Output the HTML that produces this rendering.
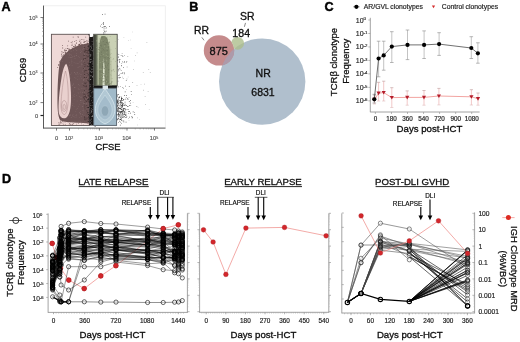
<!DOCTYPE html>
<html><head><meta charset="utf-8"><style>
html,body{margin:0;padding:0;background:#fff;}
body{width:520px;height:342px;overflow:hidden;}
svg{display:block;font-family:"Liberation Sans",sans-serif;filter:blur(0.25px);}
</style></head><body>
<svg width="520" height="342" viewBox="0 0 520 342">
<text x="1.60" y="10.60" font-size="12.6" font-weight="bold" fill="#000" stroke="#000" stroke-width="0.45" >A</text>
<rect x="43.5" y="5.8" width="121.8" height="122.3" fill="none" stroke="#ececec" stroke-width="0.8"/>
<path d="M43.50 5.60L43.50 128.40" stroke="#4a4a4a" stroke-width="0.9" />
<path d="M43.20 128.10L165.50 128.10" stroke="#4a4a4a" stroke-width="0.9" />
<path d="M40.50 17.50L43.50 17.50" stroke="#444" stroke-width="0.7" />
<text x="29.00" y="19.60" font-size="5.8" fill="#555" stroke="#555" stroke-width="0.15">10<tspan font-size="3.60" dy="-1.74">5</tspan></text>
<path d="M40.50 44.00L43.50 44.00" stroke="#444" stroke-width="0.7" />
<text x="29.00" y="46.10" font-size="5.8" fill="#555" stroke="#555" stroke-width="0.15">10<tspan font-size="3.60" dy="-1.74">4</tspan></text>
<path d="M40.50 73.00L43.50 73.00" stroke="#444" stroke-width="0.7" />
<text x="29.00" y="75.10" font-size="5.8" fill="#555" stroke="#555" stroke-width="0.15">10<tspan font-size="3.60" dy="-1.74">3</tspan></text>
<path d="M40.50 102.60L43.50 102.60" stroke="#444" stroke-width="0.7" />
<text x="29.00" y="104.70" font-size="5.8" fill="#555" stroke="#555" stroke-width="0.15">10<tspan font-size="3.60" dy="-1.74">2</tspan></text>
<path d="M40.50 115.50L43.50 115.50" stroke="#222" stroke-width="1.2" />
<text x="35.00" y="118.00" font-size="5.8" fill="#555" stroke="#555" stroke-width="0.18" >0</text>
<path d="M42.00 36.02L43.50 36.02" stroke="#777" stroke-width="0.5" />
<path d="M42.00 31.36L43.50 31.36" stroke="#777" stroke-width="0.5" />
<path d="M42.00 28.05L43.50 28.05" stroke="#777" stroke-width="0.5" />
<path d="M42.00 25.48L43.50 25.48" stroke="#777" stroke-width="0.5" />
<path d="M42.00 23.38L43.50 23.38" stroke="#777" stroke-width="0.5" />
<path d="M42.00 21.60L43.50 21.60" stroke="#777" stroke-width="0.5" />
<path d="M42.00 20.07L43.50 20.07" stroke="#777" stroke-width="0.5" />
<path d="M42.00 18.71L43.50 18.71" stroke="#777" stroke-width="0.5" />
<path d="M42.00 64.27L43.50 64.27" stroke="#777" stroke-width="0.5" />
<path d="M42.00 59.16L43.50 59.16" stroke="#777" stroke-width="0.5" />
<path d="M42.00 55.54L43.50 55.54" stroke="#777" stroke-width="0.5" />
<path d="M42.00 52.73L43.50 52.73" stroke="#777" stroke-width="0.5" />
<path d="M42.00 50.43L43.50 50.43" stroke="#777" stroke-width="0.5" />
<path d="M42.00 48.49L43.50 48.49" stroke="#777" stroke-width="0.5" />
<path d="M42.00 46.81L43.50 46.81" stroke="#777" stroke-width="0.5" />
<path d="M42.00 45.33L43.50 45.33" stroke="#777" stroke-width="0.5" />
<path d="M42.00 93.69L43.50 93.69" stroke="#777" stroke-width="0.5" />
<path d="M42.00 88.48L43.50 88.48" stroke="#777" stroke-width="0.5" />
<path d="M42.00 84.78L43.50 84.78" stroke="#777" stroke-width="0.5" />
<path d="M42.00 81.91L43.50 81.91" stroke="#777" stroke-width="0.5" />
<path d="M42.00 79.57L43.50 79.57" stroke="#777" stroke-width="0.5" />
<path d="M42.00 77.59L43.50 77.59" stroke="#777" stroke-width="0.5" />
<path d="M42.00 75.87L43.50 75.87" stroke="#777" stroke-width="0.5" />
<path d="M42.00 74.35L43.50 74.35" stroke="#777" stroke-width="0.5" />
<path d="M56.50 128.10L56.50 130.60" stroke="#444" stroke-width="0.7" />
<path d="M69.50 128.10L69.50 130.60" stroke="#444" stroke-width="0.7" />
<path d="M99.40 128.10L99.40 130.60" stroke="#444" stroke-width="0.7" />
<path d="M127.00 128.10L127.00 130.60" stroke="#444" stroke-width="0.7" />
<path d="M154.50 128.10L154.50 130.60" stroke="#444" stroke-width="0.7" />
<text x="56.50" y="140.30" font-size="5.8" text-anchor="middle" fill="#555" stroke="#555" stroke-width="0.18" >0</text>
<text x="64.70" y="140.30" font-size="5.8" fill="#555" stroke="#555" stroke-width="0.15">10<tspan font-size="3.60" dy="-1.74">2</tspan></text>
<text x="94.60" y="140.30" font-size="5.8" fill="#555" stroke="#555" stroke-width="0.15">10<tspan font-size="3.60" dy="-1.74">3</tspan></text>
<text x="122.20" y="140.30" font-size="5.8" fill="#555" stroke="#555" stroke-width="0.15">10<tspan font-size="3.60" dy="-1.74">4</tspan></text>
<text x="149.70" y="140.30" font-size="5.8" fill="#555" stroke="#555" stroke-width="0.15">10<tspan font-size="3.60" dy="-1.74">5</tspan></text>
<path d="M78.50 128.10L78.50 129.40" stroke="#777" stroke-width="0.5" />
<path d="M83.77 128.10L83.77 129.40" stroke="#777" stroke-width="0.5" />
<path d="M87.50 128.10L87.50 129.40" stroke="#777" stroke-width="0.5" />
<path d="M90.40 128.10L90.40 129.40" stroke="#777" stroke-width="0.5" />
<path d="M92.77 128.10L92.77 129.40" stroke="#777" stroke-width="0.5" />
<path d="M94.77 128.10L94.77 129.40" stroke="#777" stroke-width="0.5" />
<path d="M96.50 128.10L96.50 129.40" stroke="#777" stroke-width="0.5" />
<path d="M98.03 128.10L98.03 129.40" stroke="#777" stroke-width="0.5" />
<path d="M107.71 128.10L107.71 129.40" stroke="#777" stroke-width="0.5" />
<path d="M112.57 128.10L112.57 129.40" stroke="#777" stroke-width="0.5" />
<path d="M116.02 128.10L116.02 129.40" stroke="#777" stroke-width="0.5" />
<path d="M118.69 128.10L118.69 129.40" stroke="#777" stroke-width="0.5" />
<path d="M120.88 128.10L120.88 129.40" stroke="#777" stroke-width="0.5" />
<path d="M122.72 128.10L122.72 129.40" stroke="#777" stroke-width="0.5" />
<path d="M124.33 128.10L124.33 129.40" stroke="#777" stroke-width="0.5" />
<path d="M125.74 128.10L125.74 129.40" stroke="#777" stroke-width="0.5" />
<path d="M135.28 128.10L135.28 129.40" stroke="#777" stroke-width="0.5" />
<path d="M140.12 128.10L140.12 129.40" stroke="#777" stroke-width="0.5" />
<path d="M143.56 128.10L143.56 129.40" stroke="#777" stroke-width="0.5" />
<path d="M146.22 128.10L146.22 129.40" stroke="#777" stroke-width="0.5" />
<path d="M148.40 128.10L148.40 129.40" stroke="#777" stroke-width="0.5" />
<path d="M150.24 128.10L150.24 129.40" stroke="#777" stroke-width="0.5" />
<path d="M151.83 128.10L151.83 129.40" stroke="#777" stroke-width="0.5" />
<path d="M153.24 128.10L153.24 129.40" stroke="#777" stroke-width="0.5" />
<text x="107.90" y="150.40" font-size="9.4" text-anchor="middle" fill="#111" stroke="#111" stroke-width="0.32" >CFSE</text>
<text x="0" y="0" font-size="9.6" text-anchor="middle" fill="#111" stroke="#111" stroke-width="0.28" transform="translate(25.6,70) rotate(-90)">CD69</text>
<rect x="51.4" y="34.3" width="38.0" height="91.2" fill="#efd9d7" stroke="#5e5353" stroke-width="0.9"/>
<clipPath id="cpA"><rect x="51.8" y="34.7" width="37.4" height="90.4"/></clipPath>
<g clip-path="url(#cpA)">
<path d="M89.4,43 C84,43.8 78,45.5 73,48 C67.5,51 62.5,55.5 60.3,61 C58.6,67 57.8,80 57.5,95 C57.2,108 57.9,116 60,120 C63,122.3 72,122.5 80,122.8 L89.4,123.5 Z" fill="#6d5556"/>
<path d="M58.5 65.2h0.8v0.8h-0.8zM79.6 44.3h0.8v0.8h-0.8zM66.0 50.1h0.8v0.8h-0.8zM64.6 52.5h0.8v0.8h-0.8zM62.3 47.6h0.8v0.8h-0.8zM68.3 48.4h0.8v0.8h-0.8zM65.5 48.5h0.8v0.8h-0.8zM81.0 43.7h0.8v0.8h-0.8zM80.5 41.8h0.8v0.8h-0.8zM65.4 50.2h0.8v0.8h-0.8zM75.0 47.1h0.8v0.8h-0.8zM73.7 47.5h0.8v0.8h-0.8zM71.7 47.5h0.8v0.8h-0.8zM61.2 53.9h0.8v0.8h-0.8zM59.3 61.2h0.8v0.8h-0.8zM67.0 48.1h0.8v0.8h-0.8zM79.5 43.8h0.8v0.8h-0.8zM71.6 45.1h0.8v0.8h-0.8zM87.6 43.2h0.8v0.8h-0.8zM72.8 36.8h0.8v0.8h-0.8zM68.7 50.6h0.8v0.8h-0.8zM77.9 45.7h0.8v0.8h-0.8zM78.3 46.2h0.8v0.8h-0.8zM85.3 36.7h0.8v0.8h-0.8zM77.9 46.3h0.8v0.8h-0.8zM79.6 39.8h0.8v0.8h-0.8zM87.0 43.7h0.8v0.8h-0.8zM87.7 41.0h0.8v0.8h-0.8zM69.3 48.7h0.8v0.8h-0.8zM86.8 42.6h0.8v0.8h-0.8zM67.3 45.4h0.8v0.8h-0.8zM81.4 44.4h0.8v0.8h-0.8zM75.7 47.1h0.8v0.8h-0.8zM71.9 41.5h0.8v0.8h-0.8zM83.9 42.2h0.8v0.8h-0.8zM58.2 64.5h0.8v0.8h-0.8zM77.3 46.4h0.8v0.8h-0.8zM62.8 52.1h0.8v0.8h-0.8zM58.6 63.9h0.8v0.8h-0.8zM86.0 40.5h0.8v0.8h-0.8zM78.2 36.8h0.8v0.8h-0.8zM83.4 41.9h0.8v0.8h-0.8zM71.7 43.7h0.8v0.8h-0.8zM75.5 46.5h0.8v0.8h-0.8zM77.5 45.8h0.8v0.8h-0.8zM59.6 62.8h0.8v0.8h-0.8zM68.5 49.6h0.8v0.8h-0.8zM85.7 44.1h0.8v0.8h-0.8zM84.3 41.3h0.8v0.8h-0.8zM61.6 56.5h0.8v0.8h-0.8zM70.8 42.3h0.8v0.8h-0.8zM80.4 45.6h0.8v0.8h-0.8zM66.8 52.3h0.8v0.8h-0.8zM77.5 36.5h0.8v0.8h-0.8zM75.0 45.0h0.8v0.8h-0.8zM61.5 52.8h0.8v0.8h-0.8zM65.8 53.2h0.8v0.8h-0.8zM75.2 44.8h0.8v0.8h-0.8zM75.4 45.9h0.8v0.8h-0.8zM82.0 43.9h0.8v0.8h-0.8zM76.1 42.4h0.8v0.8h-0.8zM88.9 37.9h0.8v0.8h-0.8zM78.9 46.2h0.8v0.8h-0.8zM61.5 51.2h0.8v0.8h-0.8zM65.6 50.0h0.8v0.8h-0.8zM68.0 40.8h0.8v0.8h-0.8zM80.1 42.7h0.8v0.8h-0.8zM75.9 42.9h0.8v0.8h-0.8zM79.0 45.3h0.8v0.8h-0.8zM65.1 53.7h0.8v0.8h-0.8zM74.3 41.0h0.8v0.8h-0.8zM84.9 44.1h0.8v0.8h-0.8zM61.7 55.6h0.8v0.8h-0.8zM83.4 41.8h0.8v0.8h-0.8zM75.4 46.6h0.8v0.8h-0.8zM73.2 46.1h0.8v0.8h-0.8zM80.2 45.6h0.8v0.8h-0.8zM68.4 50.0h0.8v0.8h-0.8zM74.6 44.5h0.8v0.8h-0.8zM68.6 50.0h0.8v0.8h-0.8zM78.7 44.1h0.8v0.8h-0.8zM61.6 55.2h0.8v0.8h-0.8zM72.2 48.3h0.8v0.8h-0.8zM63.1 54.5h0.8v0.8h-0.8zM78.1 44.5h0.8v0.8h-0.8zM68.0 50.9h0.8v0.8h-0.8zM78.0 46.2h0.8v0.8h-0.8zM65.1 52.6h0.8v0.8h-0.8zM78.9 44.7h0.8v0.8h-0.8zM75.8 39.9h0.8v0.8h-0.8zM63.0 54.8h0.8v0.8h-0.8zM89.0 37.5h0.8v0.8h-0.8zM78.7 45.3h0.8v0.8h-0.8zM75.4 46.3h0.8v0.8h-0.8zM64.1 49.6h0.8v0.8h-0.8zM86.9 43.2h0.8v0.8h-0.8zM65.3 51.8h0.8v0.8h-0.8zM87.5 40.5h0.8v0.8h-0.8zM81.5 39.1h0.8v0.8h-0.8zM57.3 67.0h0.8v0.8h-0.8zM64.5 50.6h0.8v0.8h-0.8zM69.5 49.1h0.8v0.8h-0.8zM80.3 45.3h0.8v0.8h-0.8zM59.3 61.7h0.8v0.8h-0.8zM83.5 39.5h0.8v0.8h-0.8zM85.3 40.9h0.8v0.8h-0.8zM75.3 47.0h0.8v0.8h-0.8zM79.2 41.3h0.8v0.8h-0.8zM74.1 45.9h0.8v0.8h-0.8zM62.0 45.0h0.8v0.8h-0.8zM70.3 49.8h0.8v0.8h-0.8zM60.0 60.4h0.8v0.8h-0.8z" fill="#6c5353" />
<path d="M66.4 115.8h0.6v0.6h-0.6zM80.2 99.9h0.6v0.6h-0.6zM65.6 107.1h0.6v0.6h-0.6zM87.3 111.0h0.6v0.6h-0.6zM82.1 106.0h0.6v0.6h-0.6zM83.7 88.4h0.6v0.6h-0.6zM73.8 105.9h0.6v0.6h-0.6zM83.2 108.7h0.6v0.6h-0.6zM70.1 115.4h0.6v0.6h-0.6zM76.4 114.2h0.6v0.6h-0.6zM65.1 116.0h0.6v0.6h-0.6zM83.3 64.0h0.6v0.6h-0.6zM84.6 62.3h0.6v0.6h-0.6zM67.3 82.8h0.6v0.6h-0.6zM68.4 84.7h0.6v0.6h-0.6zM86.5 95.0h0.6v0.6h-0.6zM81.2 74.5h0.6v0.6h-0.6zM83.2 103.1h0.6v0.6h-0.6zM80.4 113.8h0.6v0.6h-0.6zM84.3 75.0h0.6v0.6h-0.6zM64.4 96.2h0.6v0.6h-0.6zM84.6 70.1h0.6v0.6h-0.6zM78.1 106.5h0.6v0.6h-0.6zM83.4 46.2h0.6v0.6h-0.6zM75.2 49.5h0.6v0.6h-0.6zM65.0 106.1h0.6v0.6h-0.6zM73.3 90.7h0.6v0.6h-0.6zM74.4 71.9h0.6v0.6h-0.6zM67.8 75.9h0.6v0.6h-0.6zM84.8 90.4h0.6v0.6h-0.6zM69.9 57.1h0.6v0.6h-0.6zM69.3 98.2h0.6v0.6h-0.6zM73.9 94.5h0.6v0.6h-0.6zM83.8 54.4h0.6v0.6h-0.6zM80.4 49.7h0.6v0.6h-0.6zM84.2 58.9h0.6v0.6h-0.6zM69.3 115.2h0.6v0.6h-0.6zM71.8 65.2h0.6v0.6h-0.6zM86.0 89.6h0.6v0.6h-0.6zM86.1 73.8h0.6v0.6h-0.6zM75.5 114.9h0.6v0.6h-0.6zM75.7 117.2h0.6v0.6h-0.6zM67.1 107.0h0.6v0.6h-0.6zM66.4 87.7h0.6v0.6h-0.6zM62.0 67.7h0.6v0.6h-0.6zM87.5 78.0h0.6v0.6h-0.6zM83.9 63.8h0.6v0.6h-0.6zM71.5 56.9h0.6v0.6h-0.6zM76.9 108.3h0.6v0.6h-0.6zM75.9 74.4h0.6v0.6h-0.6zM87.1 110.2h0.6v0.6h-0.6zM80.0 52.3h0.6v0.6h-0.6zM78.8 78.7h0.6v0.6h-0.6zM87.9 71.1h0.6v0.6h-0.6zM79.9 91.8h0.6v0.6h-0.6zM72.1 85.3h0.6v0.6h-0.6zM80.3 111.4h0.6v0.6h-0.6zM75.4 73.6h0.6v0.6h-0.6zM88.4 48.5h0.6v0.6h-0.6zM84.5 95.1h0.6v0.6h-0.6zM77.1 79.2h0.6v0.6h-0.6zM82.3 110.2h0.6v0.6h-0.6zM81.7 100.1h0.6v0.6h-0.6zM62.9 76.4h0.6v0.6h-0.6zM65.7 115.0h0.6v0.6h-0.6zM86.1 55.6h0.6v0.6h-0.6zM77.9 88.2h0.6v0.6h-0.6zM63.3 80.4h0.6v0.6h-0.6zM82.2 92.3h0.6v0.6h-0.6zM69.6 102.2h0.6v0.6h-0.6zM69.9 87.6h0.6v0.6h-0.6zM73.4 116.5h0.6v0.6h-0.6zM79.5 104.2h0.6v0.6h-0.6zM80.3 73.9h0.6v0.6h-0.6zM88.0 96.6h0.6v0.6h-0.6zM80.7 66.5h0.6v0.6h-0.6zM66.4 90.7h0.6v0.6h-0.6zM84.3 103.1h0.6v0.6h-0.6zM71.4 59.7h0.6v0.6h-0.6zM75.9 109.4h0.6v0.6h-0.6zM66.4 101.2h0.6v0.6h-0.6zM66.6 73.7h0.6v0.6h-0.6zM63.4 74.4h0.6v0.6h-0.6zM72.3 115.7h0.6v0.6h-0.6zM88.0 58.2h0.6v0.6h-0.6zM70.4 114.2h0.6v0.6h-0.6zM67.3 73.9h0.6v0.6h-0.6zM73.8 56.3h0.6v0.6h-0.6zM69.0 77.9h0.6v0.6h-0.6zM72.4 115.5h0.6v0.6h-0.6zM69.2 65.3h0.6v0.6h-0.6zM86.5 77.8h0.6v0.6h-0.6zM84.6 91.7h0.6v0.6h-0.6zM83.0 68.6h0.6v0.6h-0.6zM66.1 102.5h0.6v0.6h-0.6zM74.7 87.3h0.6v0.6h-0.6zM80.1 100.4h0.6v0.6h-0.6zM69.4 75.7h0.6v0.6h-0.6zM86.8 83.5h0.6v0.6h-0.6zM69.8 93.3h0.6v0.6h-0.6zM69.0 102.9h0.6v0.6h-0.6zM63.1 107.3h0.6v0.6h-0.6zM77.3 72.6h0.6v0.6h-0.6zM87.4 64.1h0.6v0.6h-0.6zM68.6 56.8h0.6v0.6h-0.6zM76.8 100.7h0.6v0.6h-0.6zM80.3 76.2h0.6v0.6h-0.6zM83.8 53.7h0.6v0.6h-0.6zM70.3 94.2h0.6v0.6h-0.6zM88.1 91.1h0.6v0.6h-0.6zM80.7 101.9h0.6v0.6h-0.6zM72.7 113.9h0.6v0.6h-0.6zM82.0 70.8h0.6v0.6h-0.6zM72.6 104.7h0.6v0.6h-0.6zM71.4 62.7h0.6v0.6h-0.6zM85.5 83.9h0.6v0.6h-0.6zM76.1 94.9h0.6v0.6h-0.6zM86.3 54.7h0.6v0.6h-0.6zM71.1 54.8h0.6v0.6h-0.6zM73.2 83.6h0.6v0.6h-0.6zM85.0 93.9h0.6v0.6h-0.6zM77.6 76.0h0.6v0.6h-0.6zM77.5 66.9h0.6v0.6h-0.6zM84.8 102.6h0.6v0.6h-0.6zM84.6 56.4h0.6v0.6h-0.6zM80.1 100.5h0.6v0.6h-0.6zM75.5 110.9h0.6v0.6h-0.6zM86.3 99.2h0.6v0.6h-0.6zM84.2 92.6h0.6v0.6h-0.6zM85.7 54.7h0.6v0.6h-0.6zM81.0 96.8h0.6v0.6h-0.6zM78.5 66.8h0.6v0.6h-0.6zM63.8 93.3h0.6v0.6h-0.6zM84.3 65.3h0.6v0.6h-0.6zM67.8 67.4h0.6v0.6h-0.6zM64.5 97.6h0.6v0.6h-0.6zM88.3 103.4h0.6v0.6h-0.6zM71.7 97.5h0.6v0.6h-0.6zM63.9 107.9h0.6v0.6h-0.6zM70.8 50.8h0.6v0.6h-0.6zM79.0 57.0h0.6v0.6h-0.6zM69.4 55.5h0.6v0.6h-0.6zM74.0 87.1h0.6v0.6h-0.6zM83.8 48.6h0.6v0.6h-0.6zM84.3 53.6h0.6v0.6h-0.6zM68.1 93.8h0.6v0.6h-0.6zM71.2 72.7h0.6v0.6h-0.6zM77.3 63.0h0.6v0.6h-0.6zM83.4 60.9h0.6v0.6h-0.6zM84.7 104.1h0.6v0.6h-0.6zM76.5 50.1h0.6v0.6h-0.6zM83.0 48.0h0.6v0.6h-0.6zM75.6 77.8h0.6v0.6h-0.6zM63.7 95.0h0.6v0.6h-0.6zM81.6 88.3h0.6v0.6h-0.6zM72.8 84.4h0.6v0.6h-0.6zM77.9 63.5h0.6v0.6h-0.6zM85.4 117.7h0.6v0.6h-0.6zM83.7 115.2h0.6v0.6h-0.6zM70.9 117.1h0.6v0.6h-0.6zM63.9 85.4h0.6v0.6h-0.6zM65.6 83.3h0.6v0.6h-0.6zM80.4 97.2h0.6v0.6h-0.6zM74.3 72.3h0.6v0.6h-0.6zM67.1 79.3h0.6v0.6h-0.6zM69.6 64.4h0.6v0.6h-0.6zM81.9 83.3h0.6v0.6h-0.6zM73.8 62.4h0.6v0.6h-0.6zM81.0 60.6h0.6v0.6h-0.6zM69.2 88.9h0.6v0.6h-0.6zM80.9 116.1h0.6v0.6h-0.6zM82.2 114.3h0.6v0.6h-0.6zM86.8 97.7h0.6v0.6h-0.6zM81.4 50.9h0.6v0.6h-0.6zM67.6 53.8h0.6v0.6h-0.6zM85.3 97.8h0.6v0.6h-0.6zM79.0 65.9h0.6v0.6h-0.6zM71.6 61.1h0.6v0.6h-0.6zM79.1 117.4h0.6v0.6h-0.6zM70.3 54.0h0.6v0.6h-0.6zM66.7 76.5h0.6v0.6h-0.6zM86.3 103.7h0.6v0.6h-0.6zM74.3 55.7h0.6v0.6h-0.6zM64.9 64.6h0.6v0.6h-0.6zM83.0 79.9h0.6v0.6h-0.6zM88.7 111.5h0.6v0.6h-0.6zM83.5 80.2h0.6v0.6h-0.6zM84.2 54.9h0.6v0.6h-0.6zM64.9 90.4h0.6v0.6h-0.6zM75.7 62.8h0.6v0.6h-0.6zM68.8 53.5h0.6v0.6h-0.6zM86.5 96.8h0.6v0.6h-0.6zM87.5 116.6h0.6v0.6h-0.6zM73.8 99.5h0.6v0.6h-0.6zM72.4 105.1h0.6v0.6h-0.6zM84.7 55.1h0.6v0.6h-0.6zM62.3 69.9h0.6v0.6h-0.6zM77.8 74.2h0.6v0.6h-0.6zM62.2 107.6h0.6v0.6h-0.6zM83.2 79.3h0.6v0.6h-0.6zM63.2 111.1h0.6v0.6h-0.6zM76.4 52.9h0.6v0.6h-0.6zM70.7 92.7h0.6v0.6h-0.6zM85.9 80.4h0.6v0.6h-0.6zM79.3 61.7h0.6v0.6h-0.6zM68.6 111.8h0.6v0.6h-0.6zM72.3 56.6h0.6v0.6h-0.6zM78.0 56.4h0.6v0.6h-0.6zM67.4 82.7h0.6v0.6h-0.6zM77.8 92.4h0.6v0.6h-0.6zM81.1 78.0h0.6v0.6h-0.6zM63.8 100.8h0.6v0.6h-0.6zM63.5 85.2h0.6v0.6h-0.6zM72.8 95.5h0.6v0.6h-0.6zM81.3 63.6h0.6v0.6h-0.6zM79.5 96.1h0.6v0.6h-0.6zM74.7 58.3h0.6v0.6h-0.6zM86.5 88.7h0.6v0.6h-0.6zM63.7 70.6h0.6v0.6h-0.6zM88.6 61.1h0.6v0.6h-0.6zM72.6 103.4h0.6v0.6h-0.6zM84.2 91.5h0.6v0.6h-0.6zM82.0 49.0h0.6v0.6h-0.6zM64.5 116.5h0.6v0.6h-0.6zM83.7 48.5h0.6v0.6h-0.6zM63.3 70.9h0.6v0.6h-0.6zM87.1 60.8h0.6v0.6h-0.6zM80.1 113.0h0.6v0.6h-0.6zM79.2 112.3h0.6v0.6h-0.6zM69.1 62.0h0.6v0.6h-0.6zM62.5 103.1h0.6v0.6h-0.6zM64.8 116.3h0.6v0.6h-0.6zM81.2 59.9h0.6v0.6h-0.6zM83.8 57.5h0.6v0.6h-0.6zM75.8 55.5h0.6v0.6h-0.6zM83.2 110.0h0.6v0.6h-0.6zM86.7 45.0h0.6v0.6h-0.6zM85.0 85.7h0.6v0.6h-0.6zM84.2 82.0h0.6v0.6h-0.6zM78.7 89.3h0.6v0.6h-0.6zM83.6 51.4h0.6v0.6h-0.6zM63.5 89.8h0.6v0.6h-0.6zM69.9 77.8h0.6v0.6h-0.6zM62.2 102.4h0.6v0.6h-0.6zM62.6 107.5h0.6v0.6h-0.6zM83.9 78.8h0.6v0.6h-0.6zM65.3 95.8h0.6v0.6h-0.6zM67.6 80.8h0.6v0.6h-0.6zM65.0 116.5h0.6v0.6h-0.6zM76.7 72.6h0.6v0.6h-0.6zM64.5 101.0h0.6v0.6h-0.6zM84.9 107.0h0.6v0.6h-0.6zM64.7 78.2h0.6v0.6h-0.6zM70.2 102.1h0.6v0.6h-0.6zM66.0 92.8h0.6v0.6h-0.6zM88.4 101.0h0.6v0.6h-0.6zM62.2 61.4h0.6v0.6h-0.6zM65.1 98.6h0.6v0.6h-0.6zM78.2 84.1h0.6v0.6h-0.6zM74.3 76.9h0.6v0.6h-0.6zM78.5 93.2h0.6v0.6h-0.6zM86.7 98.4h0.6v0.6h-0.6zM83.5 111.7h0.6v0.6h-0.6zM84.6 97.4h0.6v0.6h-0.6zM62.8 98.3h0.6v0.6h-0.6zM84.9 76.6h0.6v0.6h-0.6zM85.7 58.2h0.6v0.6h-0.6zM87.5 77.0h0.6v0.6h-0.6zM81.1 64.6h0.6v0.6h-0.6zM70.1 74.4h0.6v0.6h-0.6zM70.8 57.0h0.6v0.6h-0.6zM74.0 116.7h0.6v0.6h-0.6zM79.7 113.2h0.6v0.6h-0.6zM82.6 106.3h0.6v0.6h-0.6zM88.8 99.7h0.6v0.6h-0.6zM69.4 68.2h0.6v0.6h-0.6zM73.1 50.4h0.6v0.6h-0.6zM68.2 110.5h0.6v0.6h-0.6zM86.9 68.8h0.6v0.6h-0.6zM82.8 101.8h0.6v0.6h-0.6zM86.0 103.0h0.6v0.6h-0.6zM76.4 55.3h0.6v0.6h-0.6zM84.3 68.3h0.6v0.6h-0.6zM78.9 73.2h0.6v0.6h-0.6zM76.5 115.6h0.6v0.6h-0.6zM66.4 87.9h0.6v0.6h-0.6zM79.5 85.2h0.6v0.6h-0.6zM87.3 74.5h0.6v0.6h-0.6zM86.7 95.3h0.6v0.6h-0.6zM88.1 51.0h0.6v0.6h-0.6zM67.7 71.6h0.6v0.6h-0.6zM86.5 45.9h0.6v0.6h-0.6zM69.0 99.2h0.6v0.6h-0.6zM88.7 57.2h0.6v0.6h-0.6zM73.8 96.3h0.6v0.6h-0.6zM80.6 99.9h0.6v0.6h-0.6zM82.3 64.0h0.6v0.6h-0.6zM68.9 53.8h0.6v0.6h-0.6zM80.7 61.6h0.6v0.6h-0.6zM69.0 115.6h0.6v0.6h-0.6z" fill="#8a7272" />
<path d="M77.9 123.5h0.6v0.6h-0.6zM78.3 123.5h0.6v0.6h-0.6zM79.5 122.0h0.6v0.6h-0.6zM60.0 120.8h0.6v0.6h-0.6zM58.5 122.3h0.6v0.6h-0.6zM62.4 121.1h0.6v0.6h-0.6zM73.3 125.3h0.6v0.6h-0.6zM79.3 121.9h0.6v0.6h-0.6zM81.9 121.4h0.6v0.6h-0.6zM61.1 122.0h0.6v0.6h-0.6zM70.7 123.9h0.6v0.6h-0.6zM71.8 124.1h0.6v0.6h-0.6zM60.9 125.2h0.6v0.6h-0.6zM68.6 124.7h0.6v0.6h-0.6zM59.0 124.6h0.6v0.6h-0.6zM65.0 124.8h0.6v0.6h-0.6zM82.9 123.9h0.6v0.6h-0.6zM66.6 120.5h0.6v0.6h-0.6zM63.9 125.0h0.6v0.6h-0.6zM62.9 123.8h0.6v0.6h-0.6zM76.2 123.8h0.6v0.6h-0.6zM63.6 121.2h0.6v0.6h-0.6zM61.0 125.4h0.6v0.6h-0.6zM69.9 123.8h0.6v0.6h-0.6zM75.7 121.6h0.6v0.6h-0.6zM60.0 120.6h0.6v0.6h-0.6zM84.4 121.2h0.6v0.6h-0.6zM87.9 122.3h0.6v0.6h-0.6zM80.4 121.2h0.6v0.6h-0.6zM82.4 121.8h0.6v0.6h-0.6zM69.4 123.1h0.6v0.6h-0.6zM61.5 121.7h0.6v0.6h-0.6zM82.7 121.9h0.6v0.6h-0.6zM69.8 124.3h0.6v0.6h-0.6zM64.9 121.5h0.6v0.6h-0.6zM64.8 122.4h0.6v0.6h-0.6zM69.3 123.7h0.6v0.6h-0.6zM72.6 124.8h0.6v0.6h-0.6zM59.6 123.8h0.6v0.6h-0.6zM83.9 121.7h0.6v0.6h-0.6zM58.9 122.7h0.6v0.6h-0.6zM61.6 122.8h0.6v0.6h-0.6zM80.1 121.0h0.6v0.6h-0.6zM61.7 122.9h0.6v0.6h-0.6zM63.4 121.7h0.6v0.6h-0.6zM71.6 121.1h0.6v0.6h-0.6zM60.1 122.3h0.6v0.6h-0.6zM72.5 125.2h0.6v0.6h-0.6zM75.2 120.9h0.6v0.6h-0.6zM64.9 124.2h0.6v0.6h-0.6zM75.4 124.9h0.6v0.6h-0.6zM87.8 124.8h0.6v0.6h-0.6zM61.4 125.2h0.6v0.6h-0.6zM74.3 121.7h0.6v0.6h-0.6zM63.3 124.8h0.6v0.6h-0.6zM64.6 120.9h0.6v0.6h-0.6zM66.2 125.1h0.6v0.6h-0.6zM72.3 124.2h0.6v0.6h-0.6zM60.3 122.8h0.6v0.6h-0.6zM67.9 121.5h0.6v0.6h-0.6zM78.6 122.3h0.6v0.6h-0.6zM61.7 125.4h0.6v0.6h-0.6zM72.9 121.4h0.6v0.6h-0.6zM58.3 123.8h0.6v0.6h-0.6zM74.0 120.6h0.6v0.6h-0.6zM72.6 124.2h0.6v0.6h-0.6zM74.7 121.7h0.6v0.6h-0.6zM73.5 123.5h0.6v0.6h-0.6zM78.2 121.2h0.6v0.6h-0.6zM82.9 125.2h0.6v0.6h-0.6zM81.0 124.8h0.6v0.6h-0.6zM69.4 125.0h0.6v0.6h-0.6zM63.6 121.6h0.6v0.6h-0.6zM76.5 125.0h0.6v0.6h-0.6zM60.5 121.6h0.6v0.6h-0.6zM59.1 122.7h0.6v0.6h-0.6zM62.4 121.5h0.6v0.6h-0.6zM81.2 123.4h0.6v0.6h-0.6zM87.1 122.5h0.6v0.6h-0.6zM79.1 120.6h0.6v0.6h-0.6zM87.4 121.7h0.6v0.6h-0.6zM72.8 123.1h0.6v0.6h-0.6zM87.4 123.0h0.6v0.6h-0.6zM88.7 123.6h0.6v0.6h-0.6zM64.7 124.7h0.6v0.6h-0.6zM64.3 125.5h0.6v0.6h-0.6zM72.2 121.6h0.6v0.6h-0.6zM87.8 122.1h0.6v0.6h-0.6zM70.6 122.2h0.6v0.6h-0.6zM78.7 120.6h0.6v0.6h-0.6z" fill="#7a6060" />
<path d="M85.4 58.3h0.8v0.8h-0.8zM88.3 46.0h0.8v0.8h-0.8zM86.9 65.6h0.8v0.8h-0.8zM85.9 88.7h0.8v0.8h-0.8zM87.6 56.5h0.8v0.8h-0.8zM84.5 55.2h0.8v0.8h-0.8zM89.1 57.3h0.8v0.8h-0.8zM83.9 85.7h0.8v0.8h-0.8zM86.7 113.4h0.8v0.8h-0.8zM83.4 63.8h0.8v0.8h-0.8zM84.1 90.5h0.8v0.8h-0.8zM85.9 77.1h0.8v0.8h-0.8zM88.7 96.3h0.8v0.8h-0.8zM88.5 118.7h0.8v0.8h-0.8zM84.7 117.6h0.8v0.8h-0.8zM85.6 49.9h0.8v0.8h-0.8zM88.9 53.9h0.8v0.8h-0.8zM83.1 68.0h0.8v0.8h-0.8zM84.8 119.5h0.8v0.8h-0.8zM88.6 77.9h0.8v0.8h-0.8zM86.4 110.5h0.8v0.8h-0.8zM88.2 95.7h0.8v0.8h-0.8zM86.3 54.9h0.8v0.8h-0.8zM84.6 96.0h0.8v0.8h-0.8zM86.8 106.9h0.8v0.8h-0.8zM88.8 119.1h0.8v0.8h-0.8zM84.2 51.8h0.8v0.8h-0.8zM88.7 89.3h0.8v0.8h-0.8zM84.2 98.6h0.8v0.8h-0.8zM84.6 64.0h0.8v0.8h-0.8zM85.3 85.8h0.8v0.8h-0.8zM87.3 51.6h0.8v0.8h-0.8zM87.7 93.4h0.8v0.8h-0.8zM86.0 97.1h0.8v0.8h-0.8zM88.1 46.7h0.8v0.8h-0.8zM86.0 97.5h0.8v0.8h-0.8zM87.5 95.2h0.8v0.8h-0.8zM84.2 118.8h0.8v0.8h-0.8zM88.0 63.7h0.8v0.8h-0.8zM85.8 118.8h0.8v0.8h-0.8zM84.3 77.1h0.8v0.8h-0.8zM89.2 114.4h0.8v0.8h-0.8zM84.5 101.9h0.8v0.8h-0.8zM85.3 96.4h0.8v0.8h-0.8zM87.9 55.7h0.8v0.8h-0.8zM84.4 62.3h0.8v0.8h-0.8zM84.7 48.7h0.8v0.8h-0.8zM83.9 76.9h0.8v0.8h-0.8zM85.7 51.9h0.8v0.8h-0.8zM86.7 117.6h0.8v0.8h-0.8zM86.7 73.0h0.8v0.8h-0.8zM87.5 79.2h0.8v0.8h-0.8zM84.1 82.6h0.8v0.8h-0.8zM83.1 97.4h0.8v0.8h-0.8zM84.0 74.1h0.8v0.8h-0.8zM89.2 104.3h0.8v0.8h-0.8zM88.3 94.8h0.8v0.8h-0.8zM87.1 99.6h0.8v0.8h-0.8zM89.2 60.9h0.8v0.8h-0.8zM87.9 68.9h0.8v0.8h-0.8zM84.6 108.4h0.8v0.8h-0.8zM86.8 110.6h0.8v0.8h-0.8zM88.6 90.7h0.8v0.8h-0.8zM84.3 47.1h0.8v0.8h-0.8zM86.4 101.1h0.8v0.8h-0.8zM84.7 51.3h0.8v0.8h-0.8zM83.0 59.2h0.8v0.8h-0.8zM87.5 46.3h0.8v0.8h-0.8zM84.5 66.2h0.8v0.8h-0.8zM87.6 121.0h0.8v0.8h-0.8zM83.1 54.7h0.8v0.8h-0.8zM89.0 119.7h0.8v0.8h-0.8zM84.0 71.5h0.8v0.8h-0.8zM86.3 70.3h0.8v0.8h-0.8zM85.7 82.4h0.8v0.8h-0.8zM84.7 50.2h0.8v0.8h-0.8zM83.5 58.3h0.8v0.8h-0.8zM83.6 93.4h0.8v0.8h-0.8zM87.5 66.0h0.8v0.8h-0.8zM88.1 101.4h0.8v0.8h-0.8zM85.2 83.4h0.8v0.8h-0.8zM84.2 116.6h0.8v0.8h-0.8zM86.6 49.9h0.8v0.8h-0.8zM84.0 98.6h0.8v0.8h-0.8zM85.5 100.5h0.8v0.8h-0.8zM84.5 106.6h0.8v0.8h-0.8zM88.1 53.2h0.8v0.8h-0.8zM86.8 60.5h0.8v0.8h-0.8zM87.5 107.1h0.8v0.8h-0.8zM88.1 63.6h0.8v0.8h-0.8zM83.6 96.4h0.8v0.8h-0.8zM86.6 56.5h0.8v0.8h-0.8zM84.2 90.3h0.8v0.8h-0.8zM83.7 94.2h0.8v0.8h-0.8zM84.5 65.6h0.8v0.8h-0.8zM85.7 86.5h0.8v0.8h-0.8zM87.6 48.3h0.8v0.8h-0.8zM87.6 62.8h0.8v0.8h-0.8zM84.9 94.6h0.8v0.8h-0.8zM87.4 92.7h0.8v0.8h-0.8zM88.8 61.6h0.8v0.8h-0.8zM85.0 96.4h0.8v0.8h-0.8zM84.7 58.0h0.8v0.8h-0.8zM84.4 104.6h0.8v0.8h-0.8zM88.3 100.4h0.8v0.8h-0.8zM89.1 106.4h0.8v0.8h-0.8zM85.0 70.0h0.8v0.8h-0.8zM87.6 50.2h0.8v0.8h-0.8zM86.9 52.8h0.8v0.8h-0.8zM83.3 85.0h0.8v0.8h-0.8zM84.0 116.8h0.8v0.8h-0.8zM88.6 81.1h0.8v0.8h-0.8zM84.3 55.1h0.8v0.8h-0.8zM86.2 85.6h0.8v0.8h-0.8zM85.3 100.4h0.8v0.8h-0.8zM86.4 104.9h0.8v0.8h-0.8zM83.7 51.3h0.8v0.8h-0.8zM85.5 82.7h0.8v0.8h-0.8zM84.6 96.8h0.8v0.8h-0.8zM84.4 70.2h0.8v0.8h-0.8z" fill="#433232" />
<path d="M66.2,63.8 C68.5,67 70.3,78 70.9,92 C71.4,105 70.5,114 66.5,117.5 C63.5,119.5 60,118 58.8,113 C58,105 59.5,90 61.5,78 C62.8,70 64.5,65 66.2,63.8 Z" fill="#e9d0ce"/>
<path d="M65.5,71 C67.5,77 68.5,90 68.2,100 C68,109 66.5,114 64.5,114.5 C62,114.5 60.8,110 61,104 C61.3,95 63,80 65.5,71 Z" fill="none" stroke="#b09090" stroke-width="0.55"/>
<ellipse cx="64.2" cy="106" rx="2.6" ry="5.5" fill="none" stroke="#a88888" stroke-width="0.5"/>
<ellipse cx="64.2" cy="107" rx="1.2" ry="2.8" fill="none" stroke="#a08080" stroke-width="0.45"/>
</g>
<rect x="89.4" y="37" width="4.4" height="88.5" fill="#1c1818"/>
<path d="M91.4 100.5h0.6v0.6h-0.6zM92.6 71.6h0.6v0.6h-0.6zM91.3 118.8h0.6v0.6h-0.6zM93.3 92.6h0.6v0.6h-0.6zM89.8 78.7h0.6v0.6h-0.6zM92.1 63.7h0.6v0.6h-0.6zM89.6 123.4h0.6v0.6h-0.6zM93.2 51.0h0.6v0.6h-0.6zM91.4 92.6h0.6v0.6h-0.6zM90.7 45.8h0.6v0.6h-0.6zM92.6 105.5h0.6v0.6h-0.6zM91.2 47.3h0.6v0.6h-0.6zM91.1 48.0h0.6v0.6h-0.6zM93.4 44.4h0.6v0.6h-0.6zM90.6 105.3h0.6v0.6h-0.6zM90.0 49.1h0.6v0.6h-0.6zM89.7 53.9h0.6v0.6h-0.6zM91.6 110.8h0.6v0.6h-0.6zM90.1 54.8h0.6v0.6h-0.6zM92.6 76.2h0.6v0.6h-0.6zM90.8 50.5h0.6v0.6h-0.6zM90.4 122.6h0.6v0.6h-0.6zM89.9 62.1h0.6v0.6h-0.6zM92.5 115.8h0.6v0.6h-0.6zM93.2 80.2h0.6v0.6h-0.6zM93.4 91.3h0.6v0.6h-0.6zM90.6 79.5h0.6v0.6h-0.6zM92.4 102.4h0.6v0.6h-0.6zM89.9 56.5h0.6v0.6h-0.6zM93.4 49.1h0.6v0.6h-0.6zM92.8 68.8h0.6v0.6h-0.6zM90.4 61.7h0.6v0.6h-0.6zM91.4 124.2h0.6v0.6h-0.6zM90.0 112.6h0.6v0.6h-0.6zM90.7 54.7h0.6v0.6h-0.6zM92.5 69.0h0.6v0.6h-0.6zM90.2 75.6h0.6v0.6h-0.6zM92.9 113.4h0.6v0.6h-0.6zM91.8 40.9h0.6v0.6h-0.6zM92.6 91.6h0.6v0.6h-0.6zM93.2 120.9h0.6v0.6h-0.6zM90.8 112.1h0.6v0.6h-0.6zM92.8 62.6h0.6v0.6h-0.6zM90.9 71.8h0.6v0.6h-0.6zM90.9 72.2h0.6v0.6h-0.6zM89.9 59.3h0.6v0.6h-0.6zM93.2 74.9h0.6v0.6h-0.6zM92.1 115.4h0.6v0.6h-0.6zM92.6 60.8h0.6v0.6h-0.6zM93.3 108.4h0.6v0.6h-0.6zM93.6 101.9h0.6v0.6h-0.6zM92.6 109.1h0.6v0.6h-0.6zM90.5 95.8h0.6v0.6h-0.6zM91.0 111.4h0.6v0.6h-0.6zM90.0 85.8h0.6v0.6h-0.6zM90.8 109.8h0.6v0.6h-0.6zM90.9 111.7h0.6v0.6h-0.6zM93.0 114.7h0.6v0.6h-0.6zM90.0 119.8h0.6v0.6h-0.6zM92.5 97.5h0.6v0.6h-0.6zM92.1 44.1h0.6v0.6h-0.6zM93.1 86.6h0.6v0.6h-0.6zM91.3 68.8h0.6v0.6h-0.6zM92.7 106.5h0.6v0.6h-0.6zM93.1 58.2h0.6v0.6h-0.6zM90.8 61.2h0.6v0.6h-0.6zM89.8 67.8h0.6v0.6h-0.6zM89.5 107.7h0.6v0.6h-0.6zM90.4 46.0h0.6v0.6h-0.6zM89.7 103.0h0.6v0.6h-0.6zM90.2 79.3h0.6v0.6h-0.6zM91.1 108.2h0.6v0.6h-0.6zM93.4 66.3h0.6v0.6h-0.6zM92.1 116.1h0.6v0.6h-0.6zM91.4 116.5h0.6v0.6h-0.6zM92.5 66.5h0.6v0.6h-0.6zM93.1 88.7h0.6v0.6h-0.6zM89.8 89.9h0.6v0.6h-0.6zM92.9 84.1h0.6v0.6h-0.6zM91.4 75.4h0.6v0.6h-0.6zM93.1 96.6h0.6v0.6h-0.6zM90.3 70.8h0.6v0.6h-0.6zM90.9 121.5h0.6v0.6h-0.6zM92.3 50.6h0.6v0.6h-0.6zM93.2 43.0h0.6v0.6h-0.6zM91.9 76.8h0.6v0.6h-0.6zM92.4 76.5h0.6v0.6h-0.6zM89.8 84.5h0.6v0.6h-0.6zM92.8 107.1h0.6v0.6h-0.6zM90.9 58.9h0.6v0.6h-0.6z" fill="#bbb" />
<path d="M93.1 107.8h0.8v0.8h-0.8zM89.1 115.2h0.8v0.8h-0.8zM94.9 73.9h0.8v0.8h-0.8zM90.4 99.3h0.8v0.8h-0.8zM94.5 52.6h0.8v0.8h-0.8zM89.8 64.3h0.8v0.8h-0.8zM93.0 51.2h0.8v0.8h-0.8zM91.6 80.0h0.8v0.8h-0.8zM92.5 47.2h0.8v0.8h-0.8zM94.7 126.0h0.8v0.8h-0.8zM91.7 107.2h0.8v0.8h-0.8zM88.9 117.7h0.8v0.8h-0.8zM91.6 103.9h0.8v0.8h-0.8zM94.0 67.3h0.8v0.8h-0.8zM94.4 53.1h0.8v0.8h-0.8zM87.7 80.2h0.8v0.8h-0.8zM94.2 116.8h0.8v0.8h-0.8zM94.7 81.0h0.8v0.8h-0.8zM94.5 85.5h0.8v0.8h-0.8zM88.6 92.1h0.8v0.8h-0.8zM93.5 73.0h0.8v0.8h-0.8zM92.0 57.8h0.8v0.8h-0.8zM89.6 72.7h0.8v0.8h-0.8zM91.3 77.1h0.8v0.8h-0.8zM88.2 34.5h0.8v0.8h-0.8zM90.1 100.0h0.8v0.8h-0.8zM93.1 55.8h0.8v0.8h-0.8zM89.4 81.5h0.8v0.8h-0.8zM88.8 89.5h0.8v0.8h-0.8zM94.3 52.6h0.8v0.8h-0.8zM91.9 100.3h0.8v0.8h-0.8zM93.1 99.5h0.8v0.8h-0.8zM92.8 59.1h0.8v0.8h-0.8zM93.8 119.1h0.8v0.8h-0.8zM87.9 120.9h0.8v0.8h-0.8zM90.8 41.9h0.8v0.8h-0.8zM88.0 107.3h0.8v0.8h-0.8zM92.6 47.1h0.8v0.8h-0.8zM90.9 92.8h0.8v0.8h-0.8zM95.0 64.9h0.8v0.8h-0.8zM93.2 56.6h0.8v0.8h-0.8zM89.0 48.8h0.8v0.8h-0.8zM90.6 90.9h0.8v0.8h-0.8zM89.8 48.9h0.8v0.8h-0.8zM89.1 41.8h0.8v0.8h-0.8zM88.9 63.1h0.8v0.8h-0.8zM91.3 50.9h0.8v0.8h-0.8zM91.1 74.5h0.8v0.8h-0.8zM94.8 78.7h0.8v0.8h-0.8zM94.6 77.4h0.8v0.8h-0.8zM89.0 88.5h0.8v0.8h-0.8zM88.6 49.6h0.8v0.8h-0.8zM88.0 98.5h0.8v0.8h-0.8zM94.8 71.1h0.8v0.8h-0.8zM90.2 73.1h0.8v0.8h-0.8zM90.1 97.5h0.8v0.8h-0.8zM90.4 48.0h0.8v0.8h-0.8zM94.0 86.7h0.8v0.8h-0.8zM87.5 112.2h0.8v0.8h-0.8zM93.0 66.6h0.8v0.8h-0.8zM92.2 118.7h0.8v0.8h-0.8zM90.5 73.8h0.8v0.8h-0.8zM89.7 85.0h0.8v0.8h-0.8zM92.5 101.6h0.8v0.8h-0.8zM94.6 47.4h0.8v0.8h-0.8zM90.2 112.3h0.8v0.8h-0.8zM93.4 88.3h0.8v0.8h-0.8zM92.6 65.3h0.8v0.8h-0.8zM94.6 84.5h0.8v0.8h-0.8zM90.5 50.8h0.8v0.8h-0.8zM88.4 116.6h0.8v0.8h-0.8zM93.5 36.5h0.8v0.8h-0.8zM89.9 78.1h0.8v0.8h-0.8zM91.2 67.4h0.8v0.8h-0.8zM94.2 66.2h0.8v0.8h-0.8zM91.5 119.5h0.8v0.8h-0.8zM92.3 77.9h0.8v0.8h-0.8zM90.0 69.6h0.8v0.8h-0.8zM92.1 106.3h0.8v0.8h-0.8zM89.5 68.1h0.8v0.8h-0.8zM90.4 67.4h0.8v0.8h-0.8zM94.3 83.6h0.8v0.8h-0.8zM89.6 64.6h0.8v0.8h-0.8zM93.7 48.7h0.8v0.8h-0.8zM92.7 36.0h0.8v0.8h-0.8zM88.9 39.5h0.8v0.8h-0.8zM93.5 47.5h0.8v0.8h-0.8zM89.2 39.3h0.8v0.8h-0.8zM89.5 101.5h0.8v0.8h-0.8zM92.9 117.8h0.8v0.8h-0.8zM94.6 84.7h0.8v0.8h-0.8zM94.4 42.2h0.8v0.8h-0.8zM94.4 73.9h0.8v0.8h-0.8zM88.9 102.8h0.8v0.8h-0.8zM93.9 69.5h0.8v0.8h-0.8zM88.2 114.3h0.8v0.8h-0.8zM93.2 88.9h0.8v0.8h-0.8zM94.8 37.5h0.8v0.8h-0.8zM87.9 45.4h0.8v0.8h-0.8zM87.7 99.2h0.8v0.8h-0.8zM92.2 44.3h0.8v0.8h-0.8zM88.7 50.6h0.8v0.8h-0.8zM92.1 95.9h0.8v0.8h-0.8zM94.8 67.2h0.8v0.8h-0.8zM94.8 74.0h0.8v0.8h-0.8zM90.4 57.3h0.8v0.8h-0.8zM89.2 123.7h0.8v0.8h-0.8zM95.0 98.9h0.8v0.8h-0.8zM88.8 50.6h0.8v0.8h-0.8zM88.6 66.3h0.8v0.8h-0.8zM93.0 39.4h0.8v0.8h-0.8zM91.5 96.6h0.8v0.8h-0.8zM87.8 74.4h0.8v0.8h-0.8zM93.4 87.0h0.8v0.8h-0.8zM90.9 115.1h0.8v0.8h-0.8zM92.0 65.0h0.8v0.8h-0.8zM90.5 120.8h0.8v0.8h-0.8zM93.9 118.2h0.8v0.8h-0.8zM91.7 47.1h0.8v0.8h-0.8zM88.8 69.3h0.8v0.8h-0.8z" fill="#111" />
<rect x="93.7" y="34.3" width="23.5" height="51.6" fill="#cad1b5" stroke="#4a4a45" stroke-width="0.9"/>
<clipPath id="cpG"><rect x="94.1" y="34.7" width="22.7" height="50.8"/></clipPath>
<g clip-path="url(#cpG)">
<path d="M97,50 C97.5,44 99,40 101,38 L110,45 C111.5,55 112,70 112,86 L96.5,86 Z" fill="#b9c0a3"/>
<path d="M101,36.5 C103,35.8 105.5,36 106.8,37.5 C108.8,42 110,48 109.8,56 C109.6,65 109.7,75 109.6,85.5 L105,85.5 C104.8,75 104.5,66 103.9,58 C103.2,66 102.7,75 102.5,85.5 L98.8,85.5 C98.8,75 98.8,62 99,55 C99.2,47 99.6,41 101,36.5 Z" fill="#7f876b"/>
<path d="M103.9,58 C104.4,66 104.6,76 104.7,86 L102.8,86 C102.9,76 103.2,66 103.9,58 Z" fill="#dfe4cf"/>
<linearGradient id="gG" x1="0" x2="1" y1="0" y2="0"><stop offset="0" stop-color="#2e3029"/><stop offset="0.5" stop-color="#5d6452"/><stop offset="1" stop-color="#5d6452" stop-opacity="0"/></linearGradient>
<rect x="94" y="34.7" width="4.6" height="51" fill="url(#gG)"/>
<path d="M103.9 75.5h0.7v0.7h-0.7zM103.7 74.7h0.7v0.7h-0.7zM103.7 75.3h0.7v0.7h-0.7zM104.0 56.9h0.7v0.7h-0.7zM102.0 72.0h0.7v0.7h-0.7zM100.4 56.6h0.7v0.7h-0.7zM111.7 81.6h0.7v0.7h-0.7zM102.0 66.5h0.7v0.7h-0.7zM102.7 49.9h0.7v0.7h-0.7zM106.8 80.4h0.7v0.7h-0.7zM105.5 76.4h0.7v0.7h-0.7zM98.6 84.6h0.7v0.7h-0.7zM102.9 73.4h0.7v0.7h-0.7zM101.4 49.6h0.7v0.7h-0.7zM102.6 78.2h0.7v0.7h-0.7zM102.8 60.5h0.7v0.7h-0.7zM102.9 41.0h0.7v0.7h-0.7zM111.2 81.7h0.7v0.7h-0.7zM104.1 73.5h0.7v0.7h-0.7zM102.2 64.5h0.7v0.7h-0.7zM107.6 57.5h0.7v0.7h-0.7zM101.7 81.8h0.7v0.7h-0.7zM108.7 41.9h0.7v0.7h-0.7zM106.9 50.3h0.7v0.7h-0.7zM108.9 58.2h0.7v0.7h-0.7zM108.2 71.9h0.7v0.7h-0.7zM103.8 68.1h0.7v0.7h-0.7zM109.2 41.7h0.7v0.7h-0.7zM98.9 47.3h0.7v0.7h-0.7zM104.2 68.4h0.7v0.7h-0.7zM103.5 81.2h0.7v0.7h-0.7zM107.0 82.3h0.7v0.7h-0.7zM107.4 64.4h0.7v0.7h-0.7zM104.0 75.8h0.7v0.7h-0.7zM104.2 78.5h0.7v0.7h-0.7zM100.5 56.3h0.7v0.7h-0.7zM107.4 42.7h0.7v0.7h-0.7zM102.9 73.0h0.7v0.7h-0.7zM107.0 39.6h0.7v0.7h-0.7zM107.8 84.4h0.7v0.7h-0.7zM98.9 43.3h0.7v0.7h-0.7zM102.7 67.6h0.7v0.7h-0.7zM102.3 76.1h0.7v0.7h-0.7zM105.7 38.6h0.7v0.7h-0.7zM102.6 77.9h0.7v0.7h-0.7zM104.2 79.9h0.7v0.7h-0.7zM107.5 59.5h0.7v0.7h-0.7zM104.8 71.5h0.7v0.7h-0.7zM103.6 81.8h0.7v0.7h-0.7zM101.1 45.9h0.7v0.7h-0.7zM107.8 42.8h0.7v0.7h-0.7zM108.4 45.9h0.7v0.7h-0.7zM101.1 44.9h0.7v0.7h-0.7zM104.0 81.6h0.7v0.7h-0.7zM98.5 49.0h0.7v0.7h-0.7zM104.9 80.8h0.7v0.7h-0.7zM105.3 66.4h0.7v0.7h-0.7zM110.9 83.6h0.7v0.7h-0.7zM104.6 62.6h0.7v0.7h-0.7zM99.5 78.0h0.7v0.7h-0.7zM102.6 80.9h0.7v0.7h-0.7zM104.5 75.7h0.7v0.7h-0.7zM101.8 48.1h0.7v0.7h-0.7zM99.2 59.2h0.7v0.7h-0.7zM107.6 81.3h0.7v0.7h-0.7zM96.7 44.7h0.7v0.7h-0.7zM102.4 56.4h0.7v0.7h-0.7zM100.3 45.1h0.7v0.7h-0.7zM106.3 60.7h0.7v0.7h-0.7zM106.7 49.9h0.7v0.7h-0.7zM101.3 73.6h0.7v0.7h-0.7zM107.0 65.3h0.7v0.7h-0.7zM107.5 54.6h0.7v0.7h-0.7zM109.7 83.1h0.7v0.7h-0.7zM105.7 64.9h0.7v0.7h-0.7zM103.8 83.4h0.7v0.7h-0.7zM101.0 52.1h0.7v0.7h-0.7zM106.7 38.4h0.7v0.7h-0.7zM104.5 50.6h0.7v0.7h-0.7zM105.6 67.2h0.7v0.7h-0.7zM96.8 69.9h0.7v0.7h-0.7zM101.0 54.4h0.7v0.7h-0.7zM108.3 63.1h0.7v0.7h-0.7zM102.6 78.4h0.7v0.7h-0.7zM102.5 66.0h0.7v0.7h-0.7zM101.4 51.4h0.7v0.7h-0.7zM106.4 83.7h0.7v0.7h-0.7zM103.5 40.1h0.7v0.7h-0.7zM108.1 46.9h0.7v0.7h-0.7zM104.3 61.4h0.7v0.7h-0.7zM108.5 69.1h0.7v0.7h-0.7zM108.1 69.8h0.7v0.7h-0.7zM112.9 69.6h0.7v0.7h-0.7zM99.6 71.2h0.7v0.7h-0.7zM105.0 57.5h0.7v0.7h-0.7zM104.0 83.5h0.7v0.7h-0.7zM102.4 37.4h0.7v0.7h-0.7zM107.8 57.0h0.7v0.7h-0.7zM107.5 76.6h0.7v0.7h-0.7zM101.5 37.6h0.7v0.7h-0.7zM104.6 76.9h0.7v0.7h-0.7zM105.9 41.9h0.7v0.7h-0.7zM106.3 79.3h0.7v0.7h-0.7zM103.0 61.7h0.7v0.7h-0.7zM100.3 56.4h0.7v0.7h-0.7zM111.5 70.5h0.7v0.7h-0.7zM109.5 84.1h0.7v0.7h-0.7zM106.5 42.3h0.7v0.7h-0.7zM103.9 44.1h0.7v0.7h-0.7zM101.5 54.5h0.7v0.7h-0.7zM99.8 84.7h0.7v0.7h-0.7zM97.3 84.7h0.7v0.7h-0.7zM100.7 44.7h0.7v0.7h-0.7zM100.7 71.9h0.7v0.7h-0.7zM101.1 80.2h0.7v0.7h-0.7zM103.0 49.2h0.7v0.7h-0.7zM105.2 44.2h0.7v0.7h-0.7zM105.5 65.2h0.7v0.7h-0.7zM104.6 61.1h0.7v0.7h-0.7zM102.2 64.6h0.7v0.7h-0.7z" fill="#6a715a" />
<path d="M107.5 56.2h0.7v0.7h-0.7zM107.1 36.7h0.7v0.7h-0.7zM97.2 56.7h0.7v0.7h-0.7zM100.9 73.1h0.7v0.7h-0.7zM101.0 76.4h0.7v0.7h-0.7zM101.0 40.5h0.7v0.7h-0.7zM105.8 55.0h0.7v0.7h-0.7zM102.9 73.5h0.7v0.7h-0.7zM100.6 68.8h0.7v0.7h-0.7zM113.1 58.2h0.7v0.7h-0.7zM106.3 81.3h0.7v0.7h-0.7zM108.4 44.9h0.7v0.7h-0.7zM97.4 40.0h0.7v0.7h-0.7zM102.8 40.4h0.7v0.7h-0.7zM109.3 56.8h0.7v0.7h-0.7zM102.3 61.1h0.7v0.7h-0.7zM115.2 48.0h0.7v0.7h-0.7zM99.2 51.0h0.7v0.7h-0.7zM102.6 80.6h0.7v0.7h-0.7zM110.5 57.0h0.7v0.7h-0.7zM99.4 38.2h0.7v0.7h-0.7zM98.5 77.5h0.7v0.7h-0.7zM109.3 43.7h0.7v0.7h-0.7zM108.8 38.9h0.7v0.7h-0.7zM106.4 52.4h0.7v0.7h-0.7zM98.1 72.4h0.7v0.7h-0.7zM110.7 61.0h0.7v0.7h-0.7zM99.4 68.8h0.7v0.7h-0.7zM104.9 68.4h0.7v0.7h-0.7zM97.9 80.2h0.7v0.7h-0.7zM96.1 46.9h0.7v0.7h-0.7zM104.2 45.7h0.7v0.7h-0.7zM97.8 69.7h0.7v0.7h-0.7zM116.4 52.4h0.7v0.7h-0.7zM101.5 68.9h0.7v0.7h-0.7zM100.6 55.6h0.7v0.7h-0.7zM110.1 57.1h0.7v0.7h-0.7zM99.2 39.5h0.7v0.7h-0.7zM107.1 84.5h0.7v0.7h-0.7zM114.9 40.9h0.7v0.7h-0.7zM106.3 59.9h0.7v0.7h-0.7zM100.0 68.8h0.7v0.7h-0.7zM106.2 75.6h0.7v0.7h-0.7zM102.0 81.8h0.7v0.7h-0.7zM112.7 59.2h0.7v0.7h-0.7zM98.9 59.7h0.7v0.7h-0.7zM98.6 69.6h0.7v0.7h-0.7zM110.3 64.3h0.7v0.7h-0.7zM116.0 38.2h0.7v0.7h-0.7zM110.7 75.2h0.7v0.7h-0.7zM98.3 51.8h0.7v0.7h-0.7zM97.1 64.6h0.7v0.7h-0.7zM110.8 53.1h0.7v0.7h-0.7zM110.3 54.0h0.7v0.7h-0.7zM110.6 49.6h0.7v0.7h-0.7zM116.1 57.5h0.7v0.7h-0.7zM96.1 40.5h0.7v0.7h-0.7zM110.9 78.4h0.7v0.7h-0.7zM109.1 43.6h0.7v0.7h-0.7zM113.9 71.1h0.7v0.7h-0.7zM98.4 54.6h0.7v0.7h-0.7zM109.8 36.2h0.7v0.7h-0.7zM96.9 53.3h0.7v0.7h-0.7zM113.9 84.8h0.7v0.7h-0.7zM102.5 80.5h0.7v0.7h-0.7zM112.1 78.4h0.7v0.7h-0.7zM108.1 83.5h0.7v0.7h-0.7zM109.2 82.4h0.7v0.7h-0.7zM107.6 45.6h0.7v0.7h-0.7zM106.6 59.7h0.7v0.7h-0.7zM102.9 54.3h0.7v0.7h-0.7zM106.5 64.8h0.7v0.7h-0.7zM100.6 49.6h0.7v0.7h-0.7zM106.3 60.7h0.7v0.7h-0.7zM104.6 68.5h0.7v0.7h-0.7zM99.8 62.1h0.7v0.7h-0.7zM101.7 73.7h0.7v0.7h-0.7zM110.4 74.3h0.7v0.7h-0.7zM106.6 48.2h0.7v0.7h-0.7zM115.0 61.0h0.7v0.7h-0.7z" fill="#a2aa8c" />
</g>
<rect x="93.7" y="85.6" width="23.2" height="2.6" fill="#151515"/>
<rect x="93.7" y="88.2" width="22.9" height="37.2" fill="#a1bac9" stroke="#55606a" stroke-width="0.9"/>
<path d="M105,88.6 C107.5,93 114.5,101 115,108.5 C115.3,116 110.5,122 105,123.8 C99.5,122 95,116 95.4,108.5 C95.8,101 102.5,93 105,88.6 Z" fill="#b2c8d4" stroke="#d3e2e9" stroke-width="0.9"/>
<path d="M105,95 C108,100 112.2,104 112.2,110 C112.2,115.5 108.5,119 105,120 C101.5,119 97.8,115.5 97.8,110 C97.8,104 102,100 105,95 Z" fill="#a4bccb" stroke="#cadbe3" stroke-width="0.6"/>
<ellipse cx="105" cy="111" rx="3.8" ry="5.2" fill="#8ea7b6" stroke="#c0d2dc" stroke-width="0.4"/>
<rect x="102.6" y="85.6" width="5.4" height="3.6" fill="#dce6ea"/>
<path d="M120.9 112.4h0.7v0.7h-0.7zM125.8 114.8h0.7v0.7h-0.7zM120.2 100.2h0.7v0.7h-0.7zM117.4 102.8h0.7v0.7h-0.7zM123.1 110.1h0.7v0.7h-0.7zM119.1 114.6h0.7v0.7h-0.7zM117.1 95.8h0.7v0.7h-0.7zM118.2 113.3h0.7v0.7h-0.7zM119.0 97.3h0.7v0.7h-0.7zM121.2 98.5h0.7v0.7h-0.7zM118.7 102.4h0.7v0.7h-0.7zM122.9 110.6h0.7v0.7h-0.7zM134.3 111.9h0.7v0.7h-0.7zM127.1 106.3h0.7v0.7h-0.7zM129.2 105.2h0.7v0.7h-0.7zM117.6 114.7h0.7v0.7h-0.7zM126.5 116.4h0.7v0.7h-0.7zM117.5 99.4h0.7v0.7h-0.7zM120.6 112.4h0.7v0.7h-0.7zM127.8 109.0h0.7v0.7h-0.7zM127.6 99.1h0.7v0.7h-0.7zM121.9 102.0h0.7v0.7h-0.7zM122.1 111.1h0.7v0.7h-0.7zM121.2 107.2h0.7v0.7h-0.7zM119.9 113.1h0.7v0.7h-0.7zM128.9 101.1h0.7v0.7h-0.7zM123.5 120.8h0.7v0.7h-0.7zM122.5 103.0h0.7v0.7h-0.7zM121.1 120.1h0.7v0.7h-0.7zM119.3 110.7h0.7v0.7h-0.7zM123.0 103.4h0.7v0.7h-0.7zM124.3 114.1h0.7v0.7h-0.7zM116.8 109.5h0.7v0.7h-0.7zM122.1 112.7h0.7v0.7h-0.7zM123.5 108.5h0.7v0.7h-0.7zM117.2 101.3h0.7v0.7h-0.7zM121.0 98.5h0.7v0.7h-0.7zM117.3 109.4h0.7v0.7h-0.7zM121.2 98.8h0.7v0.7h-0.7zM118.1 112.8h0.7v0.7h-0.7zM126.2 95.0h0.7v0.7h-0.7zM117.8 117.9h0.7v0.7h-0.7zM122.3 105.0h0.7v0.7h-0.7zM122.8 109.5h0.7v0.7h-0.7zM122.7 100.0h0.7v0.7h-0.7zM120.4 107.8h0.7v0.7h-0.7zM118.2 114.3h0.7v0.7h-0.7zM122.6 111.6h0.7v0.7h-0.7zM119.6 105.9h0.7v0.7h-0.7zM122.0 107.5h0.7v0.7h-0.7zM120.0 103.6h0.7v0.7h-0.7zM122.6 104.2h0.7v0.7h-0.7zM128.9 111.2h0.7v0.7h-0.7zM118.9 102.5h0.7v0.7h-0.7zM118.1 99.5h0.7v0.7h-0.7zM119.1 107.8h0.7v0.7h-0.7zM120.5 111.7h0.7v0.7h-0.7zM125.4 98.8h0.7v0.7h-0.7zM121.6 100.1h0.7v0.7h-0.7zM126.3 116.8h0.7v0.7h-0.7zM121.1 111.6h0.7v0.7h-0.7zM116.9 99.9h0.7v0.7h-0.7zM119.9 107.9h0.7v0.7h-0.7zM121.5 109.2h0.7v0.7h-0.7zM119.9 108.0h0.7v0.7h-0.7zM122.4 111.9h0.7v0.7h-0.7zM124.4 111.7h0.7v0.7h-0.7zM119.5 119.3h0.7v0.7h-0.7zM136.5 105.9h0.7v0.7h-0.7zM120.9 115.8h0.7v0.7h-0.7zM123.5 108.3h0.7v0.7h-0.7zM119.9 104.1h0.7v0.7h-0.7zM121.5 103.1h0.7v0.7h-0.7zM121.7 116.9h0.7v0.7h-0.7zM122.1 105.6h0.7v0.7h-0.7zM131.8 117.5h0.7v0.7h-0.7zM119.2 110.7h0.7v0.7h-0.7zM121.6 100.3h0.7v0.7h-0.7zM119.7 113.9h0.7v0.7h-0.7zM120.4 102.4h0.7v0.7h-0.7zM132.0 117.3h0.7v0.7h-0.7zM121.4 113.8h0.7v0.7h-0.7zM122.2 117.4h0.7v0.7h-0.7zM120.7 101.0h0.7v0.7h-0.7zM121.0 111.0h0.7v0.7h-0.7zM118.7 100.0h0.7v0.7h-0.7zM120.1 101.7h0.7v0.7h-0.7zM117.0 106.2h0.7v0.7h-0.7zM121.1 97.7h0.7v0.7h-0.7zM124.7 108.2h0.7v0.7h-0.7zM118.2 112.4h0.7v0.7h-0.7zM123.4 98.9h0.7v0.7h-0.7zM117.4 118.8h0.7v0.7h-0.7zM123.1 115.8h0.7v0.7h-0.7zM120.7 115.9h0.7v0.7h-0.7zM120.3 116.7h0.7v0.7h-0.7zM122.2 114.4h0.7v0.7h-0.7zM119.6 105.3h0.7v0.7h-0.7zM120.6 118.5h0.7v0.7h-0.7zM126.1 105.0h0.7v0.7h-0.7zM118.5 98.4h0.7v0.7h-0.7zM118.1 116.0h0.7v0.7h-0.7zM121.2 99.5h0.7v0.7h-0.7zM116.9 100.9h0.7v0.7h-0.7zM134.4 114.3h0.7v0.7h-0.7zM121.3 98.2h0.7v0.7h-0.7zM124.4 114.4h0.7v0.7h-0.7zM132.8 111.6h0.7v0.7h-0.7zM127.9 105.9h0.7v0.7h-0.7zM118.3 122.4h0.7v0.7h-0.7zM122.6 120.6h0.7v0.7h-0.7zM118.0 107.8h0.7v0.7h-0.7zM122.6 102.9h0.7v0.7h-0.7zM122.0 98.0h0.7v0.7h-0.7zM130.4 104.9h0.7v0.7h-0.7zM121.2 123.4h0.7v0.7h-0.7zM117.7 109.5h0.7v0.7h-0.7zM118.1 110.4h0.7v0.7h-0.7zM125.6 112.6h0.7v0.7h-0.7zM119.8 111.0h0.7v0.7h-0.7zM118.3 113.8h0.7v0.7h-0.7zM130.1 100.2h0.7v0.7h-0.7zM131.3 91.4h0.7v0.7h-0.7zM128.4 112.9h0.7v0.7h-0.7zM119.9 124.8h0.7v0.7h-0.7zM121.0 96.7h0.7v0.7h-0.7zM117.2 111.3h0.7v0.7h-0.7zM124.7 103.7h0.7v0.7h-0.7zM127.4 98.3h0.7v0.7h-0.7zM123.5 117.1h0.7v0.7h-0.7zM128.8 111.0h0.7v0.7h-0.7zM121.3 109.4h0.7v0.7h-0.7zM122.3 106.3h0.7v0.7h-0.7zM117.2 93.9h0.7v0.7h-0.7zM117.0 119.6h0.7v0.7h-0.7zM120.8 111.2h0.7v0.7h-0.7zM122.5 114.6h0.7v0.7h-0.7zM118.4 108.0h0.7v0.7h-0.7zM117.1 95.6h0.7v0.7h-0.7zM121.5 103.0h0.7v0.7h-0.7zM118.4 114.7h0.7v0.7h-0.7zM117.9 97.1h0.7v0.7h-0.7zM123.9 113.1h0.7v0.7h-0.7zM125.7 121.8h0.7v0.7h-0.7zM125.0 109.6h0.7v0.7h-0.7zM117.9 103.2h0.7v0.7h-0.7zM117.9 101.1h0.7v0.7h-0.7zM118.0 104.9h0.7v0.7h-0.7zM118.4 118.5h0.7v0.7h-0.7zM123.6 108.8h0.7v0.7h-0.7zM121.1 105.5h0.7v0.7h-0.7zM117.2 108.2h0.7v0.7h-0.7zM118.4 102.5h0.7v0.7h-0.7zM121.1 99.7h0.7v0.7h-0.7zM124.7 101.7h0.7v0.7h-0.7zM125.4 117.2h0.7v0.7h-0.7zM120.4 122.4h0.7v0.7h-0.7zM119.2 97.0h0.7v0.7h-0.7zM119.8 100.6h0.7v0.7h-0.7zM124.8 91.6h0.7v0.7h-0.7zM118.0 111.2h0.7v0.7h-0.7zM123.9 112.7h0.7v0.7h-0.7zM119.7 112.3h0.7v0.7h-0.7zM121.4 102.5h0.7v0.7h-0.7zM119.4 111.8h0.7v0.7h-0.7zM120.8 105.7h0.7v0.7h-0.7zM125.4 109.5h0.7v0.7h-0.7zM124.5 111.3h0.7v0.7h-0.7zM117.5 106.8h0.7v0.7h-0.7zM121.0 105.9h0.7v0.7h-0.7zM128.4 111.1h0.7v0.7h-0.7zM124.7 104.0h0.7v0.7h-0.7zM119.3 120.8h0.7v0.7h-0.7zM120.7 119.3h0.7v0.7h-0.7zM118.0 117.7h0.7v0.7h-0.7zM120.8 102.2h0.7v0.7h-0.7zM119.4 108.3h0.7v0.7h-0.7zM123.5 99.0h0.7v0.7h-0.7zM121.9 115.8h0.7v0.7h-0.7zM117.1 104.6h0.7v0.7h-0.7zM124.3 95.1h0.7v0.7h-0.7zM121.8 109.8h0.7v0.7h-0.7zM121.4 110.9h0.7v0.7h-0.7zM123.8 112.5h0.7v0.7h-0.7zM116.8 114.3h0.7v0.7h-0.7zM123.4 109.7h0.7v0.7h-0.7zM119.5 96.3h0.7v0.7h-0.7zM120.6 111.5h0.7v0.7h-0.7zM123.0 108.3h0.7v0.7h-0.7zM125.2 115.3h0.7v0.7h-0.7zM117.3 110.0h0.7v0.7h-0.7zM117.1 100.3h0.7v0.7h-0.7zM123.1 104.9h0.7v0.7h-0.7zM117.8 110.7h0.7v0.7h-0.7zM124.7 105.1h0.7v0.7h-0.7zM123.8 110.9h0.7v0.7h-0.7zM118.3 94.0h0.7v0.7h-0.7zM121.1 108.7h0.7v0.7h-0.7zM129.1 116.8h0.7v0.7h-0.7zM125.4 114.0h0.7v0.7h-0.7zM124.0 104.9h0.7v0.7h-0.7zM121.5 105.5h0.7v0.7h-0.7zM129.9 102.7h0.7v0.7h-0.7zM122.7 111.5h0.7v0.7h-0.7zM131.0 93.9h0.7v0.7h-0.7zM126.6 108.9h0.7v0.7h-0.7zM125.9 97.4h0.7v0.7h-0.7zM120.4 108.7h0.7v0.7h-0.7zM120.2 119.3h0.7v0.7h-0.7zM117.4 103.0h0.7v0.7h-0.7zM123.2 99.4h0.7v0.7h-0.7zM117.6 106.7h0.7v0.7h-0.7zM122.6 110.4h0.7v0.7h-0.7zM122.0 104.1h0.7v0.7h-0.7zM124.0 116.1h0.7v0.7h-0.7zM119.6 120.9h0.7v0.7h-0.7zM119.8 116.9h0.7v0.7h-0.7zM118.0 104.5h0.7v0.7h-0.7zM117.1 105.2h0.7v0.7h-0.7zM118.3 107.3h0.7v0.7h-0.7zM117.9 100.9h0.7v0.7h-0.7zM119.8 114.8h0.7v0.7h-0.7zM124.0 107.9h0.7v0.7h-0.7zM122.9 114.3h0.7v0.7h-0.7zM122.4 113.4h0.7v0.7h-0.7zM121.2 117.7h0.7v0.7h-0.7zM120.3 101.5h0.7v0.7h-0.7zM117.0 101.9h0.7v0.7h-0.7zM118.4 109.4h0.7v0.7h-0.7zM130.3 112.8h0.7v0.7h-0.7zM119.0 115.7h0.7v0.7h-0.7zM117.3 102.0h0.7v0.7h-0.7zM121.7 115.4h0.7v0.7h-0.7zM131.5 116.0h0.7v0.7h-0.7zM120.9 104.7h0.7v0.7h-0.7z" fill="#2a2a2a" />
<path d="M121.8 53.2h0.65v0.65h-0.65zM118.9 68.0h0.65v0.65h-0.65zM120.7 73.1h0.65v0.65h-0.65zM119.1 77.6h0.65v0.65h-0.65zM127.5 55.9h0.65v0.65h-0.65zM121.4 62.9h0.65v0.65h-0.65zM117.2 65.5h0.65v0.65h-0.65zM118.0 56.6h0.65v0.65h-0.65zM117.9 57.4h0.65v0.65h-0.65zM117.1 60.0h0.65v0.65h-0.65zM118.9 59.0h0.65v0.65h-0.65zM118.1 70.6h0.65v0.65h-0.65zM123.0 67.0h0.65v0.65h-0.65zM124.0 61.1h0.65v0.65h-0.65zM117.5 53.7h0.65v0.65h-0.65zM126.6 78.7h0.65v0.65h-0.65zM126.8 66.7h0.65v0.65h-0.65zM123.9 73.5h0.65v0.65h-0.65zM118.5 54.3h0.65v0.65h-0.65zM118.7 77.0h0.65v0.65h-0.65zM123.8 62.0h0.65v0.65h-0.65zM121.2 69.9h0.65v0.65h-0.65zM119.1 62.1h0.65v0.65h-0.65zM121.9 73.1h0.65v0.65h-0.65zM118.2 75.1h0.65v0.65h-0.65zM120.8 55.1h0.65v0.65h-0.65zM118.8 60.2h0.65v0.65h-0.65zM122.6 56.1h0.65v0.65h-0.65zM122.9 77.9h0.65v0.65h-0.65zM117.3 65.5h0.65v0.65h-0.65zM126.0 61.9h0.65v0.65h-0.65zM122.5 87.3h0.65v0.65h-0.65zM128.9 86.0h0.65v0.65h-0.65zM126.5 61.3h0.65v0.65h-0.65zM119.7 59.3h0.65v0.65h-0.65zM123.3 87.9h0.65v0.65h-0.65zM122.5 72.1h0.65v0.65h-0.65zM124.3 54.9h0.65v0.65h-0.65zM119.0 61.3h0.65v0.65h-0.65zM119.4 74.2h0.65v0.65h-0.65zM118.9 77.7h0.65v0.65h-0.65zM122.2 55.5h0.65v0.65h-0.65zM118.3 69.1h0.65v0.65h-0.65zM119.0 75.4h0.65v0.65h-0.65zM117.6 58.9h0.65v0.65h-0.65zM118.4 86.6h0.65v0.65h-0.65zM121.1 65.5h0.65v0.65h-0.65zM120.3 77.1h0.65v0.65h-0.65zM117.4 66.5h0.65v0.65h-0.65zM124.2 72.5h0.65v0.65h-0.65zM120.2 86.2h0.65v0.65h-0.65zM117.3 86.7h0.65v0.65h-0.65zM119.7 68.8h0.65v0.65h-0.65zM132.4 82.2h0.65v0.65h-0.65zM117.5 77.7h0.65v0.65h-0.65zM125.2 85.8h0.65v0.65h-0.65zM122.1 61.6h0.65v0.65h-0.65zM125.9 80.3h0.65v0.65h-0.65zM121.3 65.3h0.65v0.65h-0.65zM117.7 80.8h0.65v0.65h-0.65z" fill="#444" />
<path d="M105.8 30.7h0.7v0.7h-0.7zM100.0 25.7h0.7v0.7h-0.7zM105.1 26.1h0.7v0.7h-0.7zM105.9 27.4h0.7v0.7h-0.7zM104.5 31.2h0.7v0.7h-0.7zM104.3 26.2h0.7v0.7h-0.7zM104.6 32.5h0.7v0.7h-0.7zM101.9 27.0h0.7v0.7h-0.7zM103.3 24.1h0.7v0.7h-0.7zM105.7 28.4h0.7v0.7h-0.7zM103.2 32.6h0.7v0.7h-0.7zM103.7 27.8h0.7v0.7h-0.7zM109.1 26.3h0.7v0.7h-0.7zM103.5 26.5h0.7v0.7h-0.7zM104.5 31.1h0.7v0.7h-0.7zM103.7 29.8h0.7v0.7h-0.7zM101.8 26.9h0.7v0.7h-0.7zM103.5 33.7h0.7v0.7h-0.7zM101.3 24.4h0.7v0.7h-0.7zM104.7 13.7h0.7v0.7h-0.7zM103.1 22.0h0.7v0.7h-0.7zM102.9 23.3h0.7v0.7h-0.7zM102.7 23.4h0.7v0.7h-0.7zM102.0 14.2h0.7v0.7h-0.7z" fill="#333" />
<path d="M135.3 55.3h0.6v0.6h-0.6zM130.8 48.2h0.6v0.6h-0.6zM140.7 84.4h0.6v0.6h-0.6zM142.9 89.7h0.6v0.6h-0.6zM137.2 117.6h0.6v0.6h-0.6zM144.0 83.8h0.6v0.6h-0.6zM128.4 118.1h0.6v0.6h-0.6zM129.9 39.7h0.6v0.6h-0.6zM128.7 97.1h0.6v0.6h-0.6zM147.8 91.3h0.6v0.6h-0.6zM139.2 119.0h0.6v0.6h-0.6zM142.9 72.3h0.6v0.6h-0.6zM132.8 102.2h0.6v0.6h-0.6zM128.2 40.4h0.6v0.6h-0.6zM137.8 106.9h0.6v0.6h-0.6zM125.9 95.0h0.6v0.6h-0.6zM146.6 42.1h0.6v0.6h-0.6zM122.3 76.8h0.6v0.6h-0.6zM128.7 120.2h0.6v0.6h-0.6zM149.9 72.3h0.6v0.6h-0.6zM143.4 90.0h0.6v0.6h-0.6zM123.6 122.3h0.6v0.6h-0.6zM123.6 37.2h0.6v0.6h-0.6zM132.5 31.7h0.6v0.6h-0.6zM133.4 69.1h0.6v0.6h-0.6zM148.5 69.3h0.6v0.6h-0.6zM145.2 104.1h0.6v0.6h-0.6zM136.8 52.6h0.6v0.6h-0.6zM127.8 76.7h0.6v0.6h-0.6zM130.6 91.3h0.6v0.6h-0.6zM134.2 60.7h0.6v0.6h-0.6zM137.4 124.7h0.6v0.6h-0.6zM124.5 61.9h0.6v0.6h-0.6zM118.4 38.9h0.6v0.6h-0.6zM119.8 70.2h0.6v0.6h-0.6zM144.8 96.3h0.6v0.6h-0.6zM148.9 109.5h0.6v0.6h-0.6zM136.7 85.1h0.6v0.6h-0.6zM118.4 66.4h0.6v0.6h-0.6zM126.4 89.0h0.6v0.6h-0.6z" fill="#999" />
<text x="189.30" y="10.60" font-size="12.6" font-weight="bold" fill="#000" stroke="#000" stroke-width="0.45" >B</text>
<circle cx="262.2" cy="81.6" r="43.2" fill="#b0bfcd"/>
<circle cx="219.0" cy="50.4" r="15.2" fill="#c58b8c"/>
<clipPath id="cpNR"><circle cx="262.2" cy="81.6" r="43.2"/></clipPath>
<circle cx="219.0" cy="50.4" r="15.2" fill="#ad9aaa" clip-path="url(#cpNR)"/>
<mask id="mSR" maskUnits="userSpaceOnUse" x="220" y="30" width="30" height="30"><rect x="220" y="30" width="30" height="30" fill="#fff"/><circle cx="219.0" cy="50.4" r="15.2" fill="#333"/></mask>
<circle cx="237.6" cy="43.3" r="6.4" fill="#adbe8c" fill-opacity="0.8" mask="url(#mSR)"/>
<text x="201.40" y="33.60" font-size="10.4" text-anchor="middle" fill="#111" stroke="#111" stroke-width="0.32" >RR</text>
<path d="M201.90 37.40L204.00 40.30" stroke="#333" stroke-width="0.6" />
<text x="218.80" y="54.70" font-size="11.0" text-anchor="middle" fill="#111" stroke="#111" stroke-width="0.32" >875</text>
<text x="247.30" y="20.10" font-size="10.4" text-anchor="middle" fill="#111" stroke="#111" stroke-width="0.32" >SR</text>
<path d="M245.50 22.90L244.40 26.80" stroke="#333" stroke-width="0.6" />
<text x="241.20" y="37.30" font-size="10.6" text-anchor="middle" fill="#111" stroke="#111" stroke-width="0.32" >184</text>
<text x="263.20" y="76.60" font-size="10.5" text-anchor="middle" fill="#111" stroke="#111" stroke-width="0.32" >NR</text>
<text x="263.00" y="96.20" font-size="10.5" text-anchor="middle" fill="#111" stroke="#111" stroke-width="0.32" >6831</text>
<text x="324.40" y="10.70" font-size="12.6" font-weight="bold" fill="#000" stroke="#000" stroke-width="0.45" >C</text>
<path d="M353.20 6.80L359.60 6.80" stroke="#444" stroke-width="0.6" />
<circle cx="356.40" cy="6.80" r="2.1" fill="#000" stroke="none" stroke-width="1" />
<text x="363.80" y="9.20" font-size="6.8" fill="#222" stroke="#222" stroke-width="0.18" >AR/GVL clonotypes</text>
<path d="M431.9,5.4 L435.1,5.4 L433.5,8.2 Z" fill="#d42a2a"/>
<text x="441.80" y="9.20" font-size="6.8" fill="#222" stroke="#222" stroke-width="0.18" >Control clonotypes</text>
<path d="M370.30 17.80L370.30 112.20" stroke="#8a8a8a" stroke-width="0.8" />
<path d="M370.30 112.00L479.60 112.00" stroke="#8a8a8a" stroke-width="0.8" />
<path d="M368.30 20.00L370.30 20.00" stroke="#8a8a8a" stroke-width="0.6" />
<text x="355.80" y="22.50" font-size="7.0" fill="#222" stroke="#222" stroke-width="0.15">10<tspan font-size="4.34" dy="-2.10">0</tspan></text>
<path d="M368.30 33.47L370.30 33.47" stroke="#8a8a8a" stroke-width="0.6" />
<text x="355.80" y="35.97" font-size="7.0" fill="#222" stroke="#222" stroke-width="0.15">10<tspan font-size="4.34" dy="-2.10">-1</tspan></text>
<path d="M368.30 46.94L370.30 46.94" stroke="#8a8a8a" stroke-width="0.6" />
<text x="355.80" y="49.44" font-size="7.0" fill="#222" stroke="#222" stroke-width="0.15">10<tspan font-size="4.34" dy="-2.10">-2</tspan></text>
<path d="M368.30 60.41L370.30 60.41" stroke="#8a8a8a" stroke-width="0.6" />
<text x="355.80" y="62.91" font-size="7.0" fill="#222" stroke="#222" stroke-width="0.15">10<tspan font-size="4.34" dy="-2.10">-3</tspan></text>
<path d="M368.30 73.88L370.30 73.88" stroke="#8a8a8a" stroke-width="0.6" />
<text x="355.80" y="76.38" font-size="7.0" fill="#222" stroke="#222" stroke-width="0.15">10<tspan font-size="4.34" dy="-2.10">-4</tspan></text>
<path d="M368.30 87.35L370.30 87.35" stroke="#8a8a8a" stroke-width="0.6" />
<text x="355.80" y="89.85" font-size="7.0" fill="#222" stroke="#222" stroke-width="0.15">10<tspan font-size="4.34" dy="-2.10">-5</tspan></text>
<path d="M368.30 100.82L370.30 100.82" stroke="#8a8a8a" stroke-width="0.6" />
<text x="355.80" y="103.32" font-size="7.0" fill="#222" stroke="#222" stroke-width="0.15">10<tspan font-size="4.34" dy="-2.10">-6</tspan></text>
<path d="M375.40 112.00L375.40 114.00" stroke="#8a8a8a" stroke-width="0.6" />
<text x="375.40" y="121.30" font-size="6.3" text-anchor="middle" fill="#222" stroke="#222" stroke-width="0.18" >0</text>
<path d="M391.45 112.00L391.45 114.00" stroke="#8a8a8a" stroke-width="0.6" />
<text x="391.45" y="121.30" font-size="6.3" text-anchor="middle" fill="#222" stroke="#222" stroke-width="0.18" >180</text>
<path d="M407.50 112.00L407.50 114.00" stroke="#8a8a8a" stroke-width="0.6" />
<text x="407.50" y="121.30" font-size="6.3" text-anchor="middle" fill="#222" stroke="#222" stroke-width="0.18" >360</text>
<path d="M423.55 112.00L423.55 114.00" stroke="#8a8a8a" stroke-width="0.6" />
<text x="423.55" y="121.30" font-size="6.3" text-anchor="middle" fill="#222" stroke="#222" stroke-width="0.18" >540</text>
<path d="M439.60 112.00L439.60 114.00" stroke="#8a8a8a" stroke-width="0.6" />
<text x="439.60" y="121.30" font-size="6.3" text-anchor="middle" fill="#222" stroke="#222" stroke-width="0.18" >720</text>
<path d="M455.65 112.00L455.65 114.00" stroke="#8a8a8a" stroke-width="0.6" />
<text x="455.65" y="121.30" font-size="6.3" text-anchor="middle" fill="#222" stroke="#222" stroke-width="0.18" >900</text>
<path d="M471.70 112.00L471.70 114.00" stroke="#8a8a8a" stroke-width="0.6" />
<text x="471.70" y="121.30" font-size="6.3" text-anchor="middle" fill="#222" stroke="#222" stroke-width="0.18" >1080</text>
<text x="429.50" y="131.90" font-size="9.65" text-anchor="middle" fill="#111" stroke="#111" stroke-width="0.32" >Days post-HCT</text>
<text font-size="9.5" text-anchor="middle" fill="#111" stroke="#111" stroke-width="0.28" transform="translate(337.1,62.0) rotate(-90)"><tspan x="0" y="0">TCRβ clonotype</tspan><tspan x="0.7" y="11.9">Frequency</tspan></text>
<polyline points="374.4,99.4 378.6,93.2 383.7,92.6 391.8,97.6 407.2,97.4 424.0,97.4 438.9,96.0 471.4,96.8 478.0,98.7" fill="none" stroke="#f09a96" stroke-width="0.9"/>
<path d="M374.40 95.00L374.40 104.00" stroke="#e9a3a3" stroke-width="0.6" />
<path d="M372.80 95.00L376.00 95.00" stroke="#b99" stroke-width="0.6" />
<path d="M372.80 104.00L376.00 104.00" stroke="#dbb" stroke-width="0.6" />
<path d="M378.60 82.30L378.60 101.00" stroke="#e9a3a3" stroke-width="0.6" />
<path d="M377.00 82.30L380.20 82.30" stroke="#b99" stroke-width="0.6" />
<path d="M377.00 101.00L380.20 101.00" stroke="#dbb" stroke-width="0.6" />
<path d="M383.70 81.20L383.70 101.00" stroke="#e9a3a3" stroke-width="0.6" />
<path d="M382.10 81.20L385.30 81.20" stroke="#b99" stroke-width="0.6" />
<path d="M382.10 101.00L385.30 101.00" stroke="#dbb" stroke-width="0.6" />
<path d="M391.80 87.70L391.80 107.50" stroke="#e9a3a3" stroke-width="0.6" />
<path d="M390.20 87.70L393.40 87.70" stroke="#b99" stroke-width="0.6" />
<path d="M390.20 107.50L393.40 107.50" stroke="#dbb" stroke-width="0.6" />
<path d="M407.20 90.90L407.20 105.20" stroke="#e9a3a3" stroke-width="0.6" />
<path d="M405.60 90.90L408.80 90.90" stroke="#b99" stroke-width="0.6" />
<path d="M405.60 105.20L408.80 105.20" stroke="#dbb" stroke-width="0.6" />
<path d="M424.00 90.50L424.00 105.20" stroke="#e9a3a3" stroke-width="0.6" />
<path d="M422.40 90.50L425.60 90.50" stroke="#b99" stroke-width="0.6" />
<path d="M422.40 105.20L425.60 105.20" stroke="#dbb" stroke-width="0.6" />
<path d="M438.90 88.40L438.90 104.90" stroke="#e9a3a3" stroke-width="0.6" />
<path d="M437.30 88.40L440.50 88.40" stroke="#b99" stroke-width="0.6" />
<path d="M437.30 104.90L440.50 104.90" stroke="#dbb" stroke-width="0.6" />
<path d="M471.40 89.70L471.40 105.00" stroke="#e9a3a3" stroke-width="0.6" />
<path d="M469.80 89.70L473.00 89.70" stroke="#b99" stroke-width="0.6" />
<path d="M469.80 105.00L473.00 105.00" stroke="#dbb" stroke-width="0.6" />
<path d="M478.00 93.00L478.00 105.20" stroke="#e9a3a3" stroke-width="0.6" />
<path d="M476.40 93.00L479.60 93.00" stroke="#b99" stroke-width="0.6" />
<path d="M476.40 105.20L479.60 105.20" stroke="#dbb" stroke-width="0.6" />
<path d="M372.30,97.80 L376.50,97.80 L374.40,101.40 Z" fill="#b41c2a"/>
<path d="M376.50,91.60 L380.70,91.60 L378.60,95.20 Z" fill="#b41c2a"/>
<path d="M381.60,91.00 L385.80,91.00 L383.70,94.60 Z" fill="#b41c2a"/>
<path d="M389.70,96.00 L393.90,96.00 L391.80,99.60 Z" fill="#b41c2a"/>
<path d="M405.10,95.80 L409.30,95.80 L407.20,99.40 Z" fill="#b41c2a"/>
<path d="M421.90,95.80 L426.10,95.80 L424.00,99.40 Z" fill="#b41c2a"/>
<path d="M436.80,94.40 L441.00,94.40 L438.90,98.00 Z" fill="#b41c2a"/>
<path d="M469.30,95.20 L473.50,95.20 L471.40,98.80 Z" fill="#b41c2a"/>
<path d="M475.90,97.10 L480.10,97.10 L478.00,100.70 Z" fill="#b41c2a"/>
<path d="M374.30 94.30L374.30 103.00" stroke="#9a9a9a" stroke-width="0.6" />
<path d="M372.50 94.30L376.10 94.30" stroke="#888" stroke-width="0.6" />
<path d="M372.50 103.00L376.10 103.00" stroke="#888" stroke-width="0.6" />
<path d="M378.60 41.20L378.60 76.80" stroke="#9a9a9a" stroke-width="0.6" />
<path d="M376.80 41.20L380.40 41.20" stroke="#888" stroke-width="0.6" />
<path d="M376.80 76.80L380.40 76.80" stroke="#888" stroke-width="0.6" />
<path d="M383.70 41.20L383.70 70.20" stroke="#9a9a9a" stroke-width="0.6" />
<path d="M381.90 41.20L385.50 41.20" stroke="#888" stroke-width="0.6" />
<path d="M381.90 70.20L385.50 70.20" stroke="#888" stroke-width="0.6" />
<path d="M391.80 31.70L391.80 62.50" stroke="#9a9a9a" stroke-width="0.6" />
<path d="M390.00 31.70L393.60 31.70" stroke="#888" stroke-width="0.6" />
<path d="M390.00 62.50L393.60 62.50" stroke="#888" stroke-width="0.6" />
<path d="M407.50 30.00L407.50 59.60" stroke="#9a9a9a" stroke-width="0.6" />
<path d="M405.70 30.00L409.30 30.00" stroke="#888" stroke-width="0.6" />
<path d="M405.70 59.60L409.30 59.60" stroke="#888" stroke-width="0.6" />
<path d="M424.10 30.90L424.10 58.50" stroke="#9a9a9a" stroke-width="0.6" />
<path d="M422.30 30.90L425.90 30.90" stroke="#888" stroke-width="0.6" />
<path d="M422.30 58.50L425.90 58.50" stroke="#888" stroke-width="0.6" />
<path d="M439.10 32.70L439.10 55.40" stroke="#9a9a9a" stroke-width="0.6" />
<path d="M437.30 32.70L440.90 32.70" stroke="#888" stroke-width="0.6" />
<path d="M437.30 55.40L440.90 55.40" stroke="#888" stroke-width="0.6" />
<path d="M471.30 36.70L471.30 58.50" stroke="#9a9a9a" stroke-width="0.6" />
<path d="M469.50 36.70L473.10 36.70" stroke="#888" stroke-width="0.6" />
<path d="M469.50 58.50L473.10 58.50" stroke="#888" stroke-width="0.6" />
<path d="M477.90 42.80L477.90 63.20" stroke="#9a9a9a" stroke-width="0.6" />
<path d="M476.10 42.80L479.70 42.80" stroke="#888" stroke-width="0.6" />
<path d="M476.10 63.20L479.70 63.20" stroke="#888" stroke-width="0.6" />
<polyline points="374.3,99.3 378.6,58.5 383.7,55.4 391.8,46.6 407.5,44.9 424.1,44.9 439.1,44.1 471.3,48.0 477.9,53.3" fill="none" stroke="#333" stroke-width="0.7"/>
<circle cx="374.30" cy="99.30" r="2.1" fill="#000" stroke="none" stroke-width="1" />
<circle cx="378.60" cy="58.50" r="2.1" fill="#000" stroke="none" stroke-width="1" />
<circle cx="383.70" cy="55.40" r="2.1" fill="#000" stroke="none" stroke-width="1" />
<circle cx="391.80" cy="46.60" r="2.1" fill="#000" stroke="none" stroke-width="1" />
<circle cx="407.50" cy="44.90" r="2.1" fill="#000" stroke="none" stroke-width="1" />
<circle cx="424.10" cy="44.90" r="2.1" fill="#000" stroke="none" stroke-width="1" />
<circle cx="439.10" cy="44.10" r="2.1" fill="#000" stroke="none" stroke-width="1" />
<circle cx="471.30" cy="48.00" r="2.1" fill="#000" stroke="none" stroke-width="1" />
<circle cx="477.90" cy="53.30" r="2.1" fill="#000" stroke="none" stroke-width="1" />
<text x="2.00" y="182.90" font-size="12.6" font-weight="bold" fill="#000" stroke="#000" stroke-width="0.45" >D</text>
<text x="78.20" y="185.30" font-size="9.6" fill="#111" stroke="#111" stroke-width="0.32" >LATE RELAPSE</text>
<path d="M78.70 186.60L148.80 186.60" stroke="#111" stroke-width="0.9" />
<text x="224.20" y="185.30" font-size="9.6" fill="#111" stroke="#111" stroke-width="0.32" >EARLY RELAPSE</text>
<path d="M224.70 186.60L302.00 186.60" stroke="#111" stroke-width="0.9" />
<text x="375.10" y="185.30" font-size="9.6" fill="#111" stroke="#111" stroke-width="0.32" >POST-DLI GVHD</text>
<path d="M375.60 186.60L449.50 186.60" stroke="#111" stroke-width="0.9" />
<path d="M48.10 213.40L48.10 312.80" stroke="#8c8c8c" stroke-width="0.8" />
<path d="M48.10 312.40L187.40 312.40" stroke="#8c8c8c" stroke-width="0.8" />
<path d="M187.40 213.40L187.40 312.80" stroke="#8c8c8c" stroke-width="0.8" />
<path d="M46.20 214.30L48.10 214.30" stroke="#8c8c8c" stroke-width="0.6" />
<text x="32.60" y="217.60" font-size="6.6" fill="#222" stroke="#222" stroke-width="0.15">10<tspan font-size="4.09" dy="-1.98">0</tspan></text>
<path d="M46.20 228.15L48.10 228.15" stroke="#8c8c8c" stroke-width="0.6" />
<text x="32.60" y="231.45" font-size="6.6" fill="#222" stroke="#222" stroke-width="0.15">10<tspan font-size="4.09" dy="-1.98">-1</tspan></text>
<path d="M46.20 242.00L48.10 242.00" stroke="#8c8c8c" stroke-width="0.6" />
<text x="32.60" y="245.30" font-size="6.6" fill="#222" stroke="#222" stroke-width="0.15">10<tspan font-size="4.09" dy="-1.98">-2</tspan></text>
<path d="M46.20 255.85L48.10 255.85" stroke="#8c8c8c" stroke-width="0.6" />
<text x="32.60" y="259.15" font-size="6.6" fill="#222" stroke="#222" stroke-width="0.15">10<tspan font-size="4.09" dy="-1.98">-3</tspan></text>
<path d="M46.20 269.70L48.10 269.70" stroke="#8c8c8c" stroke-width="0.6" />
<text x="32.60" y="273.00" font-size="6.6" fill="#222" stroke="#222" stroke-width="0.15">10<tspan font-size="4.09" dy="-1.98">-4</tspan></text>
<path d="M46.20 283.55L48.10 283.55" stroke="#8c8c8c" stroke-width="0.6" />
<text x="32.60" y="286.85" font-size="6.6" fill="#222" stroke="#222" stroke-width="0.15">10<tspan font-size="4.09" dy="-1.98">-5</tspan></text>
<path d="M46.20 297.40L48.10 297.40" stroke="#8c8c8c" stroke-width="0.6" />
<text x="32.60" y="300.70" font-size="6.6" fill="#222" stroke="#222" stroke-width="0.15">10<tspan font-size="4.09" dy="-1.98">-6</tspan></text>
<path d="M187.40 213.30L189.60 213.30" stroke="#888" stroke-width="0.6" />
<path d="M187.40 229.70L189.60 229.70" stroke="#888" stroke-width="0.6" />
<path d="M187.40 246.10L189.60 246.10" stroke="#888" stroke-width="0.6" />
<path d="M187.40 262.50L189.60 262.50" stroke="#888" stroke-width="0.6" />
<path d="M187.40 278.90L189.60 278.90" stroke="#888" stroke-width="0.6" />
<path d="M187.40 295.30L189.60 295.30" stroke="#888" stroke-width="0.6" />
<path d="M187.40 311.70L189.60 311.70" stroke="#888" stroke-width="0.6" />
<path d="M187.40 224.76L188.50 224.76" stroke="#aaa" stroke-width="0.4" />
<path d="M187.40 221.88L188.50 221.88" stroke="#aaa" stroke-width="0.4" />
<path d="M187.40 219.83L188.50 219.83" stroke="#aaa" stroke-width="0.4" />
<path d="M187.40 218.24L188.50 218.24" stroke="#aaa" stroke-width="0.4" />
<path d="M187.40 216.94L188.50 216.94" stroke="#aaa" stroke-width="0.4" />
<path d="M187.40 215.84L188.50 215.84" stroke="#aaa" stroke-width="0.4" />
<path d="M187.40 214.89L188.50 214.89" stroke="#aaa" stroke-width="0.4" />
<path d="M187.40 214.05L188.50 214.05" stroke="#aaa" stroke-width="0.4" />
<path d="M187.40 241.16L188.50 241.16" stroke="#aaa" stroke-width="0.4" />
<path d="M187.40 238.28L188.50 238.28" stroke="#aaa" stroke-width="0.4" />
<path d="M187.40 236.23L188.50 236.23" stroke="#aaa" stroke-width="0.4" />
<path d="M187.40 234.64L188.50 234.64" stroke="#aaa" stroke-width="0.4" />
<path d="M187.40 233.34L188.50 233.34" stroke="#aaa" stroke-width="0.4" />
<path d="M187.40 232.24L188.50 232.24" stroke="#aaa" stroke-width="0.4" />
<path d="M187.40 231.29L188.50 231.29" stroke="#aaa" stroke-width="0.4" />
<path d="M187.40 230.45L188.50 230.45" stroke="#aaa" stroke-width="0.4" />
<path d="M187.40 257.56L188.50 257.56" stroke="#aaa" stroke-width="0.4" />
<path d="M187.40 254.68L188.50 254.68" stroke="#aaa" stroke-width="0.4" />
<path d="M187.40 252.63L188.50 252.63" stroke="#aaa" stroke-width="0.4" />
<path d="M187.40 251.04L188.50 251.04" stroke="#aaa" stroke-width="0.4" />
<path d="M187.40 249.74L188.50 249.74" stroke="#aaa" stroke-width="0.4" />
<path d="M187.40 248.64L188.50 248.64" stroke="#aaa" stroke-width="0.4" />
<path d="M187.40 247.69L188.50 247.69" stroke="#aaa" stroke-width="0.4" />
<path d="M187.40 246.85L188.50 246.85" stroke="#aaa" stroke-width="0.4" />
<path d="M187.40 273.96L188.50 273.96" stroke="#aaa" stroke-width="0.4" />
<path d="M187.40 271.08L188.50 271.08" stroke="#aaa" stroke-width="0.4" />
<path d="M187.40 269.03L188.50 269.03" stroke="#aaa" stroke-width="0.4" />
<path d="M187.40 267.44L188.50 267.44" stroke="#aaa" stroke-width="0.4" />
<path d="M187.40 266.14L188.50 266.14" stroke="#aaa" stroke-width="0.4" />
<path d="M187.40 265.04L188.50 265.04" stroke="#aaa" stroke-width="0.4" />
<path d="M187.40 264.09L188.50 264.09" stroke="#aaa" stroke-width="0.4" />
<path d="M187.40 263.25L188.50 263.25" stroke="#aaa" stroke-width="0.4" />
<path d="M187.40 290.36L188.50 290.36" stroke="#aaa" stroke-width="0.4" />
<path d="M187.40 287.48L188.50 287.48" stroke="#aaa" stroke-width="0.4" />
<path d="M187.40 285.43L188.50 285.43" stroke="#aaa" stroke-width="0.4" />
<path d="M187.40 283.84L188.50 283.84" stroke="#aaa" stroke-width="0.4" />
<path d="M187.40 282.54L188.50 282.54" stroke="#aaa" stroke-width="0.4" />
<path d="M187.40 281.44L188.50 281.44" stroke="#aaa" stroke-width="0.4" />
<path d="M187.40 280.49L188.50 280.49" stroke="#aaa" stroke-width="0.4" />
<path d="M187.40 279.65L188.50 279.65" stroke="#aaa" stroke-width="0.4" />
<path d="M187.40 306.76L188.50 306.76" stroke="#aaa" stroke-width="0.4" />
<path d="M187.40 303.88L188.50 303.88" stroke="#aaa" stroke-width="0.4" />
<path d="M187.40 301.83L188.50 301.83" stroke="#aaa" stroke-width="0.4" />
<path d="M187.40 300.24L188.50 300.24" stroke="#aaa" stroke-width="0.4" />
<path d="M187.40 298.94L188.50 298.94" stroke="#aaa" stroke-width="0.4" />
<path d="M187.40 297.84L188.50 297.84" stroke="#aaa" stroke-width="0.4" />
<path d="M187.40 296.89L188.50 296.89" stroke="#aaa" stroke-width="0.4" />
<path d="M187.40 296.05L188.50 296.05" stroke="#aaa" stroke-width="0.4" />
<path d="M53.50 312.40L53.50 314.20" stroke="#8c8c8c" stroke-width="0.6" />
<path d="M84.70 312.40L84.70 314.20" stroke="#8c8c8c" stroke-width="0.6" />
<path d="M115.90 312.40L115.90 314.20" stroke="#8c8c8c" stroke-width="0.6" />
<path d="M147.10 312.40L147.10 314.20" stroke="#8c8c8c" stroke-width="0.6" />
<path d="M178.30 312.40L178.30 314.20" stroke="#8c8c8c" stroke-width="0.6" />
<path d="M53.50 312.40v1.3M56.10 312.40v1.3M58.70 312.40v1.3M61.30 312.40v1.3M63.90 312.40v1.3M66.50 312.40v1.3M69.10 312.40v1.3M71.70 312.40v1.3M74.30 312.40v1.3M76.90 312.40v1.3M79.50 312.40v1.3M82.10 312.40v1.3M84.70 312.40v1.3M87.30 312.40v1.3M89.90 312.40v1.3M92.50 312.40v1.3M95.10 312.40v1.3M97.70 312.40v1.3M100.30 312.40v1.3M102.90 312.40v1.3M105.50 312.40v1.3M108.10 312.40v1.3M110.70 312.40v1.3M113.30 312.40v1.3M115.90 312.40v1.3M118.50 312.40v1.3M121.10 312.40v1.3M123.70 312.40v1.3M126.30 312.40v1.3M128.90 312.40v1.3M131.50 312.40v1.3M134.10 312.40v1.3M136.70 312.40v1.3M139.30 312.40v1.3M141.90 312.40v1.3M144.50 312.40v1.3M147.10 312.40v1.3M149.70 312.40v1.3M152.30 312.40v1.3M154.90 312.40v1.3M157.50 312.40v1.3M160.10 312.40v1.3M162.70 312.40v1.3M165.30 312.40v1.3M167.90 312.40v1.3M170.50 312.40v1.3M173.10 312.40v1.3M175.70 312.40v1.3M178.30 312.40v1.3M180.90 312.40v1.3M183.50 312.40v1.3" stroke="#9a9a9a" stroke-width="0.45" fill="none"/>
<text x="53.50" y="322.90" font-size="6.4" text-anchor="middle" fill="#222" stroke="#222" stroke-width="0.18" >0</text>
<text x="84.70" y="322.90" font-size="6.4" text-anchor="middle" fill="#222" stroke="#222" stroke-width="0.18" >360</text>
<text x="115.90" y="322.90" font-size="6.4" text-anchor="middle" fill="#222" stroke="#222" stroke-width="0.18" >720</text>
<text x="147.10" y="322.90" font-size="6.4" text-anchor="middle" fill="#222" stroke="#222" stroke-width="0.18" >1080</text>
<text x="178.30" y="322.90" font-size="6.4" text-anchor="middle" fill="#222" stroke="#222" stroke-width="0.18" >1440</text>
<text x="112.50" y="338.20" font-size="9.65" text-anchor="middle" fill="#111" stroke="#111" stroke-width="0.32" >Days post-HCT</text>
<text font-size="9.5" text-anchor="middle" fill="#111" stroke="#111" stroke-width="0.28" transform="translate(12.6,262.6) rotate(-90)"><tspan x="0" y="0">TCRβ clonotype</tspan><tspan x="0" y="11.2">Frequency</tspan></text>
<path d="M9.20 220.50L22.20 220.50" stroke="#111" stroke-width="0.7" />
<circle cx="15.80" cy="220.50" r="3.0" fill="none" stroke="#111" stroke-width="0.85" />
<text x="136.40" y="205.10" font-size="6.4" text-anchor="middle" fill="#111" stroke="#111" stroke-width="0.18" >RELAPSE</text>
<text x="164.60" y="195.20" font-size="6.4" text-anchor="middle" fill="#111" stroke="#111" stroke-width="0.18" >DLI</text>
<path d="M157.20 197.30L173.90 197.30" stroke="#111" stroke-width="0.7" />
<path d="M150.30 207.00L150.30 215.80" stroke="#000" stroke-width="1.1" />
<path d="M148.00,215.10L152.60,215.10L150.30,219.80Z" fill="#000"/>
<path d="M157.80 197.30L157.80 215.80" stroke="#000" stroke-width="1.1" />
<path d="M155.50,215.10L160.10,215.10L157.80,219.80Z" fill="#000"/>
<path d="M167.60 197.30L167.60 215.80" stroke="#000" stroke-width="1.1" />
<path d="M165.30,215.10L169.90,215.10L167.60,219.80Z" fill="#000"/>
<path d="M172.90 197.30L172.90 215.80" stroke="#000" stroke-width="1.1" />
<path d="M170.60,215.10L175.20,215.10L172.90,219.80Z" fill="#000"/>
<polyline points="52.2,243.4 56.4,257.7 60.6,268.2 68.8,280.1 84.2,288.6 100.8,275.9 115.9,265.7 163.2,228.6 178.3,224.8" fill="none" stroke="#ec7d78" stroke-width="0.65"/>
<circle cx="52.20" cy="243.40" r="2.35" fill="#d3262b" stroke="#a81c22" stroke-width="0.4" />
<circle cx="56.40" cy="257.70" r="2.35" fill="#d3262b" stroke="#a81c22" stroke-width="0.4" />
<circle cx="60.60" cy="268.20" r="2.35" fill="#d3262b" stroke="#a81c22" stroke-width="0.4" />
<circle cx="68.80" cy="280.10" r="2.35" fill="#d3262b" stroke="#a81c22" stroke-width="0.4" />
<circle cx="84.20" cy="288.60" r="2.35" fill="#d3262b" stroke="#a81c22" stroke-width="0.4" />
<circle cx="100.80" cy="275.90" r="2.35" fill="#d3262b" stroke="#a81c22" stroke-width="0.4" />
<circle cx="115.90" cy="265.70" r="2.35" fill="#d3262b" stroke="#a81c22" stroke-width="0.4" />
<circle cx="163.20" cy="228.60" r="2.35" fill="#d3262b" stroke="#a81c22" stroke-width="0.4" />
<circle cx="178.30" cy="224.80" r="2.35" fill="#d3262b" stroke="#a81c22" stroke-width="0.4" />
<path d="M52.6 268.1L59.8 264.4L61.1 244.5L68.6 253.6L84.3 254.3L100.8 252.6L116.0 255.9L147.6 250.1L163.2 251.1L174.6 248.9L178.5 255.4L182.3 250.2M52.6 268.3L59.8 256.2L61.1 264.2L68.6 250.6L84.3 246.2L100.8 241.7L116.0 235.4L147.6 241.3L163.2 237.2L174.6 242.3L178.5 240.2L182.3 236.4M52.6 266.2L59.8 254.7L61.1 245.9L68.6 243.8L84.3 241.6L100.8 240.4L116.0 242.6L147.6 244.9L163.2 245.5L174.6 253.2L178.5 250.8L182.3 247.8M52.6 267.1L59.8 256.5L61.1 238.2L68.6 238.1L84.3 239.3L100.8 240.8L116.0 239.8L147.6 241.5L163.2 237.4L174.6 242.6L178.5 243.3L182.3 243.8M52.6 283.1L59.8 259.1L61.1 235.8L68.6 240.8L84.3 237.0L100.8 241.3L116.0 242.6L147.6 241.4L163.2 240.5L174.6 236.9L178.5 237.4L182.3 237.6M52.6 266.0L59.8 242.2L61.1 238.2L68.6 229.5L84.3 231.9L100.8 229.5L116.0 230.0L147.6 236.4L163.2 232.9L174.6 233.7L178.5 236.5L182.3 237.7M52.6 260.6L59.8 248.5L61.1 234.6L68.6 231.3L84.3 232.1L100.8 233.2L116.0 233.9L147.6 233.6L163.2 233.8L174.6 236.2L178.5 235.4L182.3 238.2M52.6 273.6L59.8 250.4L61.1 232.6L68.6 229.8L84.3 230.7L100.8 230.0L116.0 230.8L147.6 231.2L163.2 235.8L174.6 235.2L178.5 237.7L182.3 236.3M52.6 281.9L59.8 272.4L61.1 254.2L68.6 253.5L84.3 249.6L100.8 255.4L116.0 254.6L147.6 256.3L163.2 251.3L174.6 251.3L178.5 250.8L182.3 255.9M52.6 287.4L59.8 237.9L61.1 236.9L68.6 239.9L84.3 232.4L100.8 231.9L116.0 233.8L147.6 234.4L163.2 235.4L174.6 236.7L178.5 237.8L182.3 235.9M52.6 262.7L59.8 274.1L61.1 253.9L68.6 257.7L84.3 260.5L100.8 257.1L116.0 259.9L147.6 259.4L163.2 261.2L174.6 260.5L178.5 264.8L182.3 265.7M52.6 269.9L59.8 253.9L61.1 244.0L68.6 235.8L84.3 238.1L100.8 239.0L116.0 240.6L147.6 238.7L163.2 244.7L174.6 242.5L178.5 241.1L182.3 244.8M52.6 287.2L59.8 255.5L61.1 242.8L68.6 240.5L84.3 239.2L100.8 240.3L116.0 241.6L147.6 240.6L163.2 239.2L174.6 243.1L178.5 244.6L182.3 241.6M52.6 283.2L59.8 248.9L61.1 230.5L68.6 235.4L84.3 240.0L100.8 233.4L116.0 233.9L147.6 236.1L163.2 235.2L174.6 234.6L178.5 232.9L182.3 234.8M52.6 280.3L59.8 253.5L61.1 234.3L68.6 241.5L84.3 243.8L100.8 242.4L116.0 242.4L147.6 241.8L163.2 242.9L174.6 243.7L178.5 244.0L182.3 244.9M52.6 282.0L59.8 264.6L61.1 250.9L68.6 244.7L84.3 240.8L100.8 240.3L116.0 239.0L147.6 245.2L163.2 239.4L174.6 244.5L178.5 243.4L182.3 242.9M52.6 280.6L59.8 257.2L61.1 247.6L68.6 241.6L84.3 241.9L100.8 243.9L116.0 249.5L147.6 249.3L163.2 245.1L174.6 251.2L178.5 247.4L182.3 245.8M52.6 270.1L59.8 260.4L61.1 246.6L68.6 247.3L84.3 252.9L100.8 253.5L116.0 254.8L147.6 256.9L163.2 258.3L174.6 257.1L178.5 252.9L182.3 251.6M52.6 274.7L59.8 256.8L61.1 248.4L68.6 256.9L84.3 257.4L100.8 260.2L116.0 257.8L147.6 257.8L163.2 260.8L174.6 258.3L178.5 261.3L182.3 259.3M52.6 261.6L59.8 256.5L61.1 250.7L68.6 253.3L84.3 255.4L100.8 258.0L116.0 259.1L147.6 259.5L163.2 263.2L174.6 258.8L178.5 258.4L182.3 258.5M52.6 262.0L59.8 256.2L61.1 242.5L68.6 259.2L84.3 260.1L100.8 255.9L116.0 256.5L147.6 257.6L163.2 253.1L174.6 256.6L178.5 263.9L182.3 259.8M52.6 271.5L59.8 264.7L61.1 246.5L68.6 251.4L84.3 250.8L100.8 250.9L116.0 249.7L147.6 252.8L163.2 257.9L174.6 256.4L178.5 263.2L182.3 261.2M52.6 256.0L59.8 244.1L61.1 250.3L68.6 245.4L84.3 247.4L100.8 245.0L116.0 247.7L147.6 244.9L163.2 242.0L174.6 251.2L178.5 254.6L182.3 255.1M52.6 284.4L59.8 269.1L61.1 252.3L68.6 251.9L84.3 252.5L100.8 248.6L116.0 253.9L147.6 252.3L163.2 253.6L174.6 250.8L178.5 253.0L182.3 247.8M52.6 266.5L59.8 256.5L61.1 241.9L68.6 243.9L84.3 246.0L100.8 245.1L116.0 241.0L147.6 238.7L163.2 243.0L174.6 244.8L178.5 245.7L182.3 247.8M52.6 289.2L59.8 264.6L61.1 234.2L68.6 234.9L84.3 231.2L100.8 232.0L116.0 230.2L147.6 230.6L163.2 236.1L174.6 235.5L178.5 232.7L182.3 234.1M52.6 268.7L59.8 249.4L61.1 230.4L68.6 237.9L84.3 239.5L100.8 236.2L116.0 237.6L147.6 239.3L163.2 242.1L174.6 237.8L178.5 240.2L182.3 243.3M52.6 263.4L59.8 248.3L61.1 244.9L68.6 233.1L84.3 234.3L100.8 232.0L116.0 234.9L147.6 229.7L163.2 234.0L174.6 234.5L178.5 233.4L182.3 233.0M52.6 287.6L59.8 261.7L61.1 232.3L68.6 230.7L84.3 230.5L100.8 232.3L116.0 231.5L147.6 233.5L163.2 233.2L174.6 238.3L178.5 238.4L182.3 245.6M52.6 276.2L59.8 265.7L61.1 245.6L68.6 237.5L84.3 239.0L100.8 241.9L116.0 242.4L147.6 237.5L163.2 238.0L174.6 238.1L178.5 238.1L182.3 240.4M52.6 261.7L59.8 251.3L61.1 250.1L68.6 247.1L84.3 249.6L100.8 246.0L116.0 248.3L147.6 242.0L163.2 247.1L174.6 252.4L178.5 253.3L182.3 257.3M52.6 267.6L59.8 258.0L61.1 247.3L68.6 253.2L84.3 255.4L100.8 251.4L116.0 256.3L147.6 257.3L163.2 258.0L174.6 258.4L178.5 260.4L182.3 260.2M52.6 282.6L59.8 272.1L61.1 230.8L68.6 231.1L84.3 231.6L100.8 230.9L116.0 234.4L147.6 231.6L163.2 235.7L174.6 234.6L178.5 236.5L182.3 235.6M52.6 277.9L59.8 247.2L61.1 251.5L68.6 240.3L84.3 243.4L100.8 243.4L116.0 241.9L147.6 245.0L163.2 244.9L174.6 244.6L178.5 247.8L182.3 247.3M52.6 278.0L59.8 274.1L61.1 244.0L68.6 248.8L84.3 248.1L100.8 247.3L116.0 246.5L147.6 250.5L163.2 250.5L174.6 252.1L178.5 252.3L182.3 253.3M52.6 265.3L59.8 260.4L61.1 230.5L68.6 242.9L84.3 240.6L100.8 245.5L116.0 244.0L147.6 247.1L163.2 248.2L174.6 246.2L178.5 245.3L182.3 246.0M52.6 287.2L59.8 264.6L61.1 257.5L68.6 254.7L84.3 252.5L100.8 255.2L116.0 254.4L147.6 257.7L163.2 257.5L174.6 257.6L178.5 252.5L182.3 254.0M52.6 268.0L59.8 246.9L61.1 234.9L68.6 231.1L84.3 232.0L100.8 233.9L116.0 229.8L147.6 233.6L163.2 233.9L174.6 234.7L178.5 233.7L182.3 233.7M52.6 261.8L59.8 255.4L61.1 243.9L68.6 242.5L84.3 237.8L100.8 237.1L116.0 242.9L147.6 244.6L163.2 243.6L174.6 244.9L178.5 241.7L182.3 242.0M52.6 282.3L59.8 269.2L61.1 250.4L68.6 242.7L84.3 238.7L100.8 237.7L116.0 237.8L147.6 241.9L163.2 240.7L174.6 241.8L178.5 242.8L182.3 244.8M52.6 283.2L59.8 262.0L61.1 240.9L68.6 236.1L84.3 232.7L100.8 231.3L116.0 230.0L147.6 234.7L163.2 234.5L174.6 235.0L178.5 236.3L182.3 235.2M52.6 270.7L59.8 276.8L61.1 255.5L68.6 248.0L84.3 248.4L100.8 245.7L116.0 250.9L147.6 249.6L163.2 253.7L174.6 255.4L178.5 251.6L182.3 248.9M52.6 255.8L59.8 256.2L61.1 243.6L68.6 243.4L84.3 243.4L100.8 241.0L116.0 240.9L147.6 239.2L163.2 236.1L174.6 241.3L178.5 239.5L182.3 241.4M52.6 284.9L59.8 262.2L61.1 235.0L68.6 232.9L84.3 231.0L100.8 231.7L116.0 231.5L147.6 230.7L163.2 233.4L174.6 234.9L178.5 236.1L182.3 237.4M52.6 274.0L59.8 256.2L61.1 242.1L68.6 239.2L84.3 234.3L100.8 239.7L116.0 242.3L147.6 245.4L163.2 242.4L174.6 241.9L178.5 245.8L182.3 241.4M52.6 255.6L59.8 237.6L61.1 265.3L68.6 258.3L84.3 255.0L100.8 252.7L116.0 260.4L147.6 263.8L163.2 262.8L174.6 272.8L178.5 269.4L182.3 268.7M52.6 264.6L59.8 253.0L61.1 231.7L68.6 250.3L84.3 248.5L100.8 243.2L116.0 245.5L147.6 251.6L163.2 249.4L174.6 253.1L178.5 251.3L182.3 251.2M52.6 255.1L59.8 258.8L61.1 244.8L68.6 240.6L84.3 238.3L100.8 241.4L116.0 245.5L147.6 244.5L163.2 247.6L174.6 251.7L178.5 250.9L182.3 254.8M52.6 270.4L59.8 262.8L61.1 253.3L68.6 246.3L84.3 249.9L100.8 250.4L116.0 249.4L147.6 251.1L163.2 247.9L174.6 256.3L178.5 255.7L182.3 256.2M52.6 281.5L59.8 256.0L61.1 251.8L68.6 247.5L84.3 248.7L100.8 246.2L116.0 248.0L147.6 250.3L163.2 253.3L174.6 252.0L178.5 245.1L182.3 248.9M52.6 285.3L59.8 264.2L61.1 234.8L68.6 235.3L84.3 234.1L100.8 236.7L116.0 236.0L147.6 234.8L163.2 235.7L174.6 238.5L178.5 236.4L182.3 237.1M52.6 288.6L59.8 254.9L61.1 244.5L68.6 235.1L84.3 235.3L100.8 236.8L116.0 236.0L147.6 240.6L163.2 235.8L174.6 243.9L178.5 241.5L182.3 239.2M52.6 287.1L59.8 271.9L61.1 258.0L68.6 256.2L84.3 257.4L100.8 252.8L116.0 252.1L147.6 258.1L163.2 257.6L174.6 265.7L178.5 266.4L182.3 263.6M52.6 258.9L59.8 248.6L61.1 230.6L68.6 241.5L84.3 244.5L100.8 249.1L116.0 247.1L147.6 253.5L163.2 252.8L174.6 259.6L178.5 257.9L182.3 255.6M52.6 287.4L59.8 270.4L61.1 258.7L68.6 255.7L84.3 253.7L100.8 256.4L116.0 255.1L147.6 259.5L163.2 257.2L174.6 257.6L178.5 253.5L182.3 256.4M52.6 265.8L59.8 256.2L61.1 237.9L68.6 231.0L84.3 231.2L100.8 229.7L116.0 229.7L147.6 230.8L163.2 235.2L174.6 235.7L178.5 235.1L182.3 236.1M52.6 285.3L59.8 268.9L61.1 231.5L68.6 239.6L84.3 239.9L100.8 239.8L116.0 239.5L147.6 242.9L163.2 241.2L174.6 243.6L178.5 246.3L182.3 243.8M52.6 262.8L59.8 251.6L61.1 242.5L68.6 248.1L84.3 249.5L100.8 249.2L116.0 250.0L147.6 252.9L163.2 250.7L174.6 252.1L178.5 251.4L182.3 253.4M52.6 271.0L59.8 277.1L61.1 248.3L68.6 248.8L84.3 245.7L100.8 248.6L116.0 247.1L147.6 246.8L163.2 245.8L174.6 251.6L178.5 251.3L182.3 248.2M52.6 261.0L59.8 251.5L61.1 252.8L68.6 249.1L84.3 251.0L100.8 253.2L116.0 250.0L147.6 254.2L163.2 257.2L174.6 258.8L178.5 259.6L182.3 254.5M52.6 262.0L59.8 240.0L61.1 226.4L68.6 223.3L84.3 221.6L100.8 223.5L116.0 224.0L147.6 227.1L163.2 229.0L174.6 230.0L178.5 231.0L182.3 232.0M52.6 290.0L59.8 301.8L61.1 301.8L68.6 301.8L84.3 255.0L100.8 252.0L116.0 250.0L147.6 254.0L163.2 256.0L174.6 258.0L178.5 259.0L182.3 260.0M52.6 285.0L59.8 295.0L61.1 301.8L68.6 301.8L84.3 248.0L100.8 245.0L116.0 247.0L147.6 251.0L163.2 253.0L174.6 256.0L178.5 257.0L182.3 259.0M52.6 288.0L59.8 300.0L61.1 301.8L68.6 266.7L84.3 266.7L100.8 266.7L116.0 262.0L147.6 265.6L163.2 269.7L174.6 270.7L178.5 273.8L182.3 277.9M52.6 280.0L59.8 270.0L61.1 285.0L68.6 290.0L84.3 280.0L100.8 262.0L116.0 258.0L147.6 260.0L163.2 262.0L174.6 265.0L178.5 268.0L182.3 270.0" fill="none" stroke="#000" stroke-width="0.6" stroke-opacity="0.65"/>
<path d="M52.6 296.8L59.8 301.0L61.1 301.8L68.6 301.8L84.3 301.8L100.8 302.1L116.0 302.1L147.6 302.5L163.2 302.5L174.6 302.2L178.5 302.0L182.3 300.6" fill="none" stroke="#666" stroke-width="0.7"/>
<path d="M52.6 296.8L61.1 301.8L68.6 301.8" fill="none" stroke="#000" stroke-width="1.2"/>
<path d="M54.7 268.1a2.1 2.1 0 1 0 -4.2 0a2.1 2.1 0 1 0 4.2 0M61.9 264.4a2.1 2.1 0 1 0 -4.2 0a2.1 2.1 0 1 0 4.2 0M63.2 244.5a2.1 2.1 0 1 0 -4.2 0a2.1 2.1 0 1 0 4.2 0M70.7 253.6a2.1 2.1 0 1 0 -4.2 0a2.1 2.1 0 1 0 4.2 0M86.4 254.3a2.1 2.1 0 1 0 -4.2 0a2.1 2.1 0 1 0 4.2 0M102.9 252.6a2.1 2.1 0 1 0 -4.2 0a2.1 2.1 0 1 0 4.2 0M118.1 255.9a2.1 2.1 0 1 0 -4.2 0a2.1 2.1 0 1 0 4.2 0M149.7 250.1a2.1 2.1 0 1 0 -4.2 0a2.1 2.1 0 1 0 4.2 0M165.3 251.1a2.1 2.1 0 1 0 -4.2 0a2.1 2.1 0 1 0 4.2 0M176.7 248.9a2.1 2.1 0 1 0 -4.2 0a2.1 2.1 0 1 0 4.2 0M180.6 255.4a2.1 2.1 0 1 0 -4.2 0a2.1 2.1 0 1 0 4.2 0M184.4 250.2a2.1 2.1 0 1 0 -4.2 0a2.1 2.1 0 1 0 4.2 0M54.7 268.3a2.1 2.1 0 1 0 -4.2 0a2.1 2.1 0 1 0 4.2 0M61.9 256.2a2.1 2.1 0 1 0 -4.2 0a2.1 2.1 0 1 0 4.2 0M63.2 264.2a2.1 2.1 0 1 0 -4.2 0a2.1 2.1 0 1 0 4.2 0M70.7 250.6a2.1 2.1 0 1 0 -4.2 0a2.1 2.1 0 1 0 4.2 0M86.4 246.2a2.1 2.1 0 1 0 -4.2 0a2.1 2.1 0 1 0 4.2 0M102.9 241.7a2.1 2.1 0 1 0 -4.2 0a2.1 2.1 0 1 0 4.2 0M118.1 235.4a2.1 2.1 0 1 0 -4.2 0a2.1 2.1 0 1 0 4.2 0M149.7 241.3a2.1 2.1 0 1 0 -4.2 0a2.1 2.1 0 1 0 4.2 0M165.3 237.2a2.1 2.1 0 1 0 -4.2 0a2.1 2.1 0 1 0 4.2 0M176.7 242.3a2.1 2.1 0 1 0 -4.2 0a2.1 2.1 0 1 0 4.2 0M180.6 240.2a2.1 2.1 0 1 0 -4.2 0a2.1 2.1 0 1 0 4.2 0M184.4 236.4a2.1 2.1 0 1 0 -4.2 0a2.1 2.1 0 1 0 4.2 0M54.7 266.2a2.1 2.1 0 1 0 -4.2 0a2.1 2.1 0 1 0 4.2 0M61.9 254.7a2.1 2.1 0 1 0 -4.2 0a2.1 2.1 0 1 0 4.2 0M63.2 245.9a2.1 2.1 0 1 0 -4.2 0a2.1 2.1 0 1 0 4.2 0M70.7 243.8a2.1 2.1 0 1 0 -4.2 0a2.1 2.1 0 1 0 4.2 0M86.4 241.6a2.1 2.1 0 1 0 -4.2 0a2.1 2.1 0 1 0 4.2 0M102.9 240.4a2.1 2.1 0 1 0 -4.2 0a2.1 2.1 0 1 0 4.2 0M118.1 242.6a2.1 2.1 0 1 0 -4.2 0a2.1 2.1 0 1 0 4.2 0M149.7 244.9a2.1 2.1 0 1 0 -4.2 0a2.1 2.1 0 1 0 4.2 0M165.3 245.5a2.1 2.1 0 1 0 -4.2 0a2.1 2.1 0 1 0 4.2 0M176.7 253.2a2.1 2.1 0 1 0 -4.2 0a2.1 2.1 0 1 0 4.2 0M180.6 250.8a2.1 2.1 0 1 0 -4.2 0a2.1 2.1 0 1 0 4.2 0M184.4 247.8a2.1 2.1 0 1 0 -4.2 0a2.1 2.1 0 1 0 4.2 0M54.7 267.1a2.1 2.1 0 1 0 -4.2 0a2.1 2.1 0 1 0 4.2 0M61.9 256.5a2.1 2.1 0 1 0 -4.2 0a2.1 2.1 0 1 0 4.2 0M63.2 238.2a2.1 2.1 0 1 0 -4.2 0a2.1 2.1 0 1 0 4.2 0M70.7 238.1a2.1 2.1 0 1 0 -4.2 0a2.1 2.1 0 1 0 4.2 0M86.4 239.3a2.1 2.1 0 1 0 -4.2 0a2.1 2.1 0 1 0 4.2 0M102.9 240.8a2.1 2.1 0 1 0 -4.2 0a2.1 2.1 0 1 0 4.2 0M118.1 239.8a2.1 2.1 0 1 0 -4.2 0a2.1 2.1 0 1 0 4.2 0M149.7 241.5a2.1 2.1 0 1 0 -4.2 0a2.1 2.1 0 1 0 4.2 0M165.3 237.4a2.1 2.1 0 1 0 -4.2 0a2.1 2.1 0 1 0 4.2 0M176.7 242.6a2.1 2.1 0 1 0 -4.2 0a2.1 2.1 0 1 0 4.2 0M180.6 243.3a2.1 2.1 0 1 0 -4.2 0a2.1 2.1 0 1 0 4.2 0M184.4 243.8a2.1 2.1 0 1 0 -4.2 0a2.1 2.1 0 1 0 4.2 0M54.7 283.1a2.1 2.1 0 1 0 -4.2 0a2.1 2.1 0 1 0 4.2 0M61.9 259.1a2.1 2.1 0 1 0 -4.2 0a2.1 2.1 0 1 0 4.2 0M63.2 235.8a2.1 2.1 0 1 0 -4.2 0a2.1 2.1 0 1 0 4.2 0M70.7 240.8a2.1 2.1 0 1 0 -4.2 0a2.1 2.1 0 1 0 4.2 0M86.4 237.0a2.1 2.1 0 1 0 -4.2 0a2.1 2.1 0 1 0 4.2 0M102.9 241.3a2.1 2.1 0 1 0 -4.2 0a2.1 2.1 0 1 0 4.2 0M118.1 242.6a2.1 2.1 0 1 0 -4.2 0a2.1 2.1 0 1 0 4.2 0M149.7 241.4a2.1 2.1 0 1 0 -4.2 0a2.1 2.1 0 1 0 4.2 0M165.3 240.5a2.1 2.1 0 1 0 -4.2 0a2.1 2.1 0 1 0 4.2 0M176.7 236.9a2.1 2.1 0 1 0 -4.2 0a2.1 2.1 0 1 0 4.2 0M180.6 237.4a2.1 2.1 0 1 0 -4.2 0a2.1 2.1 0 1 0 4.2 0M184.4 237.6a2.1 2.1 0 1 0 -4.2 0a2.1 2.1 0 1 0 4.2 0M54.7 266.0a2.1 2.1 0 1 0 -4.2 0a2.1 2.1 0 1 0 4.2 0M61.9 242.2a2.1 2.1 0 1 0 -4.2 0a2.1 2.1 0 1 0 4.2 0M63.2 238.2a2.1 2.1 0 1 0 -4.2 0a2.1 2.1 0 1 0 4.2 0M70.7 229.5a2.1 2.1 0 1 0 -4.2 0a2.1 2.1 0 1 0 4.2 0M86.4 231.9a2.1 2.1 0 1 0 -4.2 0a2.1 2.1 0 1 0 4.2 0M102.9 229.5a2.1 2.1 0 1 0 -4.2 0a2.1 2.1 0 1 0 4.2 0M118.1 230.0a2.1 2.1 0 1 0 -4.2 0a2.1 2.1 0 1 0 4.2 0M149.7 236.4a2.1 2.1 0 1 0 -4.2 0a2.1 2.1 0 1 0 4.2 0M165.3 232.9a2.1 2.1 0 1 0 -4.2 0a2.1 2.1 0 1 0 4.2 0M176.7 233.7a2.1 2.1 0 1 0 -4.2 0a2.1 2.1 0 1 0 4.2 0M180.6 236.5a2.1 2.1 0 1 0 -4.2 0a2.1 2.1 0 1 0 4.2 0M184.4 237.7a2.1 2.1 0 1 0 -4.2 0a2.1 2.1 0 1 0 4.2 0M54.7 260.6a2.1 2.1 0 1 0 -4.2 0a2.1 2.1 0 1 0 4.2 0M61.9 248.5a2.1 2.1 0 1 0 -4.2 0a2.1 2.1 0 1 0 4.2 0M63.2 234.6a2.1 2.1 0 1 0 -4.2 0a2.1 2.1 0 1 0 4.2 0M70.7 231.3a2.1 2.1 0 1 0 -4.2 0a2.1 2.1 0 1 0 4.2 0M86.4 232.1a2.1 2.1 0 1 0 -4.2 0a2.1 2.1 0 1 0 4.2 0M102.9 233.2a2.1 2.1 0 1 0 -4.2 0a2.1 2.1 0 1 0 4.2 0M118.1 233.9a2.1 2.1 0 1 0 -4.2 0a2.1 2.1 0 1 0 4.2 0M149.7 233.6a2.1 2.1 0 1 0 -4.2 0a2.1 2.1 0 1 0 4.2 0M165.3 233.8a2.1 2.1 0 1 0 -4.2 0a2.1 2.1 0 1 0 4.2 0M176.7 236.2a2.1 2.1 0 1 0 -4.2 0a2.1 2.1 0 1 0 4.2 0M180.6 235.4a2.1 2.1 0 1 0 -4.2 0a2.1 2.1 0 1 0 4.2 0M184.4 238.2a2.1 2.1 0 1 0 -4.2 0a2.1 2.1 0 1 0 4.2 0M54.7 273.6a2.1 2.1 0 1 0 -4.2 0a2.1 2.1 0 1 0 4.2 0M61.9 250.4a2.1 2.1 0 1 0 -4.2 0a2.1 2.1 0 1 0 4.2 0M63.2 232.6a2.1 2.1 0 1 0 -4.2 0a2.1 2.1 0 1 0 4.2 0M70.7 229.8a2.1 2.1 0 1 0 -4.2 0a2.1 2.1 0 1 0 4.2 0M86.4 230.7a2.1 2.1 0 1 0 -4.2 0a2.1 2.1 0 1 0 4.2 0M102.9 230.0a2.1 2.1 0 1 0 -4.2 0a2.1 2.1 0 1 0 4.2 0M118.1 230.8a2.1 2.1 0 1 0 -4.2 0a2.1 2.1 0 1 0 4.2 0M149.7 231.2a2.1 2.1 0 1 0 -4.2 0a2.1 2.1 0 1 0 4.2 0M165.3 235.8a2.1 2.1 0 1 0 -4.2 0a2.1 2.1 0 1 0 4.2 0M176.7 235.2a2.1 2.1 0 1 0 -4.2 0a2.1 2.1 0 1 0 4.2 0M180.6 237.7a2.1 2.1 0 1 0 -4.2 0a2.1 2.1 0 1 0 4.2 0M184.4 236.3a2.1 2.1 0 1 0 -4.2 0a2.1 2.1 0 1 0 4.2 0M54.7 281.9a2.1 2.1 0 1 0 -4.2 0a2.1 2.1 0 1 0 4.2 0M61.9 272.4a2.1 2.1 0 1 0 -4.2 0a2.1 2.1 0 1 0 4.2 0M63.2 254.2a2.1 2.1 0 1 0 -4.2 0a2.1 2.1 0 1 0 4.2 0M70.7 253.5a2.1 2.1 0 1 0 -4.2 0a2.1 2.1 0 1 0 4.2 0M86.4 249.6a2.1 2.1 0 1 0 -4.2 0a2.1 2.1 0 1 0 4.2 0M102.9 255.4a2.1 2.1 0 1 0 -4.2 0a2.1 2.1 0 1 0 4.2 0M118.1 254.6a2.1 2.1 0 1 0 -4.2 0a2.1 2.1 0 1 0 4.2 0M149.7 256.3a2.1 2.1 0 1 0 -4.2 0a2.1 2.1 0 1 0 4.2 0M165.3 251.3a2.1 2.1 0 1 0 -4.2 0a2.1 2.1 0 1 0 4.2 0M176.7 251.3a2.1 2.1 0 1 0 -4.2 0a2.1 2.1 0 1 0 4.2 0M180.6 250.8a2.1 2.1 0 1 0 -4.2 0a2.1 2.1 0 1 0 4.2 0M184.4 255.9a2.1 2.1 0 1 0 -4.2 0a2.1 2.1 0 1 0 4.2 0M54.7 287.4a2.1 2.1 0 1 0 -4.2 0a2.1 2.1 0 1 0 4.2 0M61.9 237.9a2.1 2.1 0 1 0 -4.2 0a2.1 2.1 0 1 0 4.2 0M63.2 236.9a2.1 2.1 0 1 0 -4.2 0a2.1 2.1 0 1 0 4.2 0M70.7 239.9a2.1 2.1 0 1 0 -4.2 0a2.1 2.1 0 1 0 4.2 0M86.4 232.4a2.1 2.1 0 1 0 -4.2 0a2.1 2.1 0 1 0 4.2 0M102.9 231.9a2.1 2.1 0 1 0 -4.2 0a2.1 2.1 0 1 0 4.2 0M118.1 233.8a2.1 2.1 0 1 0 -4.2 0a2.1 2.1 0 1 0 4.2 0M149.7 234.4a2.1 2.1 0 1 0 -4.2 0a2.1 2.1 0 1 0 4.2 0M165.3 235.4a2.1 2.1 0 1 0 -4.2 0a2.1 2.1 0 1 0 4.2 0M176.7 236.7a2.1 2.1 0 1 0 -4.2 0a2.1 2.1 0 1 0 4.2 0M180.6 237.8a2.1 2.1 0 1 0 -4.2 0a2.1 2.1 0 1 0 4.2 0M184.4 235.9a2.1 2.1 0 1 0 -4.2 0a2.1 2.1 0 1 0 4.2 0M54.7 262.7a2.1 2.1 0 1 0 -4.2 0a2.1 2.1 0 1 0 4.2 0M61.9 274.1a2.1 2.1 0 1 0 -4.2 0a2.1 2.1 0 1 0 4.2 0M63.2 253.9a2.1 2.1 0 1 0 -4.2 0a2.1 2.1 0 1 0 4.2 0M70.7 257.7a2.1 2.1 0 1 0 -4.2 0a2.1 2.1 0 1 0 4.2 0M86.4 260.5a2.1 2.1 0 1 0 -4.2 0a2.1 2.1 0 1 0 4.2 0M102.9 257.1a2.1 2.1 0 1 0 -4.2 0a2.1 2.1 0 1 0 4.2 0M118.1 259.9a2.1 2.1 0 1 0 -4.2 0a2.1 2.1 0 1 0 4.2 0M149.7 259.4a2.1 2.1 0 1 0 -4.2 0a2.1 2.1 0 1 0 4.2 0M165.3 261.2a2.1 2.1 0 1 0 -4.2 0a2.1 2.1 0 1 0 4.2 0M176.7 260.5a2.1 2.1 0 1 0 -4.2 0a2.1 2.1 0 1 0 4.2 0M180.6 264.8a2.1 2.1 0 1 0 -4.2 0a2.1 2.1 0 1 0 4.2 0M184.4 265.7a2.1 2.1 0 1 0 -4.2 0a2.1 2.1 0 1 0 4.2 0M54.7 269.9a2.1 2.1 0 1 0 -4.2 0a2.1 2.1 0 1 0 4.2 0M61.9 253.9a2.1 2.1 0 1 0 -4.2 0a2.1 2.1 0 1 0 4.2 0M63.2 244.0a2.1 2.1 0 1 0 -4.2 0a2.1 2.1 0 1 0 4.2 0M70.7 235.8a2.1 2.1 0 1 0 -4.2 0a2.1 2.1 0 1 0 4.2 0M86.4 238.1a2.1 2.1 0 1 0 -4.2 0a2.1 2.1 0 1 0 4.2 0M102.9 239.0a2.1 2.1 0 1 0 -4.2 0a2.1 2.1 0 1 0 4.2 0M118.1 240.6a2.1 2.1 0 1 0 -4.2 0a2.1 2.1 0 1 0 4.2 0M149.7 238.7a2.1 2.1 0 1 0 -4.2 0a2.1 2.1 0 1 0 4.2 0M165.3 244.7a2.1 2.1 0 1 0 -4.2 0a2.1 2.1 0 1 0 4.2 0M176.7 242.5a2.1 2.1 0 1 0 -4.2 0a2.1 2.1 0 1 0 4.2 0M180.6 241.1a2.1 2.1 0 1 0 -4.2 0a2.1 2.1 0 1 0 4.2 0M184.4 244.8a2.1 2.1 0 1 0 -4.2 0a2.1 2.1 0 1 0 4.2 0M54.7 287.2a2.1 2.1 0 1 0 -4.2 0a2.1 2.1 0 1 0 4.2 0M61.9 255.5a2.1 2.1 0 1 0 -4.2 0a2.1 2.1 0 1 0 4.2 0M63.2 242.8a2.1 2.1 0 1 0 -4.2 0a2.1 2.1 0 1 0 4.2 0M70.7 240.5a2.1 2.1 0 1 0 -4.2 0a2.1 2.1 0 1 0 4.2 0M86.4 239.2a2.1 2.1 0 1 0 -4.2 0a2.1 2.1 0 1 0 4.2 0M102.9 240.3a2.1 2.1 0 1 0 -4.2 0a2.1 2.1 0 1 0 4.2 0M118.1 241.6a2.1 2.1 0 1 0 -4.2 0a2.1 2.1 0 1 0 4.2 0M149.7 240.6a2.1 2.1 0 1 0 -4.2 0a2.1 2.1 0 1 0 4.2 0M165.3 239.2a2.1 2.1 0 1 0 -4.2 0a2.1 2.1 0 1 0 4.2 0M176.7 243.1a2.1 2.1 0 1 0 -4.2 0a2.1 2.1 0 1 0 4.2 0M180.6 244.6a2.1 2.1 0 1 0 -4.2 0a2.1 2.1 0 1 0 4.2 0M184.4 241.6a2.1 2.1 0 1 0 -4.2 0a2.1 2.1 0 1 0 4.2 0M54.7 283.2a2.1 2.1 0 1 0 -4.2 0a2.1 2.1 0 1 0 4.2 0M61.9 248.9a2.1 2.1 0 1 0 -4.2 0a2.1 2.1 0 1 0 4.2 0M63.2 230.5a2.1 2.1 0 1 0 -4.2 0a2.1 2.1 0 1 0 4.2 0M70.7 235.4a2.1 2.1 0 1 0 -4.2 0a2.1 2.1 0 1 0 4.2 0M86.4 240.0a2.1 2.1 0 1 0 -4.2 0a2.1 2.1 0 1 0 4.2 0M102.9 233.4a2.1 2.1 0 1 0 -4.2 0a2.1 2.1 0 1 0 4.2 0M118.1 233.9a2.1 2.1 0 1 0 -4.2 0a2.1 2.1 0 1 0 4.2 0M149.7 236.1a2.1 2.1 0 1 0 -4.2 0a2.1 2.1 0 1 0 4.2 0M165.3 235.2a2.1 2.1 0 1 0 -4.2 0a2.1 2.1 0 1 0 4.2 0M176.7 234.6a2.1 2.1 0 1 0 -4.2 0a2.1 2.1 0 1 0 4.2 0M180.6 232.9a2.1 2.1 0 1 0 -4.2 0a2.1 2.1 0 1 0 4.2 0M184.4 234.8a2.1 2.1 0 1 0 -4.2 0a2.1 2.1 0 1 0 4.2 0M54.7 280.3a2.1 2.1 0 1 0 -4.2 0a2.1 2.1 0 1 0 4.2 0M61.9 253.5a2.1 2.1 0 1 0 -4.2 0a2.1 2.1 0 1 0 4.2 0M63.2 234.3a2.1 2.1 0 1 0 -4.2 0a2.1 2.1 0 1 0 4.2 0M70.7 241.5a2.1 2.1 0 1 0 -4.2 0a2.1 2.1 0 1 0 4.2 0M86.4 243.8a2.1 2.1 0 1 0 -4.2 0a2.1 2.1 0 1 0 4.2 0M102.9 242.4a2.1 2.1 0 1 0 -4.2 0a2.1 2.1 0 1 0 4.2 0M118.1 242.4a2.1 2.1 0 1 0 -4.2 0a2.1 2.1 0 1 0 4.2 0M149.7 241.8a2.1 2.1 0 1 0 -4.2 0a2.1 2.1 0 1 0 4.2 0M165.3 242.9a2.1 2.1 0 1 0 -4.2 0a2.1 2.1 0 1 0 4.2 0M176.7 243.7a2.1 2.1 0 1 0 -4.2 0a2.1 2.1 0 1 0 4.2 0M180.6 244.0a2.1 2.1 0 1 0 -4.2 0a2.1 2.1 0 1 0 4.2 0M184.4 244.9a2.1 2.1 0 1 0 -4.2 0a2.1 2.1 0 1 0 4.2 0M54.7 282.0a2.1 2.1 0 1 0 -4.2 0a2.1 2.1 0 1 0 4.2 0M61.9 264.6a2.1 2.1 0 1 0 -4.2 0a2.1 2.1 0 1 0 4.2 0M63.2 250.9a2.1 2.1 0 1 0 -4.2 0a2.1 2.1 0 1 0 4.2 0M70.7 244.7a2.1 2.1 0 1 0 -4.2 0a2.1 2.1 0 1 0 4.2 0M86.4 240.8a2.1 2.1 0 1 0 -4.2 0a2.1 2.1 0 1 0 4.2 0M102.9 240.3a2.1 2.1 0 1 0 -4.2 0a2.1 2.1 0 1 0 4.2 0M118.1 239.0a2.1 2.1 0 1 0 -4.2 0a2.1 2.1 0 1 0 4.2 0M149.7 245.2a2.1 2.1 0 1 0 -4.2 0a2.1 2.1 0 1 0 4.2 0M165.3 239.4a2.1 2.1 0 1 0 -4.2 0a2.1 2.1 0 1 0 4.2 0M176.7 244.5a2.1 2.1 0 1 0 -4.2 0a2.1 2.1 0 1 0 4.2 0M180.6 243.4a2.1 2.1 0 1 0 -4.2 0a2.1 2.1 0 1 0 4.2 0M184.4 242.9a2.1 2.1 0 1 0 -4.2 0a2.1 2.1 0 1 0 4.2 0M54.7 280.6a2.1 2.1 0 1 0 -4.2 0a2.1 2.1 0 1 0 4.2 0M61.9 257.2a2.1 2.1 0 1 0 -4.2 0a2.1 2.1 0 1 0 4.2 0M63.2 247.6a2.1 2.1 0 1 0 -4.2 0a2.1 2.1 0 1 0 4.2 0M70.7 241.6a2.1 2.1 0 1 0 -4.2 0a2.1 2.1 0 1 0 4.2 0M86.4 241.9a2.1 2.1 0 1 0 -4.2 0a2.1 2.1 0 1 0 4.2 0M102.9 243.9a2.1 2.1 0 1 0 -4.2 0a2.1 2.1 0 1 0 4.2 0M118.1 249.5a2.1 2.1 0 1 0 -4.2 0a2.1 2.1 0 1 0 4.2 0M149.7 249.3a2.1 2.1 0 1 0 -4.2 0a2.1 2.1 0 1 0 4.2 0M165.3 245.1a2.1 2.1 0 1 0 -4.2 0a2.1 2.1 0 1 0 4.2 0M176.7 251.2a2.1 2.1 0 1 0 -4.2 0a2.1 2.1 0 1 0 4.2 0M180.6 247.4a2.1 2.1 0 1 0 -4.2 0a2.1 2.1 0 1 0 4.2 0M184.4 245.8a2.1 2.1 0 1 0 -4.2 0a2.1 2.1 0 1 0 4.2 0M54.7 270.1a2.1 2.1 0 1 0 -4.2 0a2.1 2.1 0 1 0 4.2 0M61.9 260.4a2.1 2.1 0 1 0 -4.2 0a2.1 2.1 0 1 0 4.2 0M63.2 246.6a2.1 2.1 0 1 0 -4.2 0a2.1 2.1 0 1 0 4.2 0M70.7 247.3a2.1 2.1 0 1 0 -4.2 0a2.1 2.1 0 1 0 4.2 0M86.4 252.9a2.1 2.1 0 1 0 -4.2 0a2.1 2.1 0 1 0 4.2 0M102.9 253.5a2.1 2.1 0 1 0 -4.2 0a2.1 2.1 0 1 0 4.2 0M118.1 254.8a2.1 2.1 0 1 0 -4.2 0a2.1 2.1 0 1 0 4.2 0M149.7 256.9a2.1 2.1 0 1 0 -4.2 0a2.1 2.1 0 1 0 4.2 0M165.3 258.3a2.1 2.1 0 1 0 -4.2 0a2.1 2.1 0 1 0 4.2 0M176.7 257.1a2.1 2.1 0 1 0 -4.2 0a2.1 2.1 0 1 0 4.2 0M180.6 252.9a2.1 2.1 0 1 0 -4.2 0a2.1 2.1 0 1 0 4.2 0M184.4 251.6a2.1 2.1 0 1 0 -4.2 0a2.1 2.1 0 1 0 4.2 0M54.7 274.7a2.1 2.1 0 1 0 -4.2 0a2.1 2.1 0 1 0 4.2 0M61.9 256.8a2.1 2.1 0 1 0 -4.2 0a2.1 2.1 0 1 0 4.2 0M63.2 248.4a2.1 2.1 0 1 0 -4.2 0a2.1 2.1 0 1 0 4.2 0M70.7 256.9a2.1 2.1 0 1 0 -4.2 0a2.1 2.1 0 1 0 4.2 0M86.4 257.4a2.1 2.1 0 1 0 -4.2 0a2.1 2.1 0 1 0 4.2 0M102.9 260.2a2.1 2.1 0 1 0 -4.2 0a2.1 2.1 0 1 0 4.2 0M118.1 257.8a2.1 2.1 0 1 0 -4.2 0a2.1 2.1 0 1 0 4.2 0M149.7 257.8a2.1 2.1 0 1 0 -4.2 0a2.1 2.1 0 1 0 4.2 0M165.3 260.8a2.1 2.1 0 1 0 -4.2 0a2.1 2.1 0 1 0 4.2 0M176.7 258.3a2.1 2.1 0 1 0 -4.2 0a2.1 2.1 0 1 0 4.2 0M180.6 261.3a2.1 2.1 0 1 0 -4.2 0a2.1 2.1 0 1 0 4.2 0M184.4 259.3a2.1 2.1 0 1 0 -4.2 0a2.1 2.1 0 1 0 4.2 0M54.7 261.6a2.1 2.1 0 1 0 -4.2 0a2.1 2.1 0 1 0 4.2 0M61.9 256.5a2.1 2.1 0 1 0 -4.2 0a2.1 2.1 0 1 0 4.2 0M63.2 250.7a2.1 2.1 0 1 0 -4.2 0a2.1 2.1 0 1 0 4.2 0M70.7 253.3a2.1 2.1 0 1 0 -4.2 0a2.1 2.1 0 1 0 4.2 0M86.4 255.4a2.1 2.1 0 1 0 -4.2 0a2.1 2.1 0 1 0 4.2 0M102.9 258.0a2.1 2.1 0 1 0 -4.2 0a2.1 2.1 0 1 0 4.2 0M118.1 259.1a2.1 2.1 0 1 0 -4.2 0a2.1 2.1 0 1 0 4.2 0M149.7 259.5a2.1 2.1 0 1 0 -4.2 0a2.1 2.1 0 1 0 4.2 0M165.3 263.2a2.1 2.1 0 1 0 -4.2 0a2.1 2.1 0 1 0 4.2 0M176.7 258.8a2.1 2.1 0 1 0 -4.2 0a2.1 2.1 0 1 0 4.2 0M180.6 258.4a2.1 2.1 0 1 0 -4.2 0a2.1 2.1 0 1 0 4.2 0M184.4 258.5a2.1 2.1 0 1 0 -4.2 0a2.1 2.1 0 1 0 4.2 0M54.7 262.0a2.1 2.1 0 1 0 -4.2 0a2.1 2.1 0 1 0 4.2 0M61.9 256.2a2.1 2.1 0 1 0 -4.2 0a2.1 2.1 0 1 0 4.2 0M63.2 242.5a2.1 2.1 0 1 0 -4.2 0a2.1 2.1 0 1 0 4.2 0M70.7 259.2a2.1 2.1 0 1 0 -4.2 0a2.1 2.1 0 1 0 4.2 0M86.4 260.1a2.1 2.1 0 1 0 -4.2 0a2.1 2.1 0 1 0 4.2 0M102.9 255.9a2.1 2.1 0 1 0 -4.2 0a2.1 2.1 0 1 0 4.2 0M118.1 256.5a2.1 2.1 0 1 0 -4.2 0a2.1 2.1 0 1 0 4.2 0M149.7 257.6a2.1 2.1 0 1 0 -4.2 0a2.1 2.1 0 1 0 4.2 0M165.3 253.1a2.1 2.1 0 1 0 -4.2 0a2.1 2.1 0 1 0 4.2 0M176.7 256.6a2.1 2.1 0 1 0 -4.2 0a2.1 2.1 0 1 0 4.2 0M180.6 263.9a2.1 2.1 0 1 0 -4.2 0a2.1 2.1 0 1 0 4.2 0M184.4 259.8a2.1 2.1 0 1 0 -4.2 0a2.1 2.1 0 1 0 4.2 0M54.7 271.5a2.1 2.1 0 1 0 -4.2 0a2.1 2.1 0 1 0 4.2 0M61.9 264.7a2.1 2.1 0 1 0 -4.2 0a2.1 2.1 0 1 0 4.2 0M63.2 246.5a2.1 2.1 0 1 0 -4.2 0a2.1 2.1 0 1 0 4.2 0M70.7 251.4a2.1 2.1 0 1 0 -4.2 0a2.1 2.1 0 1 0 4.2 0M86.4 250.8a2.1 2.1 0 1 0 -4.2 0a2.1 2.1 0 1 0 4.2 0M102.9 250.9a2.1 2.1 0 1 0 -4.2 0a2.1 2.1 0 1 0 4.2 0M118.1 249.7a2.1 2.1 0 1 0 -4.2 0a2.1 2.1 0 1 0 4.2 0M149.7 252.8a2.1 2.1 0 1 0 -4.2 0a2.1 2.1 0 1 0 4.2 0M165.3 257.9a2.1 2.1 0 1 0 -4.2 0a2.1 2.1 0 1 0 4.2 0M176.7 256.4a2.1 2.1 0 1 0 -4.2 0a2.1 2.1 0 1 0 4.2 0M180.6 263.2a2.1 2.1 0 1 0 -4.2 0a2.1 2.1 0 1 0 4.2 0M184.4 261.2a2.1 2.1 0 1 0 -4.2 0a2.1 2.1 0 1 0 4.2 0M54.7 256.0a2.1 2.1 0 1 0 -4.2 0a2.1 2.1 0 1 0 4.2 0M61.9 244.1a2.1 2.1 0 1 0 -4.2 0a2.1 2.1 0 1 0 4.2 0M63.2 250.3a2.1 2.1 0 1 0 -4.2 0a2.1 2.1 0 1 0 4.2 0M70.7 245.4a2.1 2.1 0 1 0 -4.2 0a2.1 2.1 0 1 0 4.2 0M86.4 247.4a2.1 2.1 0 1 0 -4.2 0a2.1 2.1 0 1 0 4.2 0M102.9 245.0a2.1 2.1 0 1 0 -4.2 0a2.1 2.1 0 1 0 4.2 0M118.1 247.7a2.1 2.1 0 1 0 -4.2 0a2.1 2.1 0 1 0 4.2 0M149.7 244.9a2.1 2.1 0 1 0 -4.2 0a2.1 2.1 0 1 0 4.2 0M165.3 242.0a2.1 2.1 0 1 0 -4.2 0a2.1 2.1 0 1 0 4.2 0M176.7 251.2a2.1 2.1 0 1 0 -4.2 0a2.1 2.1 0 1 0 4.2 0M180.6 254.6a2.1 2.1 0 1 0 -4.2 0a2.1 2.1 0 1 0 4.2 0M184.4 255.1a2.1 2.1 0 1 0 -4.2 0a2.1 2.1 0 1 0 4.2 0M54.7 284.4a2.1 2.1 0 1 0 -4.2 0a2.1 2.1 0 1 0 4.2 0M61.9 269.1a2.1 2.1 0 1 0 -4.2 0a2.1 2.1 0 1 0 4.2 0M63.2 252.3a2.1 2.1 0 1 0 -4.2 0a2.1 2.1 0 1 0 4.2 0M70.7 251.9a2.1 2.1 0 1 0 -4.2 0a2.1 2.1 0 1 0 4.2 0M86.4 252.5a2.1 2.1 0 1 0 -4.2 0a2.1 2.1 0 1 0 4.2 0M102.9 248.6a2.1 2.1 0 1 0 -4.2 0a2.1 2.1 0 1 0 4.2 0M118.1 253.9a2.1 2.1 0 1 0 -4.2 0a2.1 2.1 0 1 0 4.2 0M149.7 252.3a2.1 2.1 0 1 0 -4.2 0a2.1 2.1 0 1 0 4.2 0M165.3 253.6a2.1 2.1 0 1 0 -4.2 0a2.1 2.1 0 1 0 4.2 0M176.7 250.8a2.1 2.1 0 1 0 -4.2 0a2.1 2.1 0 1 0 4.2 0M180.6 253.0a2.1 2.1 0 1 0 -4.2 0a2.1 2.1 0 1 0 4.2 0M184.4 247.8a2.1 2.1 0 1 0 -4.2 0a2.1 2.1 0 1 0 4.2 0M54.7 266.5a2.1 2.1 0 1 0 -4.2 0a2.1 2.1 0 1 0 4.2 0M61.9 256.5a2.1 2.1 0 1 0 -4.2 0a2.1 2.1 0 1 0 4.2 0M63.2 241.9a2.1 2.1 0 1 0 -4.2 0a2.1 2.1 0 1 0 4.2 0M70.7 243.9a2.1 2.1 0 1 0 -4.2 0a2.1 2.1 0 1 0 4.2 0M86.4 246.0a2.1 2.1 0 1 0 -4.2 0a2.1 2.1 0 1 0 4.2 0M102.9 245.1a2.1 2.1 0 1 0 -4.2 0a2.1 2.1 0 1 0 4.2 0M118.1 241.0a2.1 2.1 0 1 0 -4.2 0a2.1 2.1 0 1 0 4.2 0M149.7 238.7a2.1 2.1 0 1 0 -4.2 0a2.1 2.1 0 1 0 4.2 0M165.3 243.0a2.1 2.1 0 1 0 -4.2 0a2.1 2.1 0 1 0 4.2 0M176.7 244.8a2.1 2.1 0 1 0 -4.2 0a2.1 2.1 0 1 0 4.2 0M180.6 245.7a2.1 2.1 0 1 0 -4.2 0a2.1 2.1 0 1 0 4.2 0M184.4 247.8a2.1 2.1 0 1 0 -4.2 0a2.1 2.1 0 1 0 4.2 0M54.7 289.2a2.1 2.1 0 1 0 -4.2 0a2.1 2.1 0 1 0 4.2 0M61.9 264.6a2.1 2.1 0 1 0 -4.2 0a2.1 2.1 0 1 0 4.2 0M63.2 234.2a2.1 2.1 0 1 0 -4.2 0a2.1 2.1 0 1 0 4.2 0M70.7 234.9a2.1 2.1 0 1 0 -4.2 0a2.1 2.1 0 1 0 4.2 0M86.4 231.2a2.1 2.1 0 1 0 -4.2 0a2.1 2.1 0 1 0 4.2 0M102.9 232.0a2.1 2.1 0 1 0 -4.2 0a2.1 2.1 0 1 0 4.2 0M118.1 230.2a2.1 2.1 0 1 0 -4.2 0a2.1 2.1 0 1 0 4.2 0M149.7 230.6a2.1 2.1 0 1 0 -4.2 0a2.1 2.1 0 1 0 4.2 0M165.3 236.1a2.1 2.1 0 1 0 -4.2 0a2.1 2.1 0 1 0 4.2 0M176.7 235.5a2.1 2.1 0 1 0 -4.2 0a2.1 2.1 0 1 0 4.2 0M180.6 232.7a2.1 2.1 0 1 0 -4.2 0a2.1 2.1 0 1 0 4.2 0M184.4 234.1a2.1 2.1 0 1 0 -4.2 0a2.1 2.1 0 1 0 4.2 0M54.7 268.7a2.1 2.1 0 1 0 -4.2 0a2.1 2.1 0 1 0 4.2 0M61.9 249.4a2.1 2.1 0 1 0 -4.2 0a2.1 2.1 0 1 0 4.2 0M63.2 230.4a2.1 2.1 0 1 0 -4.2 0a2.1 2.1 0 1 0 4.2 0M70.7 237.9a2.1 2.1 0 1 0 -4.2 0a2.1 2.1 0 1 0 4.2 0M86.4 239.5a2.1 2.1 0 1 0 -4.2 0a2.1 2.1 0 1 0 4.2 0M102.9 236.2a2.1 2.1 0 1 0 -4.2 0a2.1 2.1 0 1 0 4.2 0M118.1 237.6a2.1 2.1 0 1 0 -4.2 0a2.1 2.1 0 1 0 4.2 0M149.7 239.3a2.1 2.1 0 1 0 -4.2 0a2.1 2.1 0 1 0 4.2 0M165.3 242.1a2.1 2.1 0 1 0 -4.2 0a2.1 2.1 0 1 0 4.2 0M176.7 237.8a2.1 2.1 0 1 0 -4.2 0a2.1 2.1 0 1 0 4.2 0M180.6 240.2a2.1 2.1 0 1 0 -4.2 0a2.1 2.1 0 1 0 4.2 0M184.4 243.3a2.1 2.1 0 1 0 -4.2 0a2.1 2.1 0 1 0 4.2 0M54.7 263.4a2.1 2.1 0 1 0 -4.2 0a2.1 2.1 0 1 0 4.2 0M61.9 248.3a2.1 2.1 0 1 0 -4.2 0a2.1 2.1 0 1 0 4.2 0M63.2 244.9a2.1 2.1 0 1 0 -4.2 0a2.1 2.1 0 1 0 4.2 0M70.7 233.1a2.1 2.1 0 1 0 -4.2 0a2.1 2.1 0 1 0 4.2 0M86.4 234.3a2.1 2.1 0 1 0 -4.2 0a2.1 2.1 0 1 0 4.2 0M102.9 232.0a2.1 2.1 0 1 0 -4.2 0a2.1 2.1 0 1 0 4.2 0M118.1 234.9a2.1 2.1 0 1 0 -4.2 0a2.1 2.1 0 1 0 4.2 0M149.7 229.7a2.1 2.1 0 1 0 -4.2 0a2.1 2.1 0 1 0 4.2 0M165.3 234.0a2.1 2.1 0 1 0 -4.2 0a2.1 2.1 0 1 0 4.2 0M176.7 234.5a2.1 2.1 0 1 0 -4.2 0a2.1 2.1 0 1 0 4.2 0M180.6 233.4a2.1 2.1 0 1 0 -4.2 0a2.1 2.1 0 1 0 4.2 0M184.4 233.0a2.1 2.1 0 1 0 -4.2 0a2.1 2.1 0 1 0 4.2 0M54.7 287.6a2.1 2.1 0 1 0 -4.2 0a2.1 2.1 0 1 0 4.2 0M61.9 261.7a2.1 2.1 0 1 0 -4.2 0a2.1 2.1 0 1 0 4.2 0M63.2 232.3a2.1 2.1 0 1 0 -4.2 0a2.1 2.1 0 1 0 4.2 0M70.7 230.7a2.1 2.1 0 1 0 -4.2 0a2.1 2.1 0 1 0 4.2 0M86.4 230.5a2.1 2.1 0 1 0 -4.2 0a2.1 2.1 0 1 0 4.2 0M102.9 232.3a2.1 2.1 0 1 0 -4.2 0a2.1 2.1 0 1 0 4.2 0M118.1 231.5a2.1 2.1 0 1 0 -4.2 0a2.1 2.1 0 1 0 4.2 0M149.7 233.5a2.1 2.1 0 1 0 -4.2 0a2.1 2.1 0 1 0 4.2 0M165.3 233.2a2.1 2.1 0 1 0 -4.2 0a2.1 2.1 0 1 0 4.2 0M176.7 238.3a2.1 2.1 0 1 0 -4.2 0a2.1 2.1 0 1 0 4.2 0M180.6 238.4a2.1 2.1 0 1 0 -4.2 0a2.1 2.1 0 1 0 4.2 0M184.4 245.6a2.1 2.1 0 1 0 -4.2 0a2.1 2.1 0 1 0 4.2 0M54.7 276.2a2.1 2.1 0 1 0 -4.2 0a2.1 2.1 0 1 0 4.2 0M61.9 265.7a2.1 2.1 0 1 0 -4.2 0a2.1 2.1 0 1 0 4.2 0M63.2 245.6a2.1 2.1 0 1 0 -4.2 0a2.1 2.1 0 1 0 4.2 0M70.7 237.5a2.1 2.1 0 1 0 -4.2 0a2.1 2.1 0 1 0 4.2 0M86.4 239.0a2.1 2.1 0 1 0 -4.2 0a2.1 2.1 0 1 0 4.2 0M102.9 241.9a2.1 2.1 0 1 0 -4.2 0a2.1 2.1 0 1 0 4.2 0M118.1 242.4a2.1 2.1 0 1 0 -4.2 0a2.1 2.1 0 1 0 4.2 0M149.7 237.5a2.1 2.1 0 1 0 -4.2 0a2.1 2.1 0 1 0 4.2 0M165.3 238.0a2.1 2.1 0 1 0 -4.2 0a2.1 2.1 0 1 0 4.2 0M176.7 238.1a2.1 2.1 0 1 0 -4.2 0a2.1 2.1 0 1 0 4.2 0M180.6 238.1a2.1 2.1 0 1 0 -4.2 0a2.1 2.1 0 1 0 4.2 0M184.4 240.4a2.1 2.1 0 1 0 -4.2 0a2.1 2.1 0 1 0 4.2 0M54.7 261.7a2.1 2.1 0 1 0 -4.2 0a2.1 2.1 0 1 0 4.2 0M61.9 251.3a2.1 2.1 0 1 0 -4.2 0a2.1 2.1 0 1 0 4.2 0M63.2 250.1a2.1 2.1 0 1 0 -4.2 0a2.1 2.1 0 1 0 4.2 0M70.7 247.1a2.1 2.1 0 1 0 -4.2 0a2.1 2.1 0 1 0 4.2 0M86.4 249.6a2.1 2.1 0 1 0 -4.2 0a2.1 2.1 0 1 0 4.2 0M102.9 246.0a2.1 2.1 0 1 0 -4.2 0a2.1 2.1 0 1 0 4.2 0M118.1 248.3a2.1 2.1 0 1 0 -4.2 0a2.1 2.1 0 1 0 4.2 0M149.7 242.0a2.1 2.1 0 1 0 -4.2 0a2.1 2.1 0 1 0 4.2 0M165.3 247.1a2.1 2.1 0 1 0 -4.2 0a2.1 2.1 0 1 0 4.2 0M176.7 252.4a2.1 2.1 0 1 0 -4.2 0a2.1 2.1 0 1 0 4.2 0M180.6 253.3a2.1 2.1 0 1 0 -4.2 0a2.1 2.1 0 1 0 4.2 0M184.4 257.3a2.1 2.1 0 1 0 -4.2 0a2.1 2.1 0 1 0 4.2 0M54.7 267.6a2.1 2.1 0 1 0 -4.2 0a2.1 2.1 0 1 0 4.2 0M61.9 258.0a2.1 2.1 0 1 0 -4.2 0a2.1 2.1 0 1 0 4.2 0M63.2 247.3a2.1 2.1 0 1 0 -4.2 0a2.1 2.1 0 1 0 4.2 0M70.7 253.2a2.1 2.1 0 1 0 -4.2 0a2.1 2.1 0 1 0 4.2 0M86.4 255.4a2.1 2.1 0 1 0 -4.2 0a2.1 2.1 0 1 0 4.2 0M102.9 251.4a2.1 2.1 0 1 0 -4.2 0a2.1 2.1 0 1 0 4.2 0M118.1 256.3a2.1 2.1 0 1 0 -4.2 0a2.1 2.1 0 1 0 4.2 0M149.7 257.3a2.1 2.1 0 1 0 -4.2 0a2.1 2.1 0 1 0 4.2 0M165.3 258.0a2.1 2.1 0 1 0 -4.2 0a2.1 2.1 0 1 0 4.2 0M176.7 258.4a2.1 2.1 0 1 0 -4.2 0a2.1 2.1 0 1 0 4.2 0M180.6 260.4a2.1 2.1 0 1 0 -4.2 0a2.1 2.1 0 1 0 4.2 0M184.4 260.2a2.1 2.1 0 1 0 -4.2 0a2.1 2.1 0 1 0 4.2 0M54.7 282.6a2.1 2.1 0 1 0 -4.2 0a2.1 2.1 0 1 0 4.2 0M61.9 272.1a2.1 2.1 0 1 0 -4.2 0a2.1 2.1 0 1 0 4.2 0M63.2 230.8a2.1 2.1 0 1 0 -4.2 0a2.1 2.1 0 1 0 4.2 0M70.7 231.1a2.1 2.1 0 1 0 -4.2 0a2.1 2.1 0 1 0 4.2 0M86.4 231.6a2.1 2.1 0 1 0 -4.2 0a2.1 2.1 0 1 0 4.2 0M102.9 230.9a2.1 2.1 0 1 0 -4.2 0a2.1 2.1 0 1 0 4.2 0M118.1 234.4a2.1 2.1 0 1 0 -4.2 0a2.1 2.1 0 1 0 4.2 0M149.7 231.6a2.1 2.1 0 1 0 -4.2 0a2.1 2.1 0 1 0 4.2 0M165.3 235.7a2.1 2.1 0 1 0 -4.2 0a2.1 2.1 0 1 0 4.2 0M176.7 234.6a2.1 2.1 0 1 0 -4.2 0a2.1 2.1 0 1 0 4.2 0M180.6 236.5a2.1 2.1 0 1 0 -4.2 0a2.1 2.1 0 1 0 4.2 0M184.4 235.6a2.1 2.1 0 1 0 -4.2 0a2.1 2.1 0 1 0 4.2 0M54.7 277.9a2.1 2.1 0 1 0 -4.2 0a2.1 2.1 0 1 0 4.2 0M61.9 247.2a2.1 2.1 0 1 0 -4.2 0a2.1 2.1 0 1 0 4.2 0M63.2 251.5a2.1 2.1 0 1 0 -4.2 0a2.1 2.1 0 1 0 4.2 0M70.7 240.3a2.1 2.1 0 1 0 -4.2 0a2.1 2.1 0 1 0 4.2 0M86.4 243.4a2.1 2.1 0 1 0 -4.2 0a2.1 2.1 0 1 0 4.2 0M102.9 243.4a2.1 2.1 0 1 0 -4.2 0a2.1 2.1 0 1 0 4.2 0M118.1 241.9a2.1 2.1 0 1 0 -4.2 0a2.1 2.1 0 1 0 4.2 0M149.7 245.0a2.1 2.1 0 1 0 -4.2 0a2.1 2.1 0 1 0 4.2 0M165.3 244.9a2.1 2.1 0 1 0 -4.2 0a2.1 2.1 0 1 0 4.2 0M176.7 244.6a2.1 2.1 0 1 0 -4.2 0a2.1 2.1 0 1 0 4.2 0M180.6 247.8a2.1 2.1 0 1 0 -4.2 0a2.1 2.1 0 1 0 4.2 0M184.4 247.3a2.1 2.1 0 1 0 -4.2 0a2.1 2.1 0 1 0 4.2 0M54.7 278.0a2.1 2.1 0 1 0 -4.2 0a2.1 2.1 0 1 0 4.2 0M61.9 274.1a2.1 2.1 0 1 0 -4.2 0a2.1 2.1 0 1 0 4.2 0M63.2 244.0a2.1 2.1 0 1 0 -4.2 0a2.1 2.1 0 1 0 4.2 0M70.7 248.8a2.1 2.1 0 1 0 -4.2 0a2.1 2.1 0 1 0 4.2 0M86.4 248.1a2.1 2.1 0 1 0 -4.2 0a2.1 2.1 0 1 0 4.2 0M102.9 247.3a2.1 2.1 0 1 0 -4.2 0a2.1 2.1 0 1 0 4.2 0M118.1 246.5a2.1 2.1 0 1 0 -4.2 0a2.1 2.1 0 1 0 4.2 0M149.7 250.5a2.1 2.1 0 1 0 -4.2 0a2.1 2.1 0 1 0 4.2 0M165.3 250.5a2.1 2.1 0 1 0 -4.2 0a2.1 2.1 0 1 0 4.2 0M176.7 252.1a2.1 2.1 0 1 0 -4.2 0a2.1 2.1 0 1 0 4.2 0M180.6 252.3a2.1 2.1 0 1 0 -4.2 0a2.1 2.1 0 1 0 4.2 0M184.4 253.3a2.1 2.1 0 1 0 -4.2 0a2.1 2.1 0 1 0 4.2 0M54.7 265.3a2.1 2.1 0 1 0 -4.2 0a2.1 2.1 0 1 0 4.2 0M61.9 260.4a2.1 2.1 0 1 0 -4.2 0a2.1 2.1 0 1 0 4.2 0M63.2 230.5a2.1 2.1 0 1 0 -4.2 0a2.1 2.1 0 1 0 4.2 0M70.7 242.9a2.1 2.1 0 1 0 -4.2 0a2.1 2.1 0 1 0 4.2 0M86.4 240.6a2.1 2.1 0 1 0 -4.2 0a2.1 2.1 0 1 0 4.2 0M102.9 245.5a2.1 2.1 0 1 0 -4.2 0a2.1 2.1 0 1 0 4.2 0M118.1 244.0a2.1 2.1 0 1 0 -4.2 0a2.1 2.1 0 1 0 4.2 0M149.7 247.1a2.1 2.1 0 1 0 -4.2 0a2.1 2.1 0 1 0 4.2 0M165.3 248.2a2.1 2.1 0 1 0 -4.2 0a2.1 2.1 0 1 0 4.2 0M176.7 246.2a2.1 2.1 0 1 0 -4.2 0a2.1 2.1 0 1 0 4.2 0M180.6 245.3a2.1 2.1 0 1 0 -4.2 0a2.1 2.1 0 1 0 4.2 0M184.4 246.0a2.1 2.1 0 1 0 -4.2 0a2.1 2.1 0 1 0 4.2 0M54.7 287.2a2.1 2.1 0 1 0 -4.2 0a2.1 2.1 0 1 0 4.2 0M61.9 264.6a2.1 2.1 0 1 0 -4.2 0a2.1 2.1 0 1 0 4.2 0M63.2 257.5a2.1 2.1 0 1 0 -4.2 0a2.1 2.1 0 1 0 4.2 0M70.7 254.7a2.1 2.1 0 1 0 -4.2 0a2.1 2.1 0 1 0 4.2 0M86.4 252.5a2.1 2.1 0 1 0 -4.2 0a2.1 2.1 0 1 0 4.2 0M102.9 255.2a2.1 2.1 0 1 0 -4.2 0a2.1 2.1 0 1 0 4.2 0M118.1 254.4a2.1 2.1 0 1 0 -4.2 0a2.1 2.1 0 1 0 4.2 0M149.7 257.7a2.1 2.1 0 1 0 -4.2 0a2.1 2.1 0 1 0 4.2 0M165.3 257.5a2.1 2.1 0 1 0 -4.2 0a2.1 2.1 0 1 0 4.2 0M176.7 257.6a2.1 2.1 0 1 0 -4.2 0a2.1 2.1 0 1 0 4.2 0M180.6 252.5a2.1 2.1 0 1 0 -4.2 0a2.1 2.1 0 1 0 4.2 0M184.4 254.0a2.1 2.1 0 1 0 -4.2 0a2.1 2.1 0 1 0 4.2 0M54.7 268.0a2.1 2.1 0 1 0 -4.2 0a2.1 2.1 0 1 0 4.2 0M61.9 246.9a2.1 2.1 0 1 0 -4.2 0a2.1 2.1 0 1 0 4.2 0M63.2 234.9a2.1 2.1 0 1 0 -4.2 0a2.1 2.1 0 1 0 4.2 0M70.7 231.1a2.1 2.1 0 1 0 -4.2 0a2.1 2.1 0 1 0 4.2 0M86.4 232.0a2.1 2.1 0 1 0 -4.2 0a2.1 2.1 0 1 0 4.2 0M102.9 233.9a2.1 2.1 0 1 0 -4.2 0a2.1 2.1 0 1 0 4.2 0M118.1 229.8a2.1 2.1 0 1 0 -4.2 0a2.1 2.1 0 1 0 4.2 0M149.7 233.6a2.1 2.1 0 1 0 -4.2 0a2.1 2.1 0 1 0 4.2 0M165.3 233.9a2.1 2.1 0 1 0 -4.2 0a2.1 2.1 0 1 0 4.2 0M176.7 234.7a2.1 2.1 0 1 0 -4.2 0a2.1 2.1 0 1 0 4.2 0M180.6 233.7a2.1 2.1 0 1 0 -4.2 0a2.1 2.1 0 1 0 4.2 0M184.4 233.7a2.1 2.1 0 1 0 -4.2 0a2.1 2.1 0 1 0 4.2 0M54.7 261.8a2.1 2.1 0 1 0 -4.2 0a2.1 2.1 0 1 0 4.2 0M61.9 255.4a2.1 2.1 0 1 0 -4.2 0a2.1 2.1 0 1 0 4.2 0M63.2 243.9a2.1 2.1 0 1 0 -4.2 0a2.1 2.1 0 1 0 4.2 0M70.7 242.5a2.1 2.1 0 1 0 -4.2 0a2.1 2.1 0 1 0 4.2 0M86.4 237.8a2.1 2.1 0 1 0 -4.2 0a2.1 2.1 0 1 0 4.2 0M102.9 237.1a2.1 2.1 0 1 0 -4.2 0a2.1 2.1 0 1 0 4.2 0M118.1 242.9a2.1 2.1 0 1 0 -4.2 0a2.1 2.1 0 1 0 4.2 0M149.7 244.6a2.1 2.1 0 1 0 -4.2 0a2.1 2.1 0 1 0 4.2 0M165.3 243.6a2.1 2.1 0 1 0 -4.2 0a2.1 2.1 0 1 0 4.2 0M176.7 244.9a2.1 2.1 0 1 0 -4.2 0a2.1 2.1 0 1 0 4.2 0M180.6 241.7a2.1 2.1 0 1 0 -4.2 0a2.1 2.1 0 1 0 4.2 0M184.4 242.0a2.1 2.1 0 1 0 -4.2 0a2.1 2.1 0 1 0 4.2 0M54.7 282.3a2.1 2.1 0 1 0 -4.2 0a2.1 2.1 0 1 0 4.2 0M61.9 269.2a2.1 2.1 0 1 0 -4.2 0a2.1 2.1 0 1 0 4.2 0M63.2 250.4a2.1 2.1 0 1 0 -4.2 0a2.1 2.1 0 1 0 4.2 0M70.7 242.7a2.1 2.1 0 1 0 -4.2 0a2.1 2.1 0 1 0 4.2 0M86.4 238.7a2.1 2.1 0 1 0 -4.2 0a2.1 2.1 0 1 0 4.2 0M102.9 237.7a2.1 2.1 0 1 0 -4.2 0a2.1 2.1 0 1 0 4.2 0M118.1 237.8a2.1 2.1 0 1 0 -4.2 0a2.1 2.1 0 1 0 4.2 0M149.7 241.9a2.1 2.1 0 1 0 -4.2 0a2.1 2.1 0 1 0 4.2 0M165.3 240.7a2.1 2.1 0 1 0 -4.2 0a2.1 2.1 0 1 0 4.2 0M176.7 241.8a2.1 2.1 0 1 0 -4.2 0a2.1 2.1 0 1 0 4.2 0M180.6 242.8a2.1 2.1 0 1 0 -4.2 0a2.1 2.1 0 1 0 4.2 0M184.4 244.8a2.1 2.1 0 1 0 -4.2 0a2.1 2.1 0 1 0 4.2 0M54.7 283.2a2.1 2.1 0 1 0 -4.2 0a2.1 2.1 0 1 0 4.2 0M61.9 262.0a2.1 2.1 0 1 0 -4.2 0a2.1 2.1 0 1 0 4.2 0M63.2 240.9a2.1 2.1 0 1 0 -4.2 0a2.1 2.1 0 1 0 4.2 0M70.7 236.1a2.1 2.1 0 1 0 -4.2 0a2.1 2.1 0 1 0 4.2 0M86.4 232.7a2.1 2.1 0 1 0 -4.2 0a2.1 2.1 0 1 0 4.2 0M102.9 231.3a2.1 2.1 0 1 0 -4.2 0a2.1 2.1 0 1 0 4.2 0M118.1 230.0a2.1 2.1 0 1 0 -4.2 0a2.1 2.1 0 1 0 4.2 0M149.7 234.7a2.1 2.1 0 1 0 -4.2 0a2.1 2.1 0 1 0 4.2 0M165.3 234.5a2.1 2.1 0 1 0 -4.2 0a2.1 2.1 0 1 0 4.2 0M176.7 235.0a2.1 2.1 0 1 0 -4.2 0a2.1 2.1 0 1 0 4.2 0M180.6 236.3a2.1 2.1 0 1 0 -4.2 0a2.1 2.1 0 1 0 4.2 0M184.4 235.2a2.1 2.1 0 1 0 -4.2 0a2.1 2.1 0 1 0 4.2 0M54.7 270.7a2.1 2.1 0 1 0 -4.2 0a2.1 2.1 0 1 0 4.2 0M61.9 276.8a2.1 2.1 0 1 0 -4.2 0a2.1 2.1 0 1 0 4.2 0M63.2 255.5a2.1 2.1 0 1 0 -4.2 0a2.1 2.1 0 1 0 4.2 0M70.7 248.0a2.1 2.1 0 1 0 -4.2 0a2.1 2.1 0 1 0 4.2 0M86.4 248.4a2.1 2.1 0 1 0 -4.2 0a2.1 2.1 0 1 0 4.2 0M102.9 245.7a2.1 2.1 0 1 0 -4.2 0a2.1 2.1 0 1 0 4.2 0M118.1 250.9a2.1 2.1 0 1 0 -4.2 0a2.1 2.1 0 1 0 4.2 0M149.7 249.6a2.1 2.1 0 1 0 -4.2 0a2.1 2.1 0 1 0 4.2 0M165.3 253.7a2.1 2.1 0 1 0 -4.2 0a2.1 2.1 0 1 0 4.2 0M176.7 255.4a2.1 2.1 0 1 0 -4.2 0a2.1 2.1 0 1 0 4.2 0M180.6 251.6a2.1 2.1 0 1 0 -4.2 0a2.1 2.1 0 1 0 4.2 0M184.4 248.9a2.1 2.1 0 1 0 -4.2 0a2.1 2.1 0 1 0 4.2 0M54.7 255.8a2.1 2.1 0 1 0 -4.2 0a2.1 2.1 0 1 0 4.2 0M61.9 256.2a2.1 2.1 0 1 0 -4.2 0a2.1 2.1 0 1 0 4.2 0M63.2 243.6a2.1 2.1 0 1 0 -4.2 0a2.1 2.1 0 1 0 4.2 0M70.7 243.4a2.1 2.1 0 1 0 -4.2 0a2.1 2.1 0 1 0 4.2 0M86.4 243.4a2.1 2.1 0 1 0 -4.2 0a2.1 2.1 0 1 0 4.2 0M102.9 241.0a2.1 2.1 0 1 0 -4.2 0a2.1 2.1 0 1 0 4.2 0M118.1 240.9a2.1 2.1 0 1 0 -4.2 0a2.1 2.1 0 1 0 4.2 0M149.7 239.2a2.1 2.1 0 1 0 -4.2 0a2.1 2.1 0 1 0 4.2 0M165.3 236.1a2.1 2.1 0 1 0 -4.2 0a2.1 2.1 0 1 0 4.2 0M176.7 241.3a2.1 2.1 0 1 0 -4.2 0a2.1 2.1 0 1 0 4.2 0M180.6 239.5a2.1 2.1 0 1 0 -4.2 0a2.1 2.1 0 1 0 4.2 0M184.4 241.4a2.1 2.1 0 1 0 -4.2 0a2.1 2.1 0 1 0 4.2 0M54.7 284.9a2.1 2.1 0 1 0 -4.2 0a2.1 2.1 0 1 0 4.2 0M61.9 262.2a2.1 2.1 0 1 0 -4.2 0a2.1 2.1 0 1 0 4.2 0M63.2 235.0a2.1 2.1 0 1 0 -4.2 0a2.1 2.1 0 1 0 4.2 0M70.7 232.9a2.1 2.1 0 1 0 -4.2 0a2.1 2.1 0 1 0 4.2 0M86.4 231.0a2.1 2.1 0 1 0 -4.2 0a2.1 2.1 0 1 0 4.2 0M102.9 231.7a2.1 2.1 0 1 0 -4.2 0a2.1 2.1 0 1 0 4.2 0M118.1 231.5a2.1 2.1 0 1 0 -4.2 0a2.1 2.1 0 1 0 4.2 0M149.7 230.7a2.1 2.1 0 1 0 -4.2 0a2.1 2.1 0 1 0 4.2 0M165.3 233.4a2.1 2.1 0 1 0 -4.2 0a2.1 2.1 0 1 0 4.2 0M176.7 234.9a2.1 2.1 0 1 0 -4.2 0a2.1 2.1 0 1 0 4.2 0M180.6 236.1a2.1 2.1 0 1 0 -4.2 0a2.1 2.1 0 1 0 4.2 0M184.4 237.4a2.1 2.1 0 1 0 -4.2 0a2.1 2.1 0 1 0 4.2 0M54.7 274.0a2.1 2.1 0 1 0 -4.2 0a2.1 2.1 0 1 0 4.2 0M61.9 256.2a2.1 2.1 0 1 0 -4.2 0a2.1 2.1 0 1 0 4.2 0M63.2 242.1a2.1 2.1 0 1 0 -4.2 0a2.1 2.1 0 1 0 4.2 0M70.7 239.2a2.1 2.1 0 1 0 -4.2 0a2.1 2.1 0 1 0 4.2 0M86.4 234.3a2.1 2.1 0 1 0 -4.2 0a2.1 2.1 0 1 0 4.2 0M102.9 239.7a2.1 2.1 0 1 0 -4.2 0a2.1 2.1 0 1 0 4.2 0M118.1 242.3a2.1 2.1 0 1 0 -4.2 0a2.1 2.1 0 1 0 4.2 0M149.7 245.4a2.1 2.1 0 1 0 -4.2 0a2.1 2.1 0 1 0 4.2 0M165.3 242.4a2.1 2.1 0 1 0 -4.2 0a2.1 2.1 0 1 0 4.2 0M176.7 241.9a2.1 2.1 0 1 0 -4.2 0a2.1 2.1 0 1 0 4.2 0M180.6 245.8a2.1 2.1 0 1 0 -4.2 0a2.1 2.1 0 1 0 4.2 0M184.4 241.4a2.1 2.1 0 1 0 -4.2 0a2.1 2.1 0 1 0 4.2 0M54.7 255.6a2.1 2.1 0 1 0 -4.2 0a2.1 2.1 0 1 0 4.2 0M61.9 237.6a2.1 2.1 0 1 0 -4.2 0a2.1 2.1 0 1 0 4.2 0M63.2 265.3a2.1 2.1 0 1 0 -4.2 0a2.1 2.1 0 1 0 4.2 0M70.7 258.3a2.1 2.1 0 1 0 -4.2 0a2.1 2.1 0 1 0 4.2 0M86.4 255.0a2.1 2.1 0 1 0 -4.2 0a2.1 2.1 0 1 0 4.2 0M102.9 252.7a2.1 2.1 0 1 0 -4.2 0a2.1 2.1 0 1 0 4.2 0M118.1 260.4a2.1 2.1 0 1 0 -4.2 0a2.1 2.1 0 1 0 4.2 0M149.7 263.8a2.1 2.1 0 1 0 -4.2 0a2.1 2.1 0 1 0 4.2 0M165.3 262.8a2.1 2.1 0 1 0 -4.2 0a2.1 2.1 0 1 0 4.2 0M176.7 272.8a2.1 2.1 0 1 0 -4.2 0a2.1 2.1 0 1 0 4.2 0M180.6 269.4a2.1 2.1 0 1 0 -4.2 0a2.1 2.1 0 1 0 4.2 0M184.4 268.7a2.1 2.1 0 1 0 -4.2 0a2.1 2.1 0 1 0 4.2 0M54.7 264.6a2.1 2.1 0 1 0 -4.2 0a2.1 2.1 0 1 0 4.2 0M61.9 253.0a2.1 2.1 0 1 0 -4.2 0a2.1 2.1 0 1 0 4.2 0M63.2 231.7a2.1 2.1 0 1 0 -4.2 0a2.1 2.1 0 1 0 4.2 0M70.7 250.3a2.1 2.1 0 1 0 -4.2 0a2.1 2.1 0 1 0 4.2 0M86.4 248.5a2.1 2.1 0 1 0 -4.2 0a2.1 2.1 0 1 0 4.2 0M102.9 243.2a2.1 2.1 0 1 0 -4.2 0a2.1 2.1 0 1 0 4.2 0M118.1 245.5a2.1 2.1 0 1 0 -4.2 0a2.1 2.1 0 1 0 4.2 0M149.7 251.6a2.1 2.1 0 1 0 -4.2 0a2.1 2.1 0 1 0 4.2 0M165.3 249.4a2.1 2.1 0 1 0 -4.2 0a2.1 2.1 0 1 0 4.2 0M176.7 253.1a2.1 2.1 0 1 0 -4.2 0a2.1 2.1 0 1 0 4.2 0M180.6 251.3a2.1 2.1 0 1 0 -4.2 0a2.1 2.1 0 1 0 4.2 0M184.4 251.2a2.1 2.1 0 1 0 -4.2 0a2.1 2.1 0 1 0 4.2 0M54.7 255.1a2.1 2.1 0 1 0 -4.2 0a2.1 2.1 0 1 0 4.2 0M61.9 258.8a2.1 2.1 0 1 0 -4.2 0a2.1 2.1 0 1 0 4.2 0M63.2 244.8a2.1 2.1 0 1 0 -4.2 0a2.1 2.1 0 1 0 4.2 0M70.7 240.6a2.1 2.1 0 1 0 -4.2 0a2.1 2.1 0 1 0 4.2 0M86.4 238.3a2.1 2.1 0 1 0 -4.2 0a2.1 2.1 0 1 0 4.2 0M102.9 241.4a2.1 2.1 0 1 0 -4.2 0a2.1 2.1 0 1 0 4.2 0M118.1 245.5a2.1 2.1 0 1 0 -4.2 0a2.1 2.1 0 1 0 4.2 0M149.7 244.5a2.1 2.1 0 1 0 -4.2 0a2.1 2.1 0 1 0 4.2 0M165.3 247.6a2.1 2.1 0 1 0 -4.2 0a2.1 2.1 0 1 0 4.2 0M176.7 251.7a2.1 2.1 0 1 0 -4.2 0a2.1 2.1 0 1 0 4.2 0M180.6 250.9a2.1 2.1 0 1 0 -4.2 0a2.1 2.1 0 1 0 4.2 0M184.4 254.8a2.1 2.1 0 1 0 -4.2 0a2.1 2.1 0 1 0 4.2 0M54.7 270.4a2.1 2.1 0 1 0 -4.2 0a2.1 2.1 0 1 0 4.2 0M61.9 262.8a2.1 2.1 0 1 0 -4.2 0a2.1 2.1 0 1 0 4.2 0M63.2 253.3a2.1 2.1 0 1 0 -4.2 0a2.1 2.1 0 1 0 4.2 0M70.7 246.3a2.1 2.1 0 1 0 -4.2 0a2.1 2.1 0 1 0 4.2 0M86.4 249.9a2.1 2.1 0 1 0 -4.2 0a2.1 2.1 0 1 0 4.2 0M102.9 250.4a2.1 2.1 0 1 0 -4.2 0a2.1 2.1 0 1 0 4.2 0M118.1 249.4a2.1 2.1 0 1 0 -4.2 0a2.1 2.1 0 1 0 4.2 0M149.7 251.1a2.1 2.1 0 1 0 -4.2 0a2.1 2.1 0 1 0 4.2 0M165.3 247.9a2.1 2.1 0 1 0 -4.2 0a2.1 2.1 0 1 0 4.2 0M176.7 256.3a2.1 2.1 0 1 0 -4.2 0a2.1 2.1 0 1 0 4.2 0M180.6 255.7a2.1 2.1 0 1 0 -4.2 0a2.1 2.1 0 1 0 4.2 0M184.4 256.2a2.1 2.1 0 1 0 -4.2 0a2.1 2.1 0 1 0 4.2 0M54.7 281.5a2.1 2.1 0 1 0 -4.2 0a2.1 2.1 0 1 0 4.2 0M61.9 256.0a2.1 2.1 0 1 0 -4.2 0a2.1 2.1 0 1 0 4.2 0M63.2 251.8a2.1 2.1 0 1 0 -4.2 0a2.1 2.1 0 1 0 4.2 0M70.7 247.5a2.1 2.1 0 1 0 -4.2 0a2.1 2.1 0 1 0 4.2 0M86.4 248.7a2.1 2.1 0 1 0 -4.2 0a2.1 2.1 0 1 0 4.2 0M102.9 246.2a2.1 2.1 0 1 0 -4.2 0a2.1 2.1 0 1 0 4.2 0M118.1 248.0a2.1 2.1 0 1 0 -4.2 0a2.1 2.1 0 1 0 4.2 0M149.7 250.3a2.1 2.1 0 1 0 -4.2 0a2.1 2.1 0 1 0 4.2 0M165.3 253.3a2.1 2.1 0 1 0 -4.2 0a2.1 2.1 0 1 0 4.2 0M176.7 252.0a2.1 2.1 0 1 0 -4.2 0a2.1 2.1 0 1 0 4.2 0M180.6 245.1a2.1 2.1 0 1 0 -4.2 0a2.1 2.1 0 1 0 4.2 0M184.4 248.9a2.1 2.1 0 1 0 -4.2 0a2.1 2.1 0 1 0 4.2 0M54.7 285.3a2.1 2.1 0 1 0 -4.2 0a2.1 2.1 0 1 0 4.2 0M61.9 264.2a2.1 2.1 0 1 0 -4.2 0a2.1 2.1 0 1 0 4.2 0M63.2 234.8a2.1 2.1 0 1 0 -4.2 0a2.1 2.1 0 1 0 4.2 0M70.7 235.3a2.1 2.1 0 1 0 -4.2 0a2.1 2.1 0 1 0 4.2 0M86.4 234.1a2.1 2.1 0 1 0 -4.2 0a2.1 2.1 0 1 0 4.2 0M102.9 236.7a2.1 2.1 0 1 0 -4.2 0a2.1 2.1 0 1 0 4.2 0M118.1 236.0a2.1 2.1 0 1 0 -4.2 0a2.1 2.1 0 1 0 4.2 0M149.7 234.8a2.1 2.1 0 1 0 -4.2 0a2.1 2.1 0 1 0 4.2 0M165.3 235.7a2.1 2.1 0 1 0 -4.2 0a2.1 2.1 0 1 0 4.2 0M176.7 238.5a2.1 2.1 0 1 0 -4.2 0a2.1 2.1 0 1 0 4.2 0M180.6 236.4a2.1 2.1 0 1 0 -4.2 0a2.1 2.1 0 1 0 4.2 0M184.4 237.1a2.1 2.1 0 1 0 -4.2 0a2.1 2.1 0 1 0 4.2 0M54.7 288.6a2.1 2.1 0 1 0 -4.2 0a2.1 2.1 0 1 0 4.2 0M61.9 254.9a2.1 2.1 0 1 0 -4.2 0a2.1 2.1 0 1 0 4.2 0M63.2 244.5a2.1 2.1 0 1 0 -4.2 0a2.1 2.1 0 1 0 4.2 0M70.7 235.1a2.1 2.1 0 1 0 -4.2 0a2.1 2.1 0 1 0 4.2 0M86.4 235.3a2.1 2.1 0 1 0 -4.2 0a2.1 2.1 0 1 0 4.2 0M102.9 236.8a2.1 2.1 0 1 0 -4.2 0a2.1 2.1 0 1 0 4.2 0M118.1 236.0a2.1 2.1 0 1 0 -4.2 0a2.1 2.1 0 1 0 4.2 0M149.7 240.6a2.1 2.1 0 1 0 -4.2 0a2.1 2.1 0 1 0 4.2 0M165.3 235.8a2.1 2.1 0 1 0 -4.2 0a2.1 2.1 0 1 0 4.2 0M176.7 243.9a2.1 2.1 0 1 0 -4.2 0a2.1 2.1 0 1 0 4.2 0M180.6 241.5a2.1 2.1 0 1 0 -4.2 0a2.1 2.1 0 1 0 4.2 0M184.4 239.2a2.1 2.1 0 1 0 -4.2 0a2.1 2.1 0 1 0 4.2 0M54.7 287.1a2.1 2.1 0 1 0 -4.2 0a2.1 2.1 0 1 0 4.2 0M61.9 271.9a2.1 2.1 0 1 0 -4.2 0a2.1 2.1 0 1 0 4.2 0M63.2 258.0a2.1 2.1 0 1 0 -4.2 0a2.1 2.1 0 1 0 4.2 0M70.7 256.2a2.1 2.1 0 1 0 -4.2 0a2.1 2.1 0 1 0 4.2 0M86.4 257.4a2.1 2.1 0 1 0 -4.2 0a2.1 2.1 0 1 0 4.2 0M102.9 252.8a2.1 2.1 0 1 0 -4.2 0a2.1 2.1 0 1 0 4.2 0M118.1 252.1a2.1 2.1 0 1 0 -4.2 0a2.1 2.1 0 1 0 4.2 0M149.7 258.1a2.1 2.1 0 1 0 -4.2 0a2.1 2.1 0 1 0 4.2 0M165.3 257.6a2.1 2.1 0 1 0 -4.2 0a2.1 2.1 0 1 0 4.2 0M176.7 265.7a2.1 2.1 0 1 0 -4.2 0a2.1 2.1 0 1 0 4.2 0M180.6 266.4a2.1 2.1 0 1 0 -4.2 0a2.1 2.1 0 1 0 4.2 0M184.4 263.6a2.1 2.1 0 1 0 -4.2 0a2.1 2.1 0 1 0 4.2 0M54.7 258.9a2.1 2.1 0 1 0 -4.2 0a2.1 2.1 0 1 0 4.2 0M61.9 248.6a2.1 2.1 0 1 0 -4.2 0a2.1 2.1 0 1 0 4.2 0M63.2 230.6a2.1 2.1 0 1 0 -4.2 0a2.1 2.1 0 1 0 4.2 0M70.7 241.5a2.1 2.1 0 1 0 -4.2 0a2.1 2.1 0 1 0 4.2 0M86.4 244.5a2.1 2.1 0 1 0 -4.2 0a2.1 2.1 0 1 0 4.2 0M102.9 249.1a2.1 2.1 0 1 0 -4.2 0a2.1 2.1 0 1 0 4.2 0M118.1 247.1a2.1 2.1 0 1 0 -4.2 0a2.1 2.1 0 1 0 4.2 0M149.7 253.5a2.1 2.1 0 1 0 -4.2 0a2.1 2.1 0 1 0 4.2 0M165.3 252.8a2.1 2.1 0 1 0 -4.2 0a2.1 2.1 0 1 0 4.2 0M176.7 259.6a2.1 2.1 0 1 0 -4.2 0a2.1 2.1 0 1 0 4.2 0M180.6 257.9a2.1 2.1 0 1 0 -4.2 0a2.1 2.1 0 1 0 4.2 0M184.4 255.6a2.1 2.1 0 1 0 -4.2 0a2.1 2.1 0 1 0 4.2 0M54.7 287.4a2.1 2.1 0 1 0 -4.2 0a2.1 2.1 0 1 0 4.2 0M61.9 270.4a2.1 2.1 0 1 0 -4.2 0a2.1 2.1 0 1 0 4.2 0M63.2 258.7a2.1 2.1 0 1 0 -4.2 0a2.1 2.1 0 1 0 4.2 0M70.7 255.7a2.1 2.1 0 1 0 -4.2 0a2.1 2.1 0 1 0 4.2 0M86.4 253.7a2.1 2.1 0 1 0 -4.2 0a2.1 2.1 0 1 0 4.2 0M102.9 256.4a2.1 2.1 0 1 0 -4.2 0a2.1 2.1 0 1 0 4.2 0M118.1 255.1a2.1 2.1 0 1 0 -4.2 0a2.1 2.1 0 1 0 4.2 0M149.7 259.5a2.1 2.1 0 1 0 -4.2 0a2.1 2.1 0 1 0 4.2 0M165.3 257.2a2.1 2.1 0 1 0 -4.2 0a2.1 2.1 0 1 0 4.2 0M176.7 257.6a2.1 2.1 0 1 0 -4.2 0a2.1 2.1 0 1 0 4.2 0M180.6 253.5a2.1 2.1 0 1 0 -4.2 0a2.1 2.1 0 1 0 4.2 0M184.4 256.4a2.1 2.1 0 1 0 -4.2 0a2.1 2.1 0 1 0 4.2 0M54.7 265.8a2.1 2.1 0 1 0 -4.2 0a2.1 2.1 0 1 0 4.2 0M61.9 256.2a2.1 2.1 0 1 0 -4.2 0a2.1 2.1 0 1 0 4.2 0M63.2 237.9a2.1 2.1 0 1 0 -4.2 0a2.1 2.1 0 1 0 4.2 0M70.7 231.0a2.1 2.1 0 1 0 -4.2 0a2.1 2.1 0 1 0 4.2 0M86.4 231.2a2.1 2.1 0 1 0 -4.2 0a2.1 2.1 0 1 0 4.2 0M102.9 229.7a2.1 2.1 0 1 0 -4.2 0a2.1 2.1 0 1 0 4.2 0M118.1 229.7a2.1 2.1 0 1 0 -4.2 0a2.1 2.1 0 1 0 4.2 0M149.7 230.8a2.1 2.1 0 1 0 -4.2 0a2.1 2.1 0 1 0 4.2 0M165.3 235.2a2.1 2.1 0 1 0 -4.2 0a2.1 2.1 0 1 0 4.2 0M176.7 235.7a2.1 2.1 0 1 0 -4.2 0a2.1 2.1 0 1 0 4.2 0M180.6 235.1a2.1 2.1 0 1 0 -4.2 0a2.1 2.1 0 1 0 4.2 0M184.4 236.1a2.1 2.1 0 1 0 -4.2 0a2.1 2.1 0 1 0 4.2 0M54.7 285.3a2.1 2.1 0 1 0 -4.2 0a2.1 2.1 0 1 0 4.2 0M61.9 268.9a2.1 2.1 0 1 0 -4.2 0a2.1 2.1 0 1 0 4.2 0M63.2 231.5a2.1 2.1 0 1 0 -4.2 0a2.1 2.1 0 1 0 4.2 0M70.7 239.6a2.1 2.1 0 1 0 -4.2 0a2.1 2.1 0 1 0 4.2 0M86.4 239.9a2.1 2.1 0 1 0 -4.2 0a2.1 2.1 0 1 0 4.2 0M102.9 239.8a2.1 2.1 0 1 0 -4.2 0a2.1 2.1 0 1 0 4.2 0M118.1 239.5a2.1 2.1 0 1 0 -4.2 0a2.1 2.1 0 1 0 4.2 0M149.7 242.9a2.1 2.1 0 1 0 -4.2 0a2.1 2.1 0 1 0 4.2 0M165.3 241.2a2.1 2.1 0 1 0 -4.2 0a2.1 2.1 0 1 0 4.2 0M176.7 243.6a2.1 2.1 0 1 0 -4.2 0a2.1 2.1 0 1 0 4.2 0M180.6 246.3a2.1 2.1 0 1 0 -4.2 0a2.1 2.1 0 1 0 4.2 0M184.4 243.8a2.1 2.1 0 1 0 -4.2 0a2.1 2.1 0 1 0 4.2 0M54.7 262.8a2.1 2.1 0 1 0 -4.2 0a2.1 2.1 0 1 0 4.2 0M61.9 251.6a2.1 2.1 0 1 0 -4.2 0a2.1 2.1 0 1 0 4.2 0M63.2 242.5a2.1 2.1 0 1 0 -4.2 0a2.1 2.1 0 1 0 4.2 0M70.7 248.1a2.1 2.1 0 1 0 -4.2 0a2.1 2.1 0 1 0 4.2 0M86.4 249.5a2.1 2.1 0 1 0 -4.2 0a2.1 2.1 0 1 0 4.2 0M102.9 249.2a2.1 2.1 0 1 0 -4.2 0a2.1 2.1 0 1 0 4.2 0M118.1 250.0a2.1 2.1 0 1 0 -4.2 0a2.1 2.1 0 1 0 4.2 0M149.7 252.9a2.1 2.1 0 1 0 -4.2 0a2.1 2.1 0 1 0 4.2 0M165.3 250.7a2.1 2.1 0 1 0 -4.2 0a2.1 2.1 0 1 0 4.2 0M176.7 252.1a2.1 2.1 0 1 0 -4.2 0a2.1 2.1 0 1 0 4.2 0M180.6 251.4a2.1 2.1 0 1 0 -4.2 0a2.1 2.1 0 1 0 4.2 0M184.4 253.4a2.1 2.1 0 1 0 -4.2 0a2.1 2.1 0 1 0 4.2 0M54.7 271.0a2.1 2.1 0 1 0 -4.2 0a2.1 2.1 0 1 0 4.2 0M61.9 277.1a2.1 2.1 0 1 0 -4.2 0a2.1 2.1 0 1 0 4.2 0M63.2 248.3a2.1 2.1 0 1 0 -4.2 0a2.1 2.1 0 1 0 4.2 0M70.7 248.8a2.1 2.1 0 1 0 -4.2 0a2.1 2.1 0 1 0 4.2 0M86.4 245.7a2.1 2.1 0 1 0 -4.2 0a2.1 2.1 0 1 0 4.2 0M102.9 248.6a2.1 2.1 0 1 0 -4.2 0a2.1 2.1 0 1 0 4.2 0M118.1 247.1a2.1 2.1 0 1 0 -4.2 0a2.1 2.1 0 1 0 4.2 0M149.7 246.8a2.1 2.1 0 1 0 -4.2 0a2.1 2.1 0 1 0 4.2 0M165.3 245.8a2.1 2.1 0 1 0 -4.2 0a2.1 2.1 0 1 0 4.2 0M176.7 251.6a2.1 2.1 0 1 0 -4.2 0a2.1 2.1 0 1 0 4.2 0M180.6 251.3a2.1 2.1 0 1 0 -4.2 0a2.1 2.1 0 1 0 4.2 0M184.4 248.2a2.1 2.1 0 1 0 -4.2 0a2.1 2.1 0 1 0 4.2 0M54.7 261.0a2.1 2.1 0 1 0 -4.2 0a2.1 2.1 0 1 0 4.2 0M61.9 251.5a2.1 2.1 0 1 0 -4.2 0a2.1 2.1 0 1 0 4.2 0M63.2 252.8a2.1 2.1 0 1 0 -4.2 0a2.1 2.1 0 1 0 4.2 0M70.7 249.1a2.1 2.1 0 1 0 -4.2 0a2.1 2.1 0 1 0 4.2 0M86.4 251.0a2.1 2.1 0 1 0 -4.2 0a2.1 2.1 0 1 0 4.2 0M102.9 253.2a2.1 2.1 0 1 0 -4.2 0a2.1 2.1 0 1 0 4.2 0M118.1 250.0a2.1 2.1 0 1 0 -4.2 0a2.1 2.1 0 1 0 4.2 0M149.7 254.2a2.1 2.1 0 1 0 -4.2 0a2.1 2.1 0 1 0 4.2 0M165.3 257.2a2.1 2.1 0 1 0 -4.2 0a2.1 2.1 0 1 0 4.2 0M176.7 258.8a2.1 2.1 0 1 0 -4.2 0a2.1 2.1 0 1 0 4.2 0M180.6 259.6a2.1 2.1 0 1 0 -4.2 0a2.1 2.1 0 1 0 4.2 0M184.4 254.5a2.1 2.1 0 1 0 -4.2 0a2.1 2.1 0 1 0 4.2 0M54.7 262.0a2.1 2.1 0 1 0 -4.2 0a2.1 2.1 0 1 0 4.2 0M61.9 240.0a2.1 2.1 0 1 0 -4.2 0a2.1 2.1 0 1 0 4.2 0M63.2 226.4a2.1 2.1 0 1 0 -4.2 0a2.1 2.1 0 1 0 4.2 0M70.7 223.3a2.1 2.1 0 1 0 -4.2 0a2.1 2.1 0 1 0 4.2 0M86.4 221.6a2.1 2.1 0 1 0 -4.2 0a2.1 2.1 0 1 0 4.2 0M102.9 223.5a2.1 2.1 0 1 0 -4.2 0a2.1 2.1 0 1 0 4.2 0M118.1 224.0a2.1 2.1 0 1 0 -4.2 0a2.1 2.1 0 1 0 4.2 0M149.7 227.1a2.1 2.1 0 1 0 -4.2 0a2.1 2.1 0 1 0 4.2 0M165.3 229.0a2.1 2.1 0 1 0 -4.2 0a2.1 2.1 0 1 0 4.2 0M176.7 230.0a2.1 2.1 0 1 0 -4.2 0a2.1 2.1 0 1 0 4.2 0M180.6 231.0a2.1 2.1 0 1 0 -4.2 0a2.1 2.1 0 1 0 4.2 0M184.4 232.0a2.1 2.1 0 1 0 -4.2 0a2.1 2.1 0 1 0 4.2 0M54.7 290.0a2.1 2.1 0 1 0 -4.2 0a2.1 2.1 0 1 0 4.2 0M61.9 301.8a2.1 2.1 0 1 0 -4.2 0a2.1 2.1 0 1 0 4.2 0M63.2 301.8a2.1 2.1 0 1 0 -4.2 0a2.1 2.1 0 1 0 4.2 0M70.7 301.8a2.1 2.1 0 1 0 -4.2 0a2.1 2.1 0 1 0 4.2 0M86.4 255.0a2.1 2.1 0 1 0 -4.2 0a2.1 2.1 0 1 0 4.2 0M102.9 252.0a2.1 2.1 0 1 0 -4.2 0a2.1 2.1 0 1 0 4.2 0M118.1 250.0a2.1 2.1 0 1 0 -4.2 0a2.1 2.1 0 1 0 4.2 0M149.7 254.0a2.1 2.1 0 1 0 -4.2 0a2.1 2.1 0 1 0 4.2 0M165.3 256.0a2.1 2.1 0 1 0 -4.2 0a2.1 2.1 0 1 0 4.2 0M176.7 258.0a2.1 2.1 0 1 0 -4.2 0a2.1 2.1 0 1 0 4.2 0M180.6 259.0a2.1 2.1 0 1 0 -4.2 0a2.1 2.1 0 1 0 4.2 0M184.4 260.0a2.1 2.1 0 1 0 -4.2 0a2.1 2.1 0 1 0 4.2 0M54.7 285.0a2.1 2.1 0 1 0 -4.2 0a2.1 2.1 0 1 0 4.2 0M61.9 295.0a2.1 2.1 0 1 0 -4.2 0a2.1 2.1 0 1 0 4.2 0M63.2 301.8a2.1 2.1 0 1 0 -4.2 0a2.1 2.1 0 1 0 4.2 0M70.7 301.8a2.1 2.1 0 1 0 -4.2 0a2.1 2.1 0 1 0 4.2 0M86.4 248.0a2.1 2.1 0 1 0 -4.2 0a2.1 2.1 0 1 0 4.2 0M102.9 245.0a2.1 2.1 0 1 0 -4.2 0a2.1 2.1 0 1 0 4.2 0M118.1 247.0a2.1 2.1 0 1 0 -4.2 0a2.1 2.1 0 1 0 4.2 0M149.7 251.0a2.1 2.1 0 1 0 -4.2 0a2.1 2.1 0 1 0 4.2 0M165.3 253.0a2.1 2.1 0 1 0 -4.2 0a2.1 2.1 0 1 0 4.2 0M176.7 256.0a2.1 2.1 0 1 0 -4.2 0a2.1 2.1 0 1 0 4.2 0M180.6 257.0a2.1 2.1 0 1 0 -4.2 0a2.1 2.1 0 1 0 4.2 0M184.4 259.0a2.1 2.1 0 1 0 -4.2 0a2.1 2.1 0 1 0 4.2 0M54.7 288.0a2.1 2.1 0 1 0 -4.2 0a2.1 2.1 0 1 0 4.2 0M61.9 300.0a2.1 2.1 0 1 0 -4.2 0a2.1 2.1 0 1 0 4.2 0M63.2 301.8a2.1 2.1 0 1 0 -4.2 0a2.1 2.1 0 1 0 4.2 0M70.7 266.7a2.1 2.1 0 1 0 -4.2 0a2.1 2.1 0 1 0 4.2 0M86.4 266.7a2.1 2.1 0 1 0 -4.2 0a2.1 2.1 0 1 0 4.2 0M102.9 266.7a2.1 2.1 0 1 0 -4.2 0a2.1 2.1 0 1 0 4.2 0M118.1 262.0a2.1 2.1 0 1 0 -4.2 0a2.1 2.1 0 1 0 4.2 0M149.7 265.6a2.1 2.1 0 1 0 -4.2 0a2.1 2.1 0 1 0 4.2 0M165.3 269.7a2.1 2.1 0 1 0 -4.2 0a2.1 2.1 0 1 0 4.2 0M176.7 270.7a2.1 2.1 0 1 0 -4.2 0a2.1 2.1 0 1 0 4.2 0M180.6 273.8a2.1 2.1 0 1 0 -4.2 0a2.1 2.1 0 1 0 4.2 0M184.4 277.9a2.1 2.1 0 1 0 -4.2 0a2.1 2.1 0 1 0 4.2 0M54.7 280.0a2.1 2.1 0 1 0 -4.2 0a2.1 2.1 0 1 0 4.2 0M61.9 270.0a2.1 2.1 0 1 0 -4.2 0a2.1 2.1 0 1 0 4.2 0M63.2 285.0a2.1 2.1 0 1 0 -4.2 0a2.1 2.1 0 1 0 4.2 0M70.7 290.0a2.1 2.1 0 1 0 -4.2 0a2.1 2.1 0 1 0 4.2 0M86.4 280.0a2.1 2.1 0 1 0 -4.2 0a2.1 2.1 0 1 0 4.2 0M102.9 262.0a2.1 2.1 0 1 0 -4.2 0a2.1 2.1 0 1 0 4.2 0M118.1 258.0a2.1 2.1 0 1 0 -4.2 0a2.1 2.1 0 1 0 4.2 0M149.7 260.0a2.1 2.1 0 1 0 -4.2 0a2.1 2.1 0 1 0 4.2 0M165.3 262.0a2.1 2.1 0 1 0 -4.2 0a2.1 2.1 0 1 0 4.2 0M176.7 265.0a2.1 2.1 0 1 0 -4.2 0a2.1 2.1 0 1 0 4.2 0M180.6 268.0a2.1 2.1 0 1 0 -4.2 0a2.1 2.1 0 1 0 4.2 0M184.4 270.0a2.1 2.1 0 1 0 -4.2 0a2.1 2.1 0 1 0 4.2 0M54.7 296.8a2.1 2.1 0 1 0 -4.2 0a2.1 2.1 0 1 0 4.2 0M61.9 301.0a2.1 2.1 0 1 0 -4.2 0a2.1 2.1 0 1 0 4.2 0M63.2 301.8a2.1 2.1 0 1 0 -4.2 0a2.1 2.1 0 1 0 4.2 0M70.7 301.8a2.1 2.1 0 1 0 -4.2 0a2.1 2.1 0 1 0 4.2 0M86.4 301.8a2.1 2.1 0 1 0 -4.2 0a2.1 2.1 0 1 0 4.2 0M102.9 302.1a2.1 2.1 0 1 0 -4.2 0a2.1 2.1 0 1 0 4.2 0M118.1 302.1a2.1 2.1 0 1 0 -4.2 0a2.1 2.1 0 1 0 4.2 0M149.7 302.5a2.1 2.1 0 1 0 -4.2 0a2.1 2.1 0 1 0 4.2 0M165.3 302.5a2.1 2.1 0 1 0 -4.2 0a2.1 2.1 0 1 0 4.2 0M176.7 302.2a2.1 2.1 0 1 0 -4.2 0a2.1 2.1 0 1 0 4.2 0M180.6 302.0a2.1 2.1 0 1 0 -4.2 0a2.1 2.1 0 1 0 4.2 0M184.4 300.6a2.1 2.1 0 1 0 -4.2 0a2.1 2.1 0 1 0 4.2 0" fill="#fff" fill-opacity="0.35" stroke="#000" stroke-width="0.6"/>
<circle cx="52.20" cy="243.40" r="2.35" fill="#d3262b" stroke="#a81c22" stroke-width="0.4" />
<circle cx="68.80" cy="280.10" r="2.35" fill="#d3262b" stroke="#a81c22" stroke-width="0.4" />
<circle cx="84.20" cy="288.60" r="2.35" fill="#d3262b" stroke="#a81c22" stroke-width="0.4" />
<circle cx="100.80" cy="275.90" r="2.35" fill="#d3262b" stroke="#a81c22" stroke-width="0.4" />
<circle cx="115.90" cy="265.70" r="2.35" fill="#d3262b" stroke="#a81c22" stroke-width="0.4" />
<circle cx="163.20" cy="228.60" r="2.35" fill="#d3262b" stroke="#a81c22" stroke-width="0.4" />
<circle cx="178.30" cy="224.80" r="2.35" fill="#d3262b" stroke="#a81c22" stroke-width="0.4" />
<path d="M199.60 213.40L199.60 312.70" stroke="#8c8c8c" stroke-width="0.8" />
<path d="M199.60 312.30L328.80 312.30" stroke="#8c8c8c" stroke-width="0.8" />
<path d="M328.80 213.40L328.80 312.70" stroke="#8c8c8c" stroke-width="0.8" />
<path d="M197.40 213.30L199.60 213.30" stroke="#888" stroke-width="0.6" />
<path d="M197.40 229.70L199.60 229.70" stroke="#888" stroke-width="0.6" />
<path d="M197.40 246.10L199.60 246.10" stroke="#888" stroke-width="0.6" />
<path d="M197.40 262.50L199.60 262.50" stroke="#888" stroke-width="0.6" />
<path d="M197.40 278.90L199.60 278.90" stroke="#888" stroke-width="0.6" />
<path d="M197.40 295.30L199.60 295.30" stroke="#888" stroke-width="0.6" />
<path d="M197.40 311.70L199.60 311.70" stroke="#888" stroke-width="0.6" />
<path d="M198.50 224.76L199.60 224.76" stroke="#aaa" stroke-width="0.4" />
<path d="M198.50 221.88L199.60 221.88" stroke="#aaa" stroke-width="0.4" />
<path d="M198.50 219.83L199.60 219.83" stroke="#aaa" stroke-width="0.4" />
<path d="M198.50 218.24L199.60 218.24" stroke="#aaa" stroke-width="0.4" />
<path d="M198.50 216.94L199.60 216.94" stroke="#aaa" stroke-width="0.4" />
<path d="M198.50 215.84L199.60 215.84" stroke="#aaa" stroke-width="0.4" />
<path d="M198.50 214.89L199.60 214.89" stroke="#aaa" stroke-width="0.4" />
<path d="M198.50 214.05L199.60 214.05" stroke="#aaa" stroke-width="0.4" />
<path d="M198.50 241.16L199.60 241.16" stroke="#aaa" stroke-width="0.4" />
<path d="M198.50 238.28L199.60 238.28" stroke="#aaa" stroke-width="0.4" />
<path d="M198.50 236.23L199.60 236.23" stroke="#aaa" stroke-width="0.4" />
<path d="M198.50 234.64L199.60 234.64" stroke="#aaa" stroke-width="0.4" />
<path d="M198.50 233.34L199.60 233.34" stroke="#aaa" stroke-width="0.4" />
<path d="M198.50 232.24L199.60 232.24" stroke="#aaa" stroke-width="0.4" />
<path d="M198.50 231.29L199.60 231.29" stroke="#aaa" stroke-width="0.4" />
<path d="M198.50 230.45L199.60 230.45" stroke="#aaa" stroke-width="0.4" />
<path d="M198.50 257.56L199.60 257.56" stroke="#aaa" stroke-width="0.4" />
<path d="M198.50 254.68L199.60 254.68" stroke="#aaa" stroke-width="0.4" />
<path d="M198.50 252.63L199.60 252.63" stroke="#aaa" stroke-width="0.4" />
<path d="M198.50 251.04L199.60 251.04" stroke="#aaa" stroke-width="0.4" />
<path d="M198.50 249.74L199.60 249.74" stroke="#aaa" stroke-width="0.4" />
<path d="M198.50 248.64L199.60 248.64" stroke="#aaa" stroke-width="0.4" />
<path d="M198.50 247.69L199.60 247.69" stroke="#aaa" stroke-width="0.4" />
<path d="M198.50 246.85L199.60 246.85" stroke="#aaa" stroke-width="0.4" />
<path d="M198.50 273.96L199.60 273.96" stroke="#aaa" stroke-width="0.4" />
<path d="M198.50 271.08L199.60 271.08" stroke="#aaa" stroke-width="0.4" />
<path d="M198.50 269.03L199.60 269.03" stroke="#aaa" stroke-width="0.4" />
<path d="M198.50 267.44L199.60 267.44" stroke="#aaa" stroke-width="0.4" />
<path d="M198.50 266.14L199.60 266.14" stroke="#aaa" stroke-width="0.4" />
<path d="M198.50 265.04L199.60 265.04" stroke="#aaa" stroke-width="0.4" />
<path d="M198.50 264.09L199.60 264.09" stroke="#aaa" stroke-width="0.4" />
<path d="M198.50 263.25L199.60 263.25" stroke="#aaa" stroke-width="0.4" />
<path d="M198.50 290.36L199.60 290.36" stroke="#aaa" stroke-width="0.4" />
<path d="M198.50 287.48L199.60 287.48" stroke="#aaa" stroke-width="0.4" />
<path d="M198.50 285.43L199.60 285.43" stroke="#aaa" stroke-width="0.4" />
<path d="M198.50 283.84L199.60 283.84" stroke="#aaa" stroke-width="0.4" />
<path d="M198.50 282.54L199.60 282.54" stroke="#aaa" stroke-width="0.4" />
<path d="M198.50 281.44L199.60 281.44" stroke="#aaa" stroke-width="0.4" />
<path d="M198.50 280.49L199.60 280.49" stroke="#aaa" stroke-width="0.4" />
<path d="M198.50 279.65L199.60 279.65" stroke="#aaa" stroke-width="0.4" />
<path d="M198.50 306.76L199.60 306.76" stroke="#aaa" stroke-width="0.4" />
<path d="M198.50 303.88L199.60 303.88" stroke="#aaa" stroke-width="0.4" />
<path d="M198.50 301.83L199.60 301.83" stroke="#aaa" stroke-width="0.4" />
<path d="M198.50 300.24L199.60 300.24" stroke="#aaa" stroke-width="0.4" />
<path d="M198.50 298.94L199.60 298.94" stroke="#aaa" stroke-width="0.4" />
<path d="M198.50 297.84L199.60 297.84" stroke="#aaa" stroke-width="0.4" />
<path d="M198.50 296.89L199.60 296.89" stroke="#aaa" stroke-width="0.4" />
<path d="M198.50 296.05L199.60 296.05" stroke="#aaa" stroke-width="0.4" />
<path d="M328.80 213.30L331.00 213.30" stroke="#888" stroke-width="0.6" />
<path d="M328.80 229.70L331.00 229.70" stroke="#888" stroke-width="0.6" />
<path d="M328.80 246.10L331.00 246.10" stroke="#888" stroke-width="0.6" />
<path d="M328.80 262.50L331.00 262.50" stroke="#888" stroke-width="0.6" />
<path d="M328.80 278.90L331.00 278.90" stroke="#888" stroke-width="0.6" />
<path d="M328.80 295.30L331.00 295.30" stroke="#888" stroke-width="0.6" />
<path d="M328.80 311.70L331.00 311.70" stroke="#888" stroke-width="0.6" />
<path d="M328.80 224.76L329.90 224.76" stroke="#aaa" stroke-width="0.4" />
<path d="M328.80 221.88L329.90 221.88" stroke="#aaa" stroke-width="0.4" />
<path d="M328.80 219.83L329.90 219.83" stroke="#aaa" stroke-width="0.4" />
<path d="M328.80 218.24L329.90 218.24" stroke="#aaa" stroke-width="0.4" />
<path d="M328.80 216.94L329.90 216.94" stroke="#aaa" stroke-width="0.4" />
<path d="M328.80 215.84L329.90 215.84" stroke="#aaa" stroke-width="0.4" />
<path d="M328.80 214.89L329.90 214.89" stroke="#aaa" stroke-width="0.4" />
<path d="M328.80 214.05L329.90 214.05" stroke="#aaa" stroke-width="0.4" />
<path d="M328.80 241.16L329.90 241.16" stroke="#aaa" stroke-width="0.4" />
<path d="M328.80 238.28L329.90 238.28" stroke="#aaa" stroke-width="0.4" />
<path d="M328.80 236.23L329.90 236.23" stroke="#aaa" stroke-width="0.4" />
<path d="M328.80 234.64L329.90 234.64" stroke="#aaa" stroke-width="0.4" />
<path d="M328.80 233.34L329.90 233.34" stroke="#aaa" stroke-width="0.4" />
<path d="M328.80 232.24L329.90 232.24" stroke="#aaa" stroke-width="0.4" />
<path d="M328.80 231.29L329.90 231.29" stroke="#aaa" stroke-width="0.4" />
<path d="M328.80 230.45L329.90 230.45" stroke="#aaa" stroke-width="0.4" />
<path d="M328.80 257.56L329.90 257.56" stroke="#aaa" stroke-width="0.4" />
<path d="M328.80 254.68L329.90 254.68" stroke="#aaa" stroke-width="0.4" />
<path d="M328.80 252.63L329.90 252.63" stroke="#aaa" stroke-width="0.4" />
<path d="M328.80 251.04L329.90 251.04" stroke="#aaa" stroke-width="0.4" />
<path d="M328.80 249.74L329.90 249.74" stroke="#aaa" stroke-width="0.4" />
<path d="M328.80 248.64L329.90 248.64" stroke="#aaa" stroke-width="0.4" />
<path d="M328.80 247.69L329.90 247.69" stroke="#aaa" stroke-width="0.4" />
<path d="M328.80 246.85L329.90 246.85" stroke="#aaa" stroke-width="0.4" />
<path d="M328.80 273.96L329.90 273.96" stroke="#aaa" stroke-width="0.4" />
<path d="M328.80 271.08L329.90 271.08" stroke="#aaa" stroke-width="0.4" />
<path d="M328.80 269.03L329.90 269.03" stroke="#aaa" stroke-width="0.4" />
<path d="M328.80 267.44L329.90 267.44" stroke="#aaa" stroke-width="0.4" />
<path d="M328.80 266.14L329.90 266.14" stroke="#aaa" stroke-width="0.4" />
<path d="M328.80 265.04L329.90 265.04" stroke="#aaa" stroke-width="0.4" />
<path d="M328.80 264.09L329.90 264.09" stroke="#aaa" stroke-width="0.4" />
<path d="M328.80 263.25L329.90 263.25" stroke="#aaa" stroke-width="0.4" />
<path d="M328.80 290.36L329.90 290.36" stroke="#aaa" stroke-width="0.4" />
<path d="M328.80 287.48L329.90 287.48" stroke="#aaa" stroke-width="0.4" />
<path d="M328.80 285.43L329.90 285.43" stroke="#aaa" stroke-width="0.4" />
<path d="M328.80 283.84L329.90 283.84" stroke="#aaa" stroke-width="0.4" />
<path d="M328.80 282.54L329.90 282.54" stroke="#aaa" stroke-width="0.4" />
<path d="M328.80 281.44L329.90 281.44" stroke="#aaa" stroke-width="0.4" />
<path d="M328.80 280.49L329.90 280.49" stroke="#aaa" stroke-width="0.4" />
<path d="M328.80 279.65L329.90 279.65" stroke="#aaa" stroke-width="0.4" />
<path d="M328.80 306.76L329.90 306.76" stroke="#aaa" stroke-width="0.4" />
<path d="M328.80 303.88L329.90 303.88" stroke="#aaa" stroke-width="0.4" />
<path d="M328.80 301.83L329.90 301.83" stroke="#aaa" stroke-width="0.4" />
<path d="M328.80 300.24L329.90 300.24" stroke="#aaa" stroke-width="0.4" />
<path d="M328.80 298.94L329.90 298.94" stroke="#aaa" stroke-width="0.4" />
<path d="M328.80 297.84L329.90 297.84" stroke="#aaa" stroke-width="0.4" />
<path d="M328.80 296.89L329.90 296.89" stroke="#aaa" stroke-width="0.4" />
<path d="M328.80 296.05L329.90 296.05" stroke="#aaa" stroke-width="0.4" />
<path d="M206.20 312.30L206.20 314.30" stroke="#8c8c8c" stroke-width="0.6" />
<path d="M225.80 312.30L225.80 314.30" stroke="#8c8c8c" stroke-width="0.6" />
<path d="M245.40 312.30L245.40 314.30" stroke="#8c8c8c" stroke-width="0.6" />
<path d="M265.00 312.30L265.00 314.30" stroke="#8c8c8c" stroke-width="0.6" />
<path d="M284.60 312.30L284.60 314.30" stroke="#8c8c8c" stroke-width="0.6" />
<path d="M304.20 312.30L304.20 314.30" stroke="#8c8c8c" stroke-width="0.6" />
<path d="M323.80 312.30L323.80 314.30" stroke="#8c8c8c" stroke-width="0.6" />
<path d="M201.84 312.30v1.3M204.02 312.30v1.3M206.20 312.30v1.3M208.38 312.30v1.3M210.56 312.30v1.3M212.73 312.30v1.3M214.91 312.30v1.3M217.09 312.30v1.3M219.27 312.30v1.3M221.44 312.30v1.3M223.62 312.30v1.3M225.80 312.30v1.3M227.98 312.30v1.3M230.16 312.30v1.3M232.33 312.30v1.3M234.51 312.30v1.3M236.69 312.30v1.3M238.87 312.30v1.3M241.04 312.30v1.3M243.22 312.30v1.3M245.40 312.30v1.3M247.58 312.30v1.3M249.76 312.30v1.3M251.93 312.30v1.3M254.11 312.30v1.3M256.29 312.30v1.3M258.47 312.30v1.3M260.64 312.30v1.3M262.82 312.30v1.3M265.00 312.30v1.3M267.18 312.30v1.3M269.36 312.30v1.3M271.53 312.30v1.3M273.71 312.30v1.3M275.89 312.30v1.3M278.07 312.30v1.3M280.24 312.30v1.3M282.42 312.30v1.3M284.60 312.30v1.3M286.78 312.30v1.3M288.96 312.30v1.3M291.13 312.30v1.3M293.31 312.30v1.3M295.49 312.30v1.3M297.67 312.30v1.3M299.84 312.30v1.3M302.02 312.30v1.3M304.20 312.30v1.3M306.38 312.30v1.3M308.56 312.30v1.3M310.73 312.30v1.3M312.91 312.30v1.3M315.09 312.30v1.3M317.27 312.30v1.3M319.44 312.30v1.3M321.62 312.30v1.3M323.80 312.30v1.3M325.98 312.30v1.3" stroke="#9a9a9a" stroke-width="0.45" fill="none"/>
<text x="206.20" y="322.90" font-size="6.4" text-anchor="middle" fill="#222" stroke="#222" stroke-width="0.18" >0</text>
<text x="225.80" y="322.90" font-size="6.4" text-anchor="middle" fill="#222" stroke="#222" stroke-width="0.18" >90</text>
<text x="245.40" y="322.90" font-size="6.4" text-anchor="middle" fill="#222" stroke="#222" stroke-width="0.18" >180</text>
<text x="265.00" y="322.90" font-size="6.4" text-anchor="middle" fill="#222" stroke="#222" stroke-width="0.18" >270</text>
<text x="284.60" y="322.90" font-size="6.4" text-anchor="middle" fill="#222" stroke="#222" stroke-width="0.18" >360</text>
<text x="304.20" y="322.90" font-size="6.4" text-anchor="middle" fill="#222" stroke="#222" stroke-width="0.18" >450</text>
<text x="323.80" y="322.90" font-size="6.4" text-anchor="middle" fill="#222" stroke="#222" stroke-width="0.18" >540</text>
<text x="263.40" y="338.20" font-size="9.65" text-anchor="middle" fill="#111" stroke="#111" stroke-width="0.32" >Days post-HCT</text>
<text x="234.70" y="205.10" font-size="6.4" text-anchor="middle" fill="#111" stroke="#111" stroke-width="0.18" >RELAPSE</text>
<text x="260.80" y="195.20" font-size="6.4" text-anchor="middle" fill="#111" stroke="#111" stroke-width="0.18" >DLI</text>
<path d="M254.80 197.30L267.40 197.30" stroke="#111" stroke-width="0.7" />
<path d="M248.00 207.00L248.00 216.30" stroke="#000" stroke-width="1.1" />
<path d="M245.70,215.60L250.30,215.60L248.00,220.30Z" fill="#000"/>
<path d="M258.20 197.30L258.20 216.30" stroke="#000" stroke-width="1.1" />
<path d="M255.90,215.60L260.50,215.60L258.20,220.30Z" fill="#000"/>
<path d="M263.70 197.30L263.70 216.30" stroke="#000" stroke-width="1.1" />
<path d="M261.40,215.60L266.00,215.60L263.70,220.30Z" fill="#000"/>
<polyline points="203.5,229.8 213.1,242.0 225.9,274.4 245.9,228.1 284.5,227.4 326.1,235.8" fill="none" stroke="#ec7d78" stroke-width="0.65"/>
<circle cx="203.50" cy="229.80" r="2.35" fill="#d3262b" stroke="#a81c22" stroke-width="0.4" />
<circle cx="213.10" cy="242.00" r="2.35" fill="#d3262b" stroke="#a81c22" stroke-width="0.4" />
<circle cx="225.90" cy="274.40" r="2.35" fill="#d3262b" stroke="#a81c22" stroke-width="0.4" />
<circle cx="245.90" cy="228.10" r="2.35" fill="#d3262b" stroke="#a81c22" stroke-width="0.4" />
<circle cx="284.50" cy="227.40" r="2.35" fill="#d3262b" stroke="#a81c22" stroke-width="0.4" />
<circle cx="326.10" cy="235.80" r="2.35" fill="#d3262b" stroke="#a81c22" stroke-width="0.4" />
<path d="M341.80 213.40L341.80 313.40" stroke="#8c8c8c" stroke-width="0.8" />
<path d="M341.80 313.00L474.60 313.00" stroke="#8c8c8c" stroke-width="0.8" />
<path d="M474.60 212.40L474.60 313.40" stroke="#8c8c8c" stroke-width="0.8" />
<path d="M341.80 213.00L343.80 213.00" stroke="#888" stroke-width="0.6" />
<path d="M341.80 227.33L343.80 227.33" stroke="#888" stroke-width="0.6" />
<path d="M341.80 241.66L343.80 241.66" stroke="#888" stroke-width="0.6" />
<path d="M341.80 255.99L343.80 255.99" stroke="#888" stroke-width="0.6" />
<path d="M341.80 270.32L343.80 270.32" stroke="#888" stroke-width="0.6" />
<path d="M341.80 284.65L343.80 284.65" stroke="#888" stroke-width="0.6" />
<path d="M341.80 298.98L343.80 298.98" stroke="#888" stroke-width="0.6" />
<path d="M472.40 213.30L474.60 213.30" stroke="#888" stroke-width="0.6" />
<path d="M472.40 229.70L474.60 229.70" stroke="#888" stroke-width="0.6" />
<path d="M472.40 246.10L474.60 246.10" stroke="#888" stroke-width="0.6" />
<path d="M472.40 262.50L474.60 262.50" stroke="#888" stroke-width="0.6" />
<path d="M472.40 278.90L474.60 278.90" stroke="#888" stroke-width="0.6" />
<path d="M472.40 295.30L474.60 295.30" stroke="#888" stroke-width="0.6" />
<path d="M472.40 311.70L474.60 311.70" stroke="#888" stroke-width="0.6" />
<path d="M473.50 224.76L474.60 224.76" stroke="#aaa" stroke-width="0.4" />
<path d="M473.50 221.88L474.60 221.88" stroke="#aaa" stroke-width="0.4" />
<path d="M473.50 219.83L474.60 219.83" stroke="#aaa" stroke-width="0.4" />
<path d="M473.50 218.24L474.60 218.24" stroke="#aaa" stroke-width="0.4" />
<path d="M473.50 216.94L474.60 216.94" stroke="#aaa" stroke-width="0.4" />
<path d="M473.50 215.84L474.60 215.84" stroke="#aaa" stroke-width="0.4" />
<path d="M473.50 214.89L474.60 214.89" stroke="#aaa" stroke-width="0.4" />
<path d="M473.50 214.05L474.60 214.05" stroke="#aaa" stroke-width="0.4" />
<path d="M473.50 241.16L474.60 241.16" stroke="#aaa" stroke-width="0.4" />
<path d="M473.50 238.28L474.60 238.28" stroke="#aaa" stroke-width="0.4" />
<path d="M473.50 236.23L474.60 236.23" stroke="#aaa" stroke-width="0.4" />
<path d="M473.50 234.64L474.60 234.64" stroke="#aaa" stroke-width="0.4" />
<path d="M473.50 233.34L474.60 233.34" stroke="#aaa" stroke-width="0.4" />
<path d="M473.50 232.24L474.60 232.24" stroke="#aaa" stroke-width="0.4" />
<path d="M473.50 231.29L474.60 231.29" stroke="#aaa" stroke-width="0.4" />
<path d="M473.50 230.45L474.60 230.45" stroke="#aaa" stroke-width="0.4" />
<path d="M473.50 257.56L474.60 257.56" stroke="#aaa" stroke-width="0.4" />
<path d="M473.50 254.68L474.60 254.68" stroke="#aaa" stroke-width="0.4" />
<path d="M473.50 252.63L474.60 252.63" stroke="#aaa" stroke-width="0.4" />
<path d="M473.50 251.04L474.60 251.04" stroke="#aaa" stroke-width="0.4" />
<path d="M473.50 249.74L474.60 249.74" stroke="#aaa" stroke-width="0.4" />
<path d="M473.50 248.64L474.60 248.64" stroke="#aaa" stroke-width="0.4" />
<path d="M473.50 247.69L474.60 247.69" stroke="#aaa" stroke-width="0.4" />
<path d="M473.50 246.85L474.60 246.85" stroke="#aaa" stroke-width="0.4" />
<path d="M473.50 273.96L474.60 273.96" stroke="#aaa" stroke-width="0.4" />
<path d="M473.50 271.08L474.60 271.08" stroke="#aaa" stroke-width="0.4" />
<path d="M473.50 269.03L474.60 269.03" stroke="#aaa" stroke-width="0.4" />
<path d="M473.50 267.44L474.60 267.44" stroke="#aaa" stroke-width="0.4" />
<path d="M473.50 266.14L474.60 266.14" stroke="#aaa" stroke-width="0.4" />
<path d="M473.50 265.04L474.60 265.04" stroke="#aaa" stroke-width="0.4" />
<path d="M473.50 264.09L474.60 264.09" stroke="#aaa" stroke-width="0.4" />
<path d="M473.50 263.25L474.60 263.25" stroke="#aaa" stroke-width="0.4" />
<path d="M473.50 290.36L474.60 290.36" stroke="#aaa" stroke-width="0.4" />
<path d="M473.50 287.48L474.60 287.48" stroke="#aaa" stroke-width="0.4" />
<path d="M473.50 285.43L474.60 285.43" stroke="#aaa" stroke-width="0.4" />
<path d="M473.50 283.84L474.60 283.84" stroke="#aaa" stroke-width="0.4" />
<path d="M473.50 282.54L474.60 282.54" stroke="#aaa" stroke-width="0.4" />
<path d="M473.50 281.44L474.60 281.44" stroke="#aaa" stroke-width="0.4" />
<path d="M473.50 280.49L474.60 280.49" stroke="#aaa" stroke-width="0.4" />
<path d="M473.50 279.65L474.60 279.65" stroke="#aaa" stroke-width="0.4" />
<path d="M473.50 306.76L474.60 306.76" stroke="#aaa" stroke-width="0.4" />
<path d="M473.50 303.88L474.60 303.88" stroke="#aaa" stroke-width="0.4" />
<path d="M473.50 301.83L474.60 301.83" stroke="#aaa" stroke-width="0.4" />
<path d="M473.50 300.24L474.60 300.24" stroke="#aaa" stroke-width="0.4" />
<path d="M473.50 298.94L474.60 298.94" stroke="#aaa" stroke-width="0.4" />
<path d="M473.50 297.84L474.60 297.84" stroke="#aaa" stroke-width="0.4" />
<path d="M473.50 296.89L474.60 296.89" stroke="#aaa" stroke-width="0.4" />
<path d="M473.50 296.05L474.60 296.05" stroke="#aaa" stroke-width="0.4" />
<path d="M351.00 313.00L351.00 315.20" stroke="#8c8c8c" stroke-width="0.6" />
<path d="M370.40 313.00L370.40 315.20" stroke="#8c8c8c" stroke-width="0.6" />
<path d="M389.80 313.00L389.80 315.20" stroke="#8c8c8c" stroke-width="0.6" />
<path d="M409.20 313.00L409.20 315.20" stroke="#8c8c8c" stroke-width="0.6" />
<path d="M428.60 313.00L428.60 315.20" stroke="#8c8c8c" stroke-width="0.6" />
<path d="M448.00 313.00L448.00 315.20" stroke="#8c8c8c" stroke-width="0.6" />
<path d="M467.40 313.00L467.40 315.20" stroke="#8c8c8c" stroke-width="0.6" />
<path d="M344.53 313.00v1.3M347.77 313.00v1.3M351.00 313.00v1.3M354.23 313.00v1.3M357.47 313.00v1.3M360.70 313.00v1.3M363.93 313.00v1.3M367.17 313.00v1.3M370.40 313.00v1.3M373.63 313.00v1.3M376.87 313.00v1.3M380.10 313.00v1.3M383.33 313.00v1.3M386.57 313.00v1.3M389.80 313.00v1.3M393.03 313.00v1.3M396.27 313.00v1.3M399.50 313.00v1.3M402.73 313.00v1.3M405.97 313.00v1.3M409.20 313.00v1.3M412.43 313.00v1.3M415.67 313.00v1.3M418.90 313.00v1.3M422.13 313.00v1.3M425.37 313.00v1.3M428.60 313.00v1.3M431.83 313.00v1.3M435.07 313.00v1.3M438.30 313.00v1.3M441.53 313.00v1.3M444.77 313.00v1.3M448.00 313.00v1.3M451.23 313.00v1.3M454.47 313.00v1.3M457.70 313.00v1.3M460.93 313.00v1.3M464.17 313.00v1.3M467.40 313.00v1.3M470.63 313.00v1.3" stroke="#9a9a9a" stroke-width="0.45" fill="none"/>
<text x="351.00" y="322.90" font-size="6.4" text-anchor="middle" fill="#222" stroke="#222" stroke-width="0.18" >0</text>
<text x="370.40" y="322.90" font-size="6.4" text-anchor="middle" fill="#222" stroke="#222" stroke-width="0.18" >60</text>
<text x="389.80" y="322.90" font-size="6.4" text-anchor="middle" fill="#222" stroke="#222" stroke-width="0.18" >120</text>
<text x="409.20" y="322.90" font-size="6.4" text-anchor="middle" fill="#222" stroke="#222" stroke-width="0.18" >180</text>
<text x="428.60" y="322.90" font-size="6.4" text-anchor="middle" fill="#222" stroke="#222" stroke-width="0.18" >240</text>
<text x="448.00" y="322.90" font-size="6.4" text-anchor="middle" fill="#222" stroke="#222" stroke-width="0.18" >300</text>
<text x="467.40" y="322.90" font-size="6.4" text-anchor="middle" fill="#222" stroke="#222" stroke-width="0.18" >360</text>
<text x="409.80" y="338.20" font-size="9.65" text-anchor="middle" fill="#111" stroke="#111" stroke-width="0.32" >Days post-HCT</text>
<text x="478.40" y="216.00" font-size="6.7" fill="#222" stroke="#222" stroke-width="0.18" >100</text>
<text x="478.40" y="232.40" font-size="6.7" fill="#222" stroke="#222" stroke-width="0.18" >10</text>
<text x="478.40" y="248.80" font-size="6.7" fill="#222" stroke="#222" stroke-width="0.18" >1</text>
<text x="478.40" y="265.20" font-size="6.7" fill="#222" stroke="#222" stroke-width="0.18" >0.1</text>
<text x="478.40" y="281.60" font-size="6.7" fill="#222" stroke="#222" stroke-width="0.18" >0.01</text>
<text x="478.40" y="298.00" font-size="6.7" fill="#222" stroke="#222" stroke-width="0.18" >0.001</text>
<text x="478.40" y="314.40" font-size="6.7" fill="#222" stroke="#222" stroke-width="0.18" >0.0001</text>
<text font-size="9.4" text-anchor="middle" fill="#111" stroke="#111" stroke-width="0.28" transform="translate(510.7,268.8) rotate(90)"><tspan x="0" y="0">IGH Clonotype MRD</tspan><tspan x="0" y="10.4">(%WBC)</tspan></text>
<path d="M502.30 217.60L514.60 217.60" stroke="#f08a84" stroke-width="0.7" />
<circle cx="508.40" cy="217.60" r="2.5" fill="#dd2a22" stroke="none" stroke-width="1" />
<text x="407.60" y="205.60" font-size="6.4" text-anchor="middle" fill="#111" stroke="#111" stroke-width="0.18" >RELAPSE</text>
<text x="430.20" y="197.60" font-size="6.4" text-anchor="middle" fill="#111" stroke="#111" stroke-width="0.18" >DLI</text>
<path d="M420.80 207.00L420.80 216.30" stroke="#000" stroke-width="1.1" />
<path d="M418.50,215.60L423.10,215.60L420.80,220.30Z" fill="#000"/>
<path d="M430.00 199.50L430.00 216.30" stroke="#000" stroke-width="1.1" />
<path d="M427.70,215.60L432.30,215.60L430.00,220.30Z" fill="#000"/>
<path d="M347.4 302.4L361.0 262.7L380.4 236.0L409.3 246.0M347.4 302.4L361.0 258.3L380.4 238.0L409.3 244.0M347.4 302.4L361.0 245.2L380.4 223.2L409.3 229.0M347.4 302.4L361.0 245.0L380.4 245.0L409.3 245.5M347.4 302.4L361.0 262.7L380.4 234.9L409.3 259.8M347.4 302.4L361.0 293.5L380.4 250.2L409.3 253.5M347.4 302.4L361.0 293.5L380.4 242.1L409.3 250.5M347.4 302.4L361.0 293.5L380.4 241.6L409.3 246.4M347.4 302.4L361.0 293.5L380.4 241.3L409.3 244.1M347.4 302.4L361.0 293.5L380.4 243.9L409.3 255.4M347.4 302.4L361.0 293.5L380.4 247.7L409.3 244.2M347.4 302.4L361.0 293.5L380.4 242.2L409.3 251.3M347.4 302.4L361.0 293.5L380.4 246.1L409.3 243.4M347.4 302.4L361.0 293.5L380.4 240.7L409.3 250.9M347.4 302.4L361.0 293.5L380.4 247.0L409.3 244.1M347.4 302.4L361.0 293.5L380.4 249.2L409.3 246.4M347.4 302.4L361.0 293.5L380.4 246.9L409.3 250.4" fill="none" stroke="#444" stroke-width="0.55"/>
<path d="M409.3 243.4L467.6 258.2M409.3 250.5L467.6 262.4M409.3 244.5L467.6 256.4M409.3 244.0L467.6 262.9M409.3 249.2L467.6 251.4M409.3 250.0L467.6 257.9M409.3 248.4L467.6 264.6M409.3 243.3L467.6 249.9M409.3 229L467.6 268" fill="none" stroke="#555" stroke-width="0.55"/>
<path d="M409.3 301.4L467.6 254.9M409.3 301.4L467.6 279.8M409.3 301.4L467.6 257.2M409.3 301.4L467.6 258.4M409.3 301.4L467.6 263.1M409.3 301.4L467.6 275.4M409.3 301.4L467.6 281.5M409.3 301.4L467.6 272.6M409.3 301.4L467.6 263.1M409.3 301.4L467.6 270.4M409.3 301.4L467.6 267.2M409.3 301.4L467.6 280.3M409.3 301.4L467.6 280.8M409.3 301.4L467.6 272.2M409.3 301.4L467.6 249.9M409.3 301.4L467.6 264.3M409.3 301.4L467.6 259.0M409.3 301.4L467.6 250.5M409.3 301.4L467.6 273.0M409.3 301.4L467.6 250.1M409.3 301.4L467.6 270.1M409.3 301.4L467.6 261.1M409.3 249.0L467.6 286.5M409.3 252.9L467.6 291.8M409.3 253.1L467.6 298.9M409.3 256.9L467.6 305.9M409.3 257.0L467.6 288.0M409.3 254.2L467.6 284.5M409.3 246.7L467.6 305.9M409.3 252.4L467.6 302.0M409.3 249.9L467.6 295.0M409.3 256.2L467.6 290.0M409.3 249.3L467.6 305.9" fill="none" stroke="#000" stroke-width="0.6"/>
<path d="M347.4 302.4L361 293.5L380.4 299.4L409.3 301.4" fill="none" stroke="#000" stroke-width="1.2"/>
<path d="M363.1 262.7a2.1 2.1 0 1 0 -4.2 0a2.1 2.1 0 1 0 4.2 0M382.5 236.0a2.1 2.1 0 1 0 -4.2 0a2.1 2.1 0 1 0 4.2 0M411.4 246.0a2.1 2.1 0 1 0 -4.2 0a2.1 2.1 0 1 0 4.2 0M363.1 258.3a2.1 2.1 0 1 0 -4.2 0a2.1 2.1 0 1 0 4.2 0M382.5 238.0a2.1 2.1 0 1 0 -4.2 0a2.1 2.1 0 1 0 4.2 0M411.4 244.0a2.1 2.1 0 1 0 -4.2 0a2.1 2.1 0 1 0 4.2 0M363.1 245.2a2.1 2.1 0 1 0 -4.2 0a2.1 2.1 0 1 0 4.2 0M382.5 223.2a2.1 2.1 0 1 0 -4.2 0a2.1 2.1 0 1 0 4.2 0M411.4 229.0a2.1 2.1 0 1 0 -4.2 0a2.1 2.1 0 1 0 4.2 0M363.1 245.0a2.1 2.1 0 1 0 -4.2 0a2.1 2.1 0 1 0 4.2 0M382.5 245.0a2.1 2.1 0 1 0 -4.2 0a2.1 2.1 0 1 0 4.2 0M411.4 245.5a2.1 2.1 0 1 0 -4.2 0a2.1 2.1 0 1 0 4.2 0M363.1 262.7a2.1 2.1 0 1 0 -4.2 0a2.1 2.1 0 1 0 4.2 0M382.5 234.9a2.1 2.1 0 1 0 -4.2 0a2.1 2.1 0 1 0 4.2 0M411.4 259.8a2.1 2.1 0 1 0 -4.2 0a2.1 2.1 0 1 0 4.2 0M363.1 293.5a2.1 2.1 0 1 0 -4.2 0a2.1 2.1 0 1 0 4.2 0M382.5 250.2a2.1 2.1 0 1 0 -4.2 0a2.1 2.1 0 1 0 4.2 0M411.4 253.5a2.1 2.1 0 1 0 -4.2 0a2.1 2.1 0 1 0 4.2 0M363.1 293.5a2.1 2.1 0 1 0 -4.2 0a2.1 2.1 0 1 0 4.2 0M382.5 242.1a2.1 2.1 0 1 0 -4.2 0a2.1 2.1 0 1 0 4.2 0M411.4 250.5a2.1 2.1 0 1 0 -4.2 0a2.1 2.1 0 1 0 4.2 0M363.1 293.5a2.1 2.1 0 1 0 -4.2 0a2.1 2.1 0 1 0 4.2 0M382.5 241.6a2.1 2.1 0 1 0 -4.2 0a2.1 2.1 0 1 0 4.2 0M411.4 246.4a2.1 2.1 0 1 0 -4.2 0a2.1 2.1 0 1 0 4.2 0M363.1 293.5a2.1 2.1 0 1 0 -4.2 0a2.1 2.1 0 1 0 4.2 0M382.5 241.3a2.1 2.1 0 1 0 -4.2 0a2.1 2.1 0 1 0 4.2 0M411.4 244.1a2.1 2.1 0 1 0 -4.2 0a2.1 2.1 0 1 0 4.2 0M363.1 293.5a2.1 2.1 0 1 0 -4.2 0a2.1 2.1 0 1 0 4.2 0M382.5 243.9a2.1 2.1 0 1 0 -4.2 0a2.1 2.1 0 1 0 4.2 0M411.4 255.4a2.1 2.1 0 1 0 -4.2 0a2.1 2.1 0 1 0 4.2 0M363.1 293.5a2.1 2.1 0 1 0 -4.2 0a2.1 2.1 0 1 0 4.2 0M382.5 247.7a2.1 2.1 0 1 0 -4.2 0a2.1 2.1 0 1 0 4.2 0M411.4 244.2a2.1 2.1 0 1 0 -4.2 0a2.1 2.1 0 1 0 4.2 0M363.1 293.5a2.1 2.1 0 1 0 -4.2 0a2.1 2.1 0 1 0 4.2 0M382.5 242.2a2.1 2.1 0 1 0 -4.2 0a2.1 2.1 0 1 0 4.2 0M411.4 251.3a2.1 2.1 0 1 0 -4.2 0a2.1 2.1 0 1 0 4.2 0M363.1 293.5a2.1 2.1 0 1 0 -4.2 0a2.1 2.1 0 1 0 4.2 0M382.5 246.1a2.1 2.1 0 1 0 -4.2 0a2.1 2.1 0 1 0 4.2 0M411.4 243.4a2.1 2.1 0 1 0 -4.2 0a2.1 2.1 0 1 0 4.2 0M363.1 293.5a2.1 2.1 0 1 0 -4.2 0a2.1 2.1 0 1 0 4.2 0M382.5 240.7a2.1 2.1 0 1 0 -4.2 0a2.1 2.1 0 1 0 4.2 0M411.4 250.9a2.1 2.1 0 1 0 -4.2 0a2.1 2.1 0 1 0 4.2 0M363.1 293.5a2.1 2.1 0 1 0 -4.2 0a2.1 2.1 0 1 0 4.2 0M382.5 247.0a2.1 2.1 0 1 0 -4.2 0a2.1 2.1 0 1 0 4.2 0M411.4 244.1a2.1 2.1 0 1 0 -4.2 0a2.1 2.1 0 1 0 4.2 0M363.1 293.5a2.1 2.1 0 1 0 -4.2 0a2.1 2.1 0 1 0 4.2 0M382.5 249.2a2.1 2.1 0 1 0 -4.2 0a2.1 2.1 0 1 0 4.2 0M411.4 246.4a2.1 2.1 0 1 0 -4.2 0a2.1 2.1 0 1 0 4.2 0M363.1 293.5a2.1 2.1 0 1 0 -4.2 0a2.1 2.1 0 1 0 4.2 0M382.5 246.9a2.1 2.1 0 1 0 -4.2 0a2.1 2.1 0 1 0 4.2 0M411.4 250.4a2.1 2.1 0 1 0 -4.2 0a2.1 2.1 0 1 0 4.2 0M469.7 254.9a2.1 2.1 0 1 0 -4.2 0a2.1 2.1 0 1 0 4.2 0M469.7 279.8a2.1 2.1 0 1 0 -4.2 0a2.1 2.1 0 1 0 4.2 0M469.7 257.2a2.1 2.1 0 1 0 -4.2 0a2.1 2.1 0 1 0 4.2 0M469.7 258.4a2.1 2.1 0 1 0 -4.2 0a2.1 2.1 0 1 0 4.2 0M469.7 263.1a2.1 2.1 0 1 0 -4.2 0a2.1 2.1 0 1 0 4.2 0M469.7 275.4a2.1 2.1 0 1 0 -4.2 0a2.1 2.1 0 1 0 4.2 0M469.7 281.5a2.1 2.1 0 1 0 -4.2 0a2.1 2.1 0 1 0 4.2 0M469.7 272.6a2.1 2.1 0 1 0 -4.2 0a2.1 2.1 0 1 0 4.2 0M469.7 263.1a2.1 2.1 0 1 0 -4.2 0a2.1 2.1 0 1 0 4.2 0M469.7 270.4a2.1 2.1 0 1 0 -4.2 0a2.1 2.1 0 1 0 4.2 0M469.7 267.2a2.1 2.1 0 1 0 -4.2 0a2.1 2.1 0 1 0 4.2 0M469.7 280.3a2.1 2.1 0 1 0 -4.2 0a2.1 2.1 0 1 0 4.2 0M469.7 280.8a2.1 2.1 0 1 0 -4.2 0a2.1 2.1 0 1 0 4.2 0M469.7 272.2a2.1 2.1 0 1 0 -4.2 0a2.1 2.1 0 1 0 4.2 0M469.7 249.9a2.1 2.1 0 1 0 -4.2 0a2.1 2.1 0 1 0 4.2 0M469.7 264.3a2.1 2.1 0 1 0 -4.2 0a2.1 2.1 0 1 0 4.2 0M469.7 259.0a2.1 2.1 0 1 0 -4.2 0a2.1 2.1 0 1 0 4.2 0M469.7 250.5a2.1 2.1 0 1 0 -4.2 0a2.1 2.1 0 1 0 4.2 0M469.7 273.0a2.1 2.1 0 1 0 -4.2 0a2.1 2.1 0 1 0 4.2 0M469.7 250.1a2.1 2.1 0 1 0 -4.2 0a2.1 2.1 0 1 0 4.2 0M469.7 270.1a2.1 2.1 0 1 0 -4.2 0a2.1 2.1 0 1 0 4.2 0M469.7 261.1a2.1 2.1 0 1 0 -4.2 0a2.1 2.1 0 1 0 4.2 0M469.7 286.5a2.1 2.1 0 1 0 -4.2 0a2.1 2.1 0 1 0 4.2 0M469.7 291.8a2.1 2.1 0 1 0 -4.2 0a2.1 2.1 0 1 0 4.2 0M469.7 298.9a2.1 2.1 0 1 0 -4.2 0a2.1 2.1 0 1 0 4.2 0M469.7 305.9a2.1 2.1 0 1 0 -4.2 0a2.1 2.1 0 1 0 4.2 0M469.7 288.0a2.1 2.1 0 1 0 -4.2 0a2.1 2.1 0 1 0 4.2 0M469.7 284.5a2.1 2.1 0 1 0 -4.2 0a2.1 2.1 0 1 0 4.2 0M469.7 305.9a2.1 2.1 0 1 0 -4.2 0a2.1 2.1 0 1 0 4.2 0M469.7 302.0a2.1 2.1 0 1 0 -4.2 0a2.1 2.1 0 1 0 4.2 0M469.7 295.0a2.1 2.1 0 1 0 -4.2 0a2.1 2.1 0 1 0 4.2 0M469.7 290.0a2.1 2.1 0 1 0 -4.2 0a2.1 2.1 0 1 0 4.2 0M469.7 305.9a2.1 2.1 0 1 0 -4.2 0a2.1 2.1 0 1 0 4.2 0M469.7 258.2a2.1 2.1 0 1 0 -4.2 0a2.1 2.1 0 1 0 4.2 0M469.7 262.4a2.1 2.1 0 1 0 -4.2 0a2.1 2.1 0 1 0 4.2 0M469.7 256.4a2.1 2.1 0 1 0 -4.2 0a2.1 2.1 0 1 0 4.2 0M469.7 262.9a2.1 2.1 0 1 0 -4.2 0a2.1 2.1 0 1 0 4.2 0M469.7 251.4a2.1 2.1 0 1 0 -4.2 0a2.1 2.1 0 1 0 4.2 0M469.7 257.9a2.1 2.1 0 1 0 -4.2 0a2.1 2.1 0 1 0 4.2 0M469.7 264.6a2.1 2.1 0 1 0 -4.2 0a2.1 2.1 0 1 0 4.2 0M469.7 249.9a2.1 2.1 0 1 0 -4.2 0a2.1 2.1 0 1 0 4.2 0" fill="#fff" fill-opacity="0.55" stroke="#222" stroke-width="0.55"/>
<circle cx="347.40" cy="302.40" r="2.2" fill="none" stroke="#000" stroke-width="1.1" />
<circle cx="361.00" cy="293.50" r="2.2" fill="none" stroke="#000" stroke-width="1.1" />
<circle cx="380.40" cy="299.40" r="2.2" fill="none" stroke="#000" stroke-width="1.1" />
<circle cx="409.30" cy="301.40" r="2.2" fill="none" stroke="#000" stroke-width="1.1" />
<circle cx="467.60" cy="305.90" r="2.2" fill="none" stroke="#000" stroke-width="1.1" />
<polyline points="361.1,215.8 380.4,253.0 409.3,240.9 438.5,220.8 467.6,253.4" fill="none" stroke="#ec7d78" stroke-width="0.65"/>
<circle cx="361.10" cy="215.80" r="2.35" fill="#d3262b" stroke="#a81c22" stroke-width="0.4" />
<circle cx="380.40" cy="253.00" r="2.35" fill="#d3262b" stroke="#a81c22" stroke-width="0.4" />
<circle cx="409.30" cy="240.90" r="2.35" fill="#d3262b" stroke="#a81c22" stroke-width="0.4" />
<circle cx="438.50" cy="220.80" r="2.35" fill="#d3262b" stroke="#a81c22" stroke-width="0.4" />
<circle cx="467.60" cy="253.40" r="2.35" fill="#d3262b" stroke="#a81c22" stroke-width="0.4" />
</svg>
</body></html>
